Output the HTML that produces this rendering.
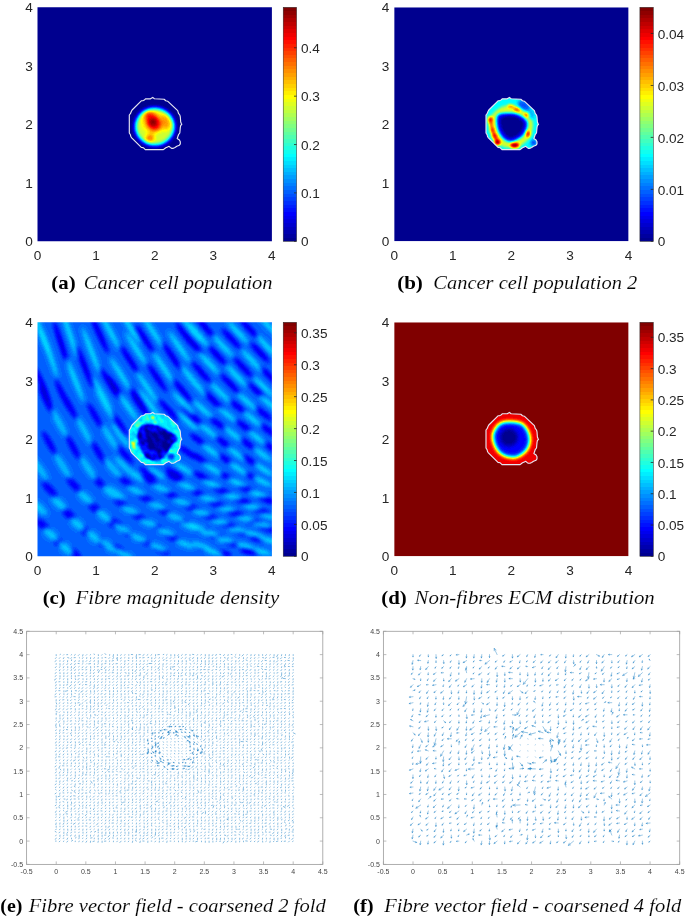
<!DOCTYPE html>
<html><head><meta charset="utf-8"><title>fig</title><style>
html,body{margin:0;padding:0;background:#fff;}
body{width:685px;height:917px;overflow:hidden;position:relative;}
svg{position:absolute;left:0;top:0;will-change:transform;}
</style></head><body>
<svg width="685" height="917" viewBox="0 0 685 917">
<defs><linearGradient id="cbg" x1="0" y1="0" x2="0" y2="1"><stop offset="0.00000" stop-color="#800000"/><stop offset="0.01562" stop-color="#800000"/><stop offset="0.01562" stop-color="#8f0000"/><stop offset="0.03125" stop-color="#8f0000"/><stop offset="0.03125" stop-color="#9f0000"/><stop offset="0.04688" stop-color="#9f0000"/><stop offset="0.04688" stop-color="#af0000"/><stop offset="0.06250" stop-color="#af0000"/><stop offset="0.06250" stop-color="#bf0000"/><stop offset="0.07812" stop-color="#bf0000"/><stop offset="0.07812" stop-color="#cf0000"/><stop offset="0.09375" stop-color="#cf0000"/><stop offset="0.09375" stop-color="#df0000"/><stop offset="0.10938" stop-color="#df0000"/><stop offset="0.10938" stop-color="#ef0000"/><stop offset="0.12500" stop-color="#ef0000"/><stop offset="0.12500" stop-color="#ff0000"/><stop offset="0.14062" stop-color="#ff0000"/><stop offset="0.14062" stop-color="#ff1000"/><stop offset="0.15625" stop-color="#ff1000"/><stop offset="0.15625" stop-color="#ff2000"/><stop offset="0.17188" stop-color="#ff2000"/><stop offset="0.17188" stop-color="#ff3000"/><stop offset="0.18750" stop-color="#ff3000"/><stop offset="0.18750" stop-color="#ff4000"/><stop offset="0.20312" stop-color="#ff4000"/><stop offset="0.20312" stop-color="#ff5000"/><stop offset="0.21875" stop-color="#ff5000"/><stop offset="0.21875" stop-color="#ff6000"/><stop offset="0.23438" stop-color="#ff6000"/><stop offset="0.23438" stop-color="#ff7000"/><stop offset="0.25000" stop-color="#ff7000"/><stop offset="0.25000" stop-color="#ff8000"/><stop offset="0.26562" stop-color="#ff8000"/><stop offset="0.26562" stop-color="#ff8f00"/><stop offset="0.28125" stop-color="#ff8f00"/><stop offset="0.28125" stop-color="#ff9f00"/><stop offset="0.29688" stop-color="#ff9f00"/><stop offset="0.29688" stop-color="#ffaf00"/><stop offset="0.31250" stop-color="#ffaf00"/><stop offset="0.31250" stop-color="#ffbf00"/><stop offset="0.32812" stop-color="#ffbf00"/><stop offset="0.32812" stop-color="#ffcf00"/><stop offset="0.34375" stop-color="#ffcf00"/><stop offset="0.34375" stop-color="#ffdf00"/><stop offset="0.35938" stop-color="#ffdf00"/><stop offset="0.35938" stop-color="#ffef00"/><stop offset="0.37500" stop-color="#ffef00"/><stop offset="0.37500" stop-color="#ffff00"/><stop offset="0.39062" stop-color="#ffff00"/><stop offset="0.39062" stop-color="#efff10"/><stop offset="0.40625" stop-color="#efff10"/><stop offset="0.40625" stop-color="#dfff20"/><stop offset="0.42188" stop-color="#dfff20"/><stop offset="0.42188" stop-color="#cfff30"/><stop offset="0.43750" stop-color="#cfff30"/><stop offset="0.43750" stop-color="#bfff40"/><stop offset="0.45312" stop-color="#bfff40"/><stop offset="0.45312" stop-color="#afff50"/><stop offset="0.46875" stop-color="#afff50"/><stop offset="0.46875" stop-color="#9fff60"/><stop offset="0.48438" stop-color="#9fff60"/><stop offset="0.48438" stop-color="#8fff70"/><stop offset="0.50000" stop-color="#8fff70"/><stop offset="0.50000" stop-color="#80ff80"/><stop offset="0.51562" stop-color="#80ff80"/><stop offset="0.51562" stop-color="#70ff8f"/><stop offset="0.53125" stop-color="#70ff8f"/><stop offset="0.53125" stop-color="#60ff9f"/><stop offset="0.54688" stop-color="#60ff9f"/><stop offset="0.54688" stop-color="#50ffaf"/><stop offset="0.56250" stop-color="#50ffaf"/><stop offset="0.56250" stop-color="#40ffbf"/><stop offset="0.57812" stop-color="#40ffbf"/><stop offset="0.57812" stop-color="#30ffcf"/><stop offset="0.59375" stop-color="#30ffcf"/><stop offset="0.59375" stop-color="#20ffdf"/><stop offset="0.60938" stop-color="#20ffdf"/><stop offset="0.60938" stop-color="#10ffef"/><stop offset="0.62500" stop-color="#10ffef"/><stop offset="0.62500" stop-color="#00ffff"/><stop offset="0.64062" stop-color="#00ffff"/><stop offset="0.64062" stop-color="#00efff"/><stop offset="0.65625" stop-color="#00efff"/><stop offset="0.65625" stop-color="#00dfff"/><stop offset="0.67188" stop-color="#00dfff"/><stop offset="0.67188" stop-color="#00cfff"/><stop offset="0.68750" stop-color="#00cfff"/><stop offset="0.68750" stop-color="#00bfff"/><stop offset="0.70312" stop-color="#00bfff"/><stop offset="0.70312" stop-color="#00afff"/><stop offset="0.71875" stop-color="#00afff"/><stop offset="0.71875" stop-color="#009fff"/><stop offset="0.73438" stop-color="#009fff"/><stop offset="0.73438" stop-color="#008fff"/><stop offset="0.75000" stop-color="#008fff"/><stop offset="0.75000" stop-color="#0080ff"/><stop offset="0.76562" stop-color="#0080ff"/><stop offset="0.76562" stop-color="#0070ff"/><stop offset="0.78125" stop-color="#0070ff"/><stop offset="0.78125" stop-color="#0060ff"/><stop offset="0.79688" stop-color="#0060ff"/><stop offset="0.79688" stop-color="#0050ff"/><stop offset="0.81250" stop-color="#0050ff"/><stop offset="0.81250" stop-color="#0040ff"/><stop offset="0.82812" stop-color="#0040ff"/><stop offset="0.82812" stop-color="#0030ff"/><stop offset="0.84375" stop-color="#0030ff"/><stop offset="0.84375" stop-color="#0020ff"/><stop offset="0.85938" stop-color="#0020ff"/><stop offset="0.85938" stop-color="#0010ff"/><stop offset="0.87500" stop-color="#0010ff"/><stop offset="0.87500" stop-color="#0000ff"/><stop offset="0.89062" stop-color="#0000ff"/><stop offset="0.89062" stop-color="#0000ef"/><stop offset="0.90625" stop-color="#0000ef"/><stop offset="0.90625" stop-color="#0000df"/><stop offset="0.92188" stop-color="#0000df"/><stop offset="0.92188" stop-color="#0000cf"/><stop offset="0.93750" stop-color="#0000cf"/><stop offset="0.93750" stop-color="#0000bf"/><stop offset="0.95312" stop-color="#0000bf"/><stop offset="0.95312" stop-color="#0000af"/><stop offset="0.96875" stop-color="#0000af"/><stop offset="0.96875" stop-color="#00009f"/><stop offset="0.98438" stop-color="#00009f"/><stop offset="0.98438" stop-color="#00008f"/><stop offset="1.00000" stop-color="#00008f"/></linearGradient>
<clipPath id="pc_a"><rect x="37.50" y="7.30" width="234.40" height="234.00"/></clipPath>
<clipPath id="cc_a"><path transform="translate(154.70,124.30)" d="M-2.00,-26.90 -0.30,-25.50 9.40,-25.00 11.10,-23.50 12.90,-23.10 23.00,-13.70 23.80,-11.00 25.10,-9.30 25.60,-7.50 26.00,-2.30 26.50,-1.00 27.10,0.10 26.00,1.20 25.60,3.40 25.10,8.70 23.80,10.40 23.20,12.20 22.50,14.30 24.70,15.70 25.60,17.40 25.60,19.60 24.70,20.90 22.10,22.00 20.30,23.10 18.60,24.00 16.80,24.00 15.50,23.10 14.40,22.00 12.90,22.70 11.10,23.50 9.80,24.40 8.70,25.30 -9.40,25.30 -11.20,23.50 -13.40,23.10 -23.00,13.50 -23.90,12.20 -24.30,10.40 -25.40,8.70 -25.40,-9.30 -24.30,-10.60 -23.40,-12.80 -22.60,-14.30 -13.40,-23.50 -11.60,-23.70 -10.30,-24.40 -9.00,-25.50 -4.20,-25.50Z"/></clipPath>
<clipPath id="pc_b"><rect x="394.20" y="7.30" width="234.40" height="234.00"/></clipPath>
<clipPath id="cc_b"><path transform="translate(511.40,124.30)" d="M-2.00,-26.90 -0.30,-25.50 9.40,-25.00 11.10,-23.50 12.90,-23.10 23.00,-13.70 23.80,-11.00 25.10,-9.30 25.60,-7.50 26.00,-2.30 26.50,-1.00 27.10,0.10 26.00,1.20 25.60,3.40 25.10,8.70 23.80,10.40 23.20,12.20 22.50,14.30 24.70,15.70 25.60,17.40 25.60,19.60 24.70,20.90 22.10,22.00 20.30,23.10 18.60,24.00 16.80,24.00 15.50,23.10 14.40,22.00 12.90,22.70 11.10,23.50 9.80,24.40 8.70,25.30 -9.40,25.30 -11.20,23.50 -13.40,23.10 -23.00,13.50 -23.90,12.20 -24.30,10.40 -25.40,8.70 -25.40,-9.30 -24.30,-10.60 -23.40,-12.80 -22.60,-14.30 -13.40,-23.50 -11.60,-23.70 -10.30,-24.40 -9.00,-25.50 -4.20,-25.50Z"/></clipPath>
<clipPath id="pc_c"><rect x="37.50" y="322.30" width="234.40" height="234.00"/></clipPath>
<clipPath id="cc_c"><path transform="translate(154.70,439.30)" d="M-2.00,-26.90 -0.30,-25.50 9.40,-25.00 11.10,-23.50 12.90,-23.10 23.00,-13.70 23.80,-11.00 25.10,-9.30 25.60,-7.50 26.00,-2.30 26.50,-1.00 27.10,0.10 26.00,1.20 25.60,3.40 25.10,8.70 23.80,10.40 23.20,12.20 22.50,14.30 24.70,15.70 25.60,17.40 25.60,19.60 24.70,20.90 22.10,22.00 20.30,23.10 18.60,24.00 16.80,24.00 15.50,23.10 14.40,22.00 12.90,22.70 11.10,23.50 9.80,24.40 8.70,25.30 -9.40,25.30 -11.20,23.50 -13.40,23.10 -23.00,13.50 -23.90,12.20 -24.30,10.40 -25.40,8.70 -25.40,-9.30 -24.30,-10.60 -23.40,-12.80 -22.60,-14.30 -13.40,-23.50 -11.60,-23.70 -10.30,-24.40 -9.00,-25.50 -4.20,-25.50Z"/></clipPath>
<clipPath id="pc_d"><rect x="394.20" y="322.30" width="234.40" height="234.00"/></clipPath>
<clipPath id="cc_d"><path transform="translate(511.40,439.30)" d="M-2.00,-26.90 -0.30,-25.50 9.40,-25.00 11.10,-23.50 12.90,-23.10 23.00,-13.70 23.80,-11.00 25.10,-9.30 25.60,-7.50 26.00,-2.30 26.50,-1.00 27.10,0.10 26.00,1.20 25.60,3.40 25.10,8.70 23.80,10.40 23.20,12.20 22.50,14.30 24.70,15.70 25.60,17.40 25.60,19.60 24.70,20.90 22.10,22.00 20.30,23.10 18.60,24.00 16.80,24.00 15.50,23.10 14.40,22.00 12.90,22.70 11.10,23.50 9.80,24.40 8.70,25.30 -9.40,25.30 -11.20,23.50 -13.40,23.10 -23.00,13.50 -23.90,12.20 -24.30,10.40 -25.40,8.70 -25.40,-9.30 -24.30,-10.60 -23.40,-12.80 -22.60,-14.30 -13.40,-23.50 -11.60,-23.70 -10.30,-24.40 -9.00,-25.50 -4.20,-25.50Z"/></clipPath>
<filter id="jfa" color-interpolation-filters="sRGB" x="0" y="0" width="1" height="1"><feGaussianBlur stdDeviation="2.30"/><feComponentTransfer><feFuncR type="discrete" tableValues="0.0000 0.0000 0.0000 0.0000 0.0000 0.0000 0.0000 0.0000 0.0000 0.0000 0.0000 0.0000 0.0000 0.0000 0.0000 0.0000 0.0000 0.0000 0.0000 0.0000 0.0000 0.0000 0.0000 0.0000 0.0625 0.1250 0.1875 0.2500 0.3125 0.3750 0.4375 0.5000 0.5625 0.6250 0.6875 0.7500 0.8125 0.8750 0.9375 1.0000 1.0000 1.0000 1.0000 1.0000 1.0000 1.0000 1.0000 1.0000 1.0000 1.0000 1.0000 1.0000 1.0000 1.0000 1.0000 1.0000 0.9375 0.8750 0.8125 0.7500 0.6875 0.6250 0.5625 0.5000"/><feFuncG type="discrete" tableValues="0.0000 0.0000 0.0000 0.0000 0.0000 0.0000 0.0000 0.0000 0.0625 0.1250 0.1875 0.2500 0.3125 0.3750 0.4375 0.5000 0.5625 0.6250 0.6875 0.7500 0.8125 0.8750 0.9375 1.0000 1.0000 1.0000 1.0000 1.0000 1.0000 1.0000 1.0000 1.0000 1.0000 1.0000 1.0000 1.0000 1.0000 1.0000 1.0000 1.0000 0.9375 0.8750 0.8125 0.7500 0.6875 0.6250 0.5625 0.5000 0.4375 0.3750 0.3125 0.2500 0.1875 0.1250 0.0625 0.0000 0.0000 0.0000 0.0000 0.0000 0.0000 0.0000 0.0000 0.0000"/><feFuncB type="discrete" tableValues="0.5625 0.6250 0.6875 0.7500 0.8125 0.8750 0.9375 1.0000 1.0000 1.0000 1.0000 1.0000 1.0000 1.0000 1.0000 1.0000 1.0000 1.0000 1.0000 1.0000 1.0000 1.0000 1.0000 1.0000 0.9375 0.8750 0.8125 0.7500 0.6875 0.6250 0.5625 0.5000 0.4375 0.3750 0.3125 0.2500 0.1875 0.1250 0.0625 0.0000 0.0000 0.0000 0.0000 0.0000 0.0000 0.0000 0.0000 0.0000 0.0000 0.0000 0.0000 0.0000 0.0000 0.0000 0.0000 0.0000 0.0000 0.0000 0.0000 0.0000 0.0000 0.0000 0.0000 0.0000"/></feComponentTransfer></filter>
<filter id="jfb" color-interpolation-filters="sRGB" x="0" y="0" width="1" height="1"><feGaussianBlur stdDeviation="1.80"/><feComponentTransfer><feFuncR type="discrete" tableValues="0.0000 0.0000 0.0000 0.0000 0.0000 0.0000 0.0000 0.0000 0.0000 0.0000 0.0000 0.0000 0.0000 0.0000 0.0000 0.0000 0.0000 0.0000 0.0000 0.0000 0.0000 0.0000 0.0000 0.0000 0.0625 0.1250 0.1875 0.2500 0.3125 0.3750 0.4375 0.5000 0.5625 0.6250 0.6875 0.7500 0.8125 0.8750 0.9375 1.0000 1.0000 1.0000 1.0000 1.0000 1.0000 1.0000 1.0000 1.0000 1.0000 1.0000 1.0000 1.0000 1.0000 1.0000 1.0000 1.0000 0.9375 0.8750 0.8125 0.7500 0.6875 0.6250 0.5625 0.5000"/><feFuncG type="discrete" tableValues="0.0000 0.0000 0.0000 0.0000 0.0000 0.0000 0.0000 0.0000 0.0625 0.1250 0.1875 0.2500 0.3125 0.3750 0.4375 0.5000 0.5625 0.6250 0.6875 0.7500 0.8125 0.8750 0.9375 1.0000 1.0000 1.0000 1.0000 1.0000 1.0000 1.0000 1.0000 1.0000 1.0000 1.0000 1.0000 1.0000 1.0000 1.0000 1.0000 1.0000 0.9375 0.8750 0.8125 0.7500 0.6875 0.6250 0.5625 0.5000 0.4375 0.3750 0.3125 0.2500 0.1875 0.1250 0.0625 0.0000 0.0000 0.0000 0.0000 0.0000 0.0000 0.0000 0.0000 0.0000"/><feFuncB type="discrete" tableValues="0.5625 0.6250 0.6875 0.7500 0.8125 0.8750 0.9375 1.0000 1.0000 1.0000 1.0000 1.0000 1.0000 1.0000 1.0000 1.0000 1.0000 1.0000 1.0000 1.0000 1.0000 1.0000 1.0000 1.0000 0.9375 0.8750 0.8125 0.7500 0.6875 0.6250 0.5625 0.5000 0.4375 0.3750 0.3125 0.2500 0.1875 0.1250 0.0625 0.0000 0.0000 0.0000 0.0000 0.0000 0.0000 0.0000 0.0000 0.0000 0.0000 0.0000 0.0000 0.0000 0.0000 0.0000 0.0000 0.0000 0.0000 0.0000 0.0000 0.0000 0.0000 0.0000 0.0000 0.0000"/></feComponentTransfer></filter>
<filter id="jfc" color-interpolation-filters="sRGB" x="0" y="0" width="1" height="1"><feGaussianBlur stdDeviation="2.30"/><feComponentTransfer><feFuncR type="discrete" tableValues="0.0000 0.0000 0.0000 0.0000 0.0000 0.0000 0.0000 0.0000 0.0000 0.0000 0.0000 0.0000 0.0000 0.0000 0.0000 0.0000 0.0000 0.0000 0.0000 0.0000 0.0000 0.0000 0.0000 0.0000 0.0625 0.1250 0.1875 0.2500 0.3125 0.3750 0.4375 0.5000 0.5625 0.6250 0.6875 0.7500 0.8125 0.8750 0.9375 1.0000 1.0000 1.0000 1.0000 1.0000 1.0000 1.0000 1.0000 1.0000 1.0000 1.0000 1.0000 1.0000 1.0000 1.0000 1.0000 1.0000 0.9375 0.8750 0.8125 0.7500 0.6875 0.6250 0.5625 0.5000"/><feFuncG type="discrete" tableValues="0.0000 0.0000 0.0000 0.0000 0.0000 0.0000 0.0000 0.0000 0.0625 0.1250 0.1875 0.2500 0.3125 0.3750 0.4375 0.5000 0.5625 0.6250 0.6875 0.7500 0.8125 0.8750 0.9375 1.0000 1.0000 1.0000 1.0000 1.0000 1.0000 1.0000 1.0000 1.0000 1.0000 1.0000 1.0000 1.0000 1.0000 1.0000 1.0000 1.0000 0.9375 0.8750 0.8125 0.7500 0.6875 0.6250 0.5625 0.5000 0.4375 0.3750 0.3125 0.2500 0.1875 0.1250 0.0625 0.0000 0.0000 0.0000 0.0000 0.0000 0.0000 0.0000 0.0000 0.0000"/><feFuncB type="discrete" tableValues="0.5625 0.6250 0.6875 0.7500 0.8125 0.8750 0.9375 1.0000 1.0000 1.0000 1.0000 1.0000 1.0000 1.0000 1.0000 1.0000 1.0000 1.0000 1.0000 1.0000 1.0000 1.0000 1.0000 1.0000 0.9375 0.8750 0.8125 0.7500 0.6875 0.6250 0.5625 0.5000 0.4375 0.3750 0.3125 0.2500 0.1875 0.1250 0.0625 0.0000 0.0000 0.0000 0.0000 0.0000 0.0000 0.0000 0.0000 0.0000 0.0000 0.0000 0.0000 0.0000 0.0000 0.0000 0.0000 0.0000 0.0000 0.0000 0.0000 0.0000 0.0000 0.0000 0.0000 0.0000"/></feComponentTransfer></filter>
<filter id="jfc2" color-interpolation-filters="sRGB" x="0" y="0" width="1" height="1"><feGaussianBlur stdDeviation="1.00"/><feComponentTransfer><feFuncR type="discrete" tableValues="0.0000 0.0000 0.0000 0.0000 0.0000 0.0000 0.0000 0.0000 0.0000 0.0000 0.0000 0.0000 0.0000 0.0000 0.0000 0.0000 0.0000 0.0000 0.0000 0.0000 0.0000 0.0000 0.0000 0.0000 0.0625 0.1250 0.1875 0.2500 0.3125 0.3750 0.4375 0.5000 0.5625 0.6250 0.6875 0.7500 0.8125 0.8750 0.9375 1.0000 1.0000 1.0000 1.0000 1.0000 1.0000 1.0000 1.0000 1.0000 1.0000 1.0000 1.0000 1.0000 1.0000 1.0000 1.0000 1.0000 0.9375 0.8750 0.8125 0.7500 0.6875 0.6250 0.5625 0.5000"/><feFuncG type="discrete" tableValues="0.0000 0.0000 0.0000 0.0000 0.0000 0.0000 0.0000 0.0000 0.0625 0.1250 0.1875 0.2500 0.3125 0.3750 0.4375 0.5000 0.5625 0.6250 0.6875 0.7500 0.8125 0.8750 0.9375 1.0000 1.0000 1.0000 1.0000 1.0000 1.0000 1.0000 1.0000 1.0000 1.0000 1.0000 1.0000 1.0000 1.0000 1.0000 1.0000 1.0000 0.9375 0.8750 0.8125 0.7500 0.6875 0.6250 0.5625 0.5000 0.4375 0.3750 0.3125 0.2500 0.1875 0.1250 0.0625 0.0000 0.0000 0.0000 0.0000 0.0000 0.0000 0.0000 0.0000 0.0000"/><feFuncB type="discrete" tableValues="0.5625 0.6250 0.6875 0.7500 0.8125 0.8750 0.9375 1.0000 1.0000 1.0000 1.0000 1.0000 1.0000 1.0000 1.0000 1.0000 1.0000 1.0000 1.0000 1.0000 1.0000 1.0000 1.0000 1.0000 0.9375 0.8750 0.8125 0.7500 0.6875 0.6250 0.5625 0.5000 0.4375 0.3750 0.3125 0.2500 0.1875 0.1250 0.0625 0.0000 0.0000 0.0000 0.0000 0.0000 0.0000 0.0000 0.0000 0.0000 0.0000 0.0000 0.0000 0.0000 0.0000 0.0000 0.0000 0.0000 0.0000 0.0000 0.0000 0.0000 0.0000 0.0000 0.0000 0.0000"/></feComponentTransfer></filter>
<filter id="jfd" color-interpolation-filters="sRGB" x="0" y="0" width="1" height="1"><feGaussianBlur stdDeviation="2.20"/><feComponentTransfer><feFuncR type="discrete" tableValues="0.0000 0.0000 0.0000 0.0000 0.0000 0.0000 0.0000 0.0000 0.0000 0.0000 0.0000 0.0000 0.0000 0.0000 0.0000 0.0000 0.0000 0.0000 0.0000 0.0000 0.0000 0.0000 0.0000 0.0000 0.0625 0.1250 0.1875 0.2500 0.3125 0.3750 0.4375 0.5000 0.5625 0.6250 0.6875 0.7500 0.8125 0.8750 0.9375 1.0000 1.0000 1.0000 1.0000 1.0000 1.0000 1.0000 1.0000 1.0000 1.0000 1.0000 1.0000 1.0000 1.0000 1.0000 1.0000 1.0000 0.9375 0.8750 0.8125 0.7500 0.6875 0.6250 0.5625 0.5000"/><feFuncG type="discrete" tableValues="0.0000 0.0000 0.0000 0.0000 0.0000 0.0000 0.0000 0.0000 0.0625 0.1250 0.1875 0.2500 0.3125 0.3750 0.4375 0.5000 0.5625 0.6250 0.6875 0.7500 0.8125 0.8750 0.9375 1.0000 1.0000 1.0000 1.0000 1.0000 1.0000 1.0000 1.0000 1.0000 1.0000 1.0000 1.0000 1.0000 1.0000 1.0000 1.0000 1.0000 0.9375 0.8750 0.8125 0.7500 0.6875 0.6250 0.5625 0.5000 0.4375 0.3750 0.3125 0.2500 0.1875 0.1250 0.0625 0.0000 0.0000 0.0000 0.0000 0.0000 0.0000 0.0000 0.0000 0.0000"/><feFuncB type="discrete" tableValues="0.5625 0.6250 0.6875 0.7500 0.8125 0.8750 0.9375 1.0000 1.0000 1.0000 1.0000 1.0000 1.0000 1.0000 1.0000 1.0000 1.0000 1.0000 1.0000 1.0000 1.0000 1.0000 1.0000 1.0000 0.9375 0.8750 0.8125 0.7500 0.6875 0.6250 0.5625 0.5000 0.4375 0.3750 0.3125 0.2500 0.1875 0.1250 0.0625 0.0000 0.0000 0.0000 0.0000 0.0000 0.0000 0.0000 0.0000 0.0000 0.0000 0.0000 0.0000 0.0000 0.0000 0.0000 0.0000 0.0000 0.0000 0.0000 0.0000 0.0000 0.0000 0.0000 0.0000 0.0000"/></feComponentTransfer></filter></defs>
<text x="32.70" y="246.17" font-size="13.60" text-anchor="end" fill="#262626" font-family="Liberation Sans" >0</text>
<text x="32.70" y="187.67" font-size="13.60" text-anchor="end" fill="#262626" font-family="Liberation Sans" >1</text>
<text x="32.70" y="129.17" font-size="13.60" text-anchor="end" fill="#262626" font-family="Liberation Sans" >2</text>
<text x="32.70" y="70.67" font-size="13.60" text-anchor="end" fill="#262626" font-family="Liberation Sans" >3</text>
<text x="32.70" y="12.17" font-size="13.60" text-anchor="end" fill="#262626" font-family="Liberation Sans" >4</text>
<text x="37.50" y="259.87" font-size="13.60" text-anchor="middle" fill="#262626" font-family="Liberation Sans" >0</text>
<text x="96.10" y="259.87" font-size="13.60" text-anchor="middle" fill="#262626" font-family="Liberation Sans" >1</text>
<text x="154.70" y="259.87" font-size="13.60" text-anchor="middle" fill="#262626" font-family="Liberation Sans" >2</text>
<text x="213.30" y="259.87" font-size="13.60" text-anchor="middle" fill="#262626" font-family="Liberation Sans" >3</text>
<text x="271.90" y="259.87" font-size="13.60" text-anchor="middle" fill="#262626" font-family="Liberation Sans" >4</text>
<rect x="283.20" y="7.30" width="13.40" height="234.00" fill="url(#cbg)" stroke="#262626" stroke-width="0.5"/>
<path d="M296.60 241.30h-2.6" stroke="#262626" stroke-width="0.8"/>
<text x="301.00" y="246.47" font-size="13.60" text-anchor="start" fill="#262626" font-family="Liberation Sans" >0</text>
<path d="M296.60 192.92h-2.6" stroke="#262626" stroke-width="0.8"/>
<text x="301.00" y="198.09" font-size="13.60" text-anchor="start" fill="#262626" font-family="Liberation Sans" >0.1</text>
<path d="M296.60 144.55h-2.6" stroke="#262626" stroke-width="0.8"/>
<text x="301.00" y="149.71" font-size="13.60" text-anchor="start" fill="#262626" font-family="Liberation Sans" >0.2</text>
<path d="M296.60 96.17h-2.6" stroke="#262626" stroke-width="0.8"/>
<text x="301.00" y="101.34" font-size="13.60" text-anchor="start" fill="#262626" font-family="Liberation Sans" >0.3</text>
<path d="M296.60 47.79h-2.6" stroke="#262626" stroke-width="0.8"/>
<text x="301.00" y="52.96" font-size="13.60" text-anchor="start" fill="#262626" font-family="Liberation Sans" >0.4</text>
<text x="389.40" y="246.17" font-size="13.60" text-anchor="end" fill="#262626" font-family="Liberation Sans" >0</text>
<text x="389.40" y="187.67" font-size="13.60" text-anchor="end" fill="#262626" font-family="Liberation Sans" >1</text>
<text x="389.40" y="129.17" font-size="13.60" text-anchor="end" fill="#262626" font-family="Liberation Sans" >2</text>
<text x="389.40" y="70.67" font-size="13.60" text-anchor="end" fill="#262626" font-family="Liberation Sans" >3</text>
<text x="389.40" y="12.17" font-size="13.60" text-anchor="end" fill="#262626" font-family="Liberation Sans" >4</text>
<text x="394.20" y="259.87" font-size="13.60" text-anchor="middle" fill="#262626" font-family="Liberation Sans" >0</text>
<text x="452.80" y="259.87" font-size="13.60" text-anchor="middle" fill="#262626" font-family="Liberation Sans" >1</text>
<text x="511.40" y="259.87" font-size="13.60" text-anchor="middle" fill="#262626" font-family="Liberation Sans" >2</text>
<text x="570.00" y="259.87" font-size="13.60" text-anchor="middle" fill="#262626" font-family="Liberation Sans" >3</text>
<text x="628.60" y="259.87" font-size="13.60" text-anchor="middle" fill="#262626" font-family="Liberation Sans" >4</text>
<rect x="639.90" y="7.30" width="13.40" height="234.00" fill="url(#cbg)" stroke="#262626" stroke-width="0.5"/>
<path d="M653.30 241.30h-2.6" stroke="#262626" stroke-width="0.8"/>
<text x="657.70" y="246.47" font-size="13.60" text-anchor="start" fill="#262626" font-family="Liberation Sans" >0</text>
<path d="M653.30 189.35h-2.6" stroke="#262626" stroke-width="0.8"/>
<text x="657.70" y="194.51" font-size="13.60" text-anchor="start" fill="#262626" font-family="Liberation Sans" >0.01</text>
<path d="M653.30 137.39h-2.6" stroke="#262626" stroke-width="0.8"/>
<text x="657.70" y="142.56" font-size="13.60" text-anchor="start" fill="#262626" font-family="Liberation Sans" >0.02</text>
<path d="M653.30 85.44h-2.6" stroke="#262626" stroke-width="0.8"/>
<text x="657.70" y="90.61" font-size="13.60" text-anchor="start" fill="#262626" font-family="Liberation Sans" >0.03</text>
<path d="M653.30 33.48h-2.6" stroke="#262626" stroke-width="0.8"/>
<text x="657.70" y="38.65" font-size="13.60" text-anchor="start" fill="#262626" font-family="Liberation Sans" >0.04</text>
<text x="32.70" y="561.17" font-size="13.60" text-anchor="end" fill="#262626" font-family="Liberation Sans" >0</text>
<text x="32.70" y="502.67" font-size="13.60" text-anchor="end" fill="#262626" font-family="Liberation Sans" >1</text>
<text x="32.70" y="444.17" font-size="13.60" text-anchor="end" fill="#262626" font-family="Liberation Sans" >2</text>
<text x="32.70" y="385.67" font-size="13.60" text-anchor="end" fill="#262626" font-family="Liberation Sans" >3</text>
<text x="32.70" y="327.17" font-size="13.60" text-anchor="end" fill="#262626" font-family="Liberation Sans" >4</text>
<text x="37.50" y="574.87" font-size="13.60" text-anchor="middle" fill="#262626" font-family="Liberation Sans" >0</text>
<text x="96.10" y="574.87" font-size="13.60" text-anchor="middle" fill="#262626" font-family="Liberation Sans" >1</text>
<text x="154.70" y="574.87" font-size="13.60" text-anchor="middle" fill="#262626" font-family="Liberation Sans" >2</text>
<text x="213.30" y="574.87" font-size="13.60" text-anchor="middle" fill="#262626" font-family="Liberation Sans" >3</text>
<text x="271.90" y="574.87" font-size="13.60" text-anchor="middle" fill="#262626" font-family="Liberation Sans" >4</text>
<rect x="283.20" y="322.30" width="13.40" height="234.00" fill="url(#cbg)" stroke="#262626" stroke-width="0.5"/>
<path d="M296.60 556.30h-2.6" stroke="#262626" stroke-width="0.8"/>
<text x="301.00" y="561.47" font-size="13.60" text-anchor="start" fill="#262626" font-family="Liberation Sans" >0</text>
<path d="M296.60 524.38h-2.6" stroke="#262626" stroke-width="0.8"/>
<text x="301.00" y="529.55" font-size="13.60" text-anchor="start" fill="#262626" font-family="Liberation Sans" >0.05</text>
<path d="M296.60 492.45h-2.6" stroke="#262626" stroke-width="0.8"/>
<text x="301.00" y="497.62" font-size="13.60" text-anchor="start" fill="#262626" font-family="Liberation Sans" >0.1</text>
<path d="M296.60 460.53h-2.6" stroke="#262626" stroke-width="0.8"/>
<text x="301.00" y="465.70" font-size="13.60" text-anchor="start" fill="#262626" font-family="Liberation Sans" >0.15</text>
<path d="M296.60 428.61h-2.6" stroke="#262626" stroke-width="0.8"/>
<text x="301.00" y="433.77" font-size="13.60" text-anchor="start" fill="#262626" font-family="Liberation Sans" >0.2</text>
<path d="M296.60 396.68h-2.6" stroke="#262626" stroke-width="0.8"/>
<text x="301.00" y="401.85" font-size="13.60" text-anchor="start" fill="#262626" font-family="Liberation Sans" >0.25</text>
<path d="M296.60 364.76h-2.6" stroke="#262626" stroke-width="0.8"/>
<text x="301.00" y="369.93" font-size="13.60" text-anchor="start" fill="#262626" font-family="Liberation Sans" >0.3</text>
<path d="M296.60 332.83h-2.6" stroke="#262626" stroke-width="0.8"/>
<text x="301.00" y="338.00" font-size="13.60" text-anchor="start" fill="#262626" font-family="Liberation Sans" >0.35</text>
<text x="389.40" y="561.17" font-size="13.60" text-anchor="end" fill="#262626" font-family="Liberation Sans" >0</text>
<text x="389.40" y="502.67" font-size="13.60" text-anchor="end" fill="#262626" font-family="Liberation Sans" >1</text>
<text x="389.40" y="444.17" font-size="13.60" text-anchor="end" fill="#262626" font-family="Liberation Sans" >2</text>
<text x="389.40" y="385.67" font-size="13.60" text-anchor="end" fill="#262626" font-family="Liberation Sans" >3</text>
<text x="389.40" y="327.17" font-size="13.60" text-anchor="end" fill="#262626" font-family="Liberation Sans" >4</text>
<text x="394.20" y="574.87" font-size="13.60" text-anchor="middle" fill="#262626" font-family="Liberation Sans" >0</text>
<text x="452.80" y="574.87" font-size="13.60" text-anchor="middle" fill="#262626" font-family="Liberation Sans" >1</text>
<text x="511.40" y="574.87" font-size="13.60" text-anchor="middle" fill="#262626" font-family="Liberation Sans" >2</text>
<text x="570.00" y="574.87" font-size="13.60" text-anchor="middle" fill="#262626" font-family="Liberation Sans" >3</text>
<text x="628.60" y="574.87" font-size="13.60" text-anchor="middle" fill="#262626" font-family="Liberation Sans" >4</text>
<rect x="639.90" y="322.30" width="13.40" height="234.00" fill="url(#cbg)" stroke="#262626" stroke-width="0.5"/>
<path d="M653.30 556.30h-2.6" stroke="#262626" stroke-width="0.8"/>
<text x="657.70" y="561.47" font-size="13.60" text-anchor="start" fill="#262626" font-family="Liberation Sans" >0</text>
<path d="M653.30 525.02h-2.6" stroke="#262626" stroke-width="0.8"/>
<text x="657.70" y="530.19" font-size="13.60" text-anchor="start" fill="#262626" font-family="Liberation Sans" >0.05</text>
<path d="M653.30 493.73h-2.6" stroke="#262626" stroke-width="0.8"/>
<text x="657.70" y="498.90" font-size="13.60" text-anchor="start" fill="#262626" font-family="Liberation Sans" >0.1</text>
<path d="M653.30 462.45h-2.6" stroke="#262626" stroke-width="0.8"/>
<text x="657.70" y="467.62" font-size="13.60" text-anchor="start" fill="#262626" font-family="Liberation Sans" >0.15</text>
<path d="M653.30 431.17h-2.6" stroke="#262626" stroke-width="0.8"/>
<text x="657.70" y="436.34" font-size="13.60" text-anchor="start" fill="#262626" font-family="Liberation Sans" >0.2</text>
<path d="M653.30 399.88h-2.6" stroke="#262626" stroke-width="0.8"/>
<text x="657.70" y="405.05" font-size="13.60" text-anchor="start" fill="#262626" font-family="Liberation Sans" >0.25</text>
<path d="M653.30 368.60h-2.6" stroke="#262626" stroke-width="0.8"/>
<text x="657.70" y="373.77" font-size="13.60" text-anchor="start" fill="#262626" font-family="Liberation Sans" >0.3</text>
<path d="M653.30 337.32h-2.6" stroke="#262626" stroke-width="0.8"/>
<text x="657.70" y="342.48" font-size="13.60" text-anchor="start" fill="#262626" font-family="Liberation Sans" >0.35</text>
<g clip-path="url(#pc_a)"><g filter="url(#jfa)"><rect x="17.50" y="-12.70" width="274.40" height="274.00" fill="#000000"/><g transform="translate(154.70,124.30)"><ellipse cx="0.10" cy="2.40" rx="19.60" ry="18.60" fill="#919191"/><path d="M-13.94,-9.16C-13.07,-12.08 -9.86,-12.96 -6.94,-13.54C-4.02,-14.13 0.36,-13.40 3.57,-12.67C6.79,-11.94 10.14,-10.77 12.33,-9.16C14.52,-7.56 16.13,-5.22 16.71,-3.03C17.30,-0.84 19.19,2.22 15.84,3.98C12.48,5.73 1.24,7.48 -3.43,7.48C-8.11,7.48 -10.44,6.75 -12.19,3.98C-13.94,1.20 -14.82,-6.24 -13.94,-9.16Z" fill="#a3a3a3"/><path d="M7.95,-9.16C8.68,-9.75 10.29,-8.72 11.46,-7.41C12.62,-6.10 14.67,-3.18 14.96,-1.28C15.25,0.62 13.94,2.81 13.21,3.98C12.48,5.14 11.31,6.17 10.58,5.73C9.85,5.29 9.41,2.95 8.83,1.35C8.25,-0.26 7.22,-2.15 7.08,-3.91C6.93,-5.66 7.22,-8.58 7.95,-9.16Z" fill="#bababa"/><path d="M-9.31,-11.13C-8.56,-12.24 -6.01,-12.75 -4.58,-12.65C-3.15,-12.54 -2.04,-11.42 -0.71,-10.49C0.62,-9.57 2.22,-8.36 3.38,-7.12C4.53,-5.88 5.70,-4.54 6.23,-3.05C6.75,-1.56 6.90,0.36 6.54,1.80C6.18,3.24 5.28,4.80 4.07,5.60C2.86,6.41 0.72,6.76 -0.73,6.63C-2.18,6.49 -3.48,5.92 -4.65,4.81C-5.82,3.70 -7.02,1.77 -7.76,-0.03C-8.50,-1.83 -8.82,-4.15 -9.08,-6.00C-9.34,-7.85 -10.06,-10.02 -9.31,-11.13Z" fill="#dbdbdb"/><ellipse cx="-1.86" cy="-1.98" rx="4.20" ry="4.00" fill="#ffffff"/><ellipse cx="-4.75" cy="14.05" rx="4.20" ry="3.00" fill="#cccccc"/><ellipse cx="-3.43" cy="9.23" rx="3.00" ry="3.00" fill="#adadad"/></g></g></g>
<path transform="translate(154.70,124.30)" d="M-2.00,-26.90 -0.30,-25.50 9.40,-25.00 11.10,-23.50 12.90,-23.10 23.00,-13.70 23.80,-11.00 25.10,-9.30 25.60,-7.50 26.00,-2.30 26.50,-1.00 27.10,0.10 26.00,1.20 25.60,3.40 25.10,8.70 23.80,10.40 23.20,12.20 22.50,14.30 24.70,15.70 25.60,17.40 25.60,19.60 24.70,20.90 22.10,22.00 20.30,23.10 18.60,24.00 16.80,24.00 15.50,23.10 14.40,22.00 12.90,22.70 11.10,23.50 9.80,24.40 8.70,25.30 -9.40,25.30 -11.20,23.50 -13.40,23.10 -23.00,13.50 -23.90,12.20 -24.30,10.40 -25.40,8.70 -25.40,-9.30 -24.30,-10.60 -23.40,-12.80 -22.60,-14.30 -13.40,-23.50 -11.60,-23.70 -10.30,-24.40 -9.00,-25.50 -4.20,-25.50Z" fill="none" stroke="#e6e6f2" stroke-width="1.15" stroke-linejoin="round"/>
<g clip-path="url(#pc_b)"><rect x="394.20" y="7.30" width="234.40" height="234.00" fill="#00008f"/>
<g clip-path="url(#cc_b)"><g filter="url(#jfb)"><rect x="374.20" y="-12.70" width="274.40" height="274.00" fill="#5c5c5c"/><g transform="translate(511.40,124.30)"><path d="M-18.89,-10.04C-17.36,-11.94 -14.51,-14.71 -11.89,-16.17C-9.26,-17.63 -6.34,-18.65 -3.13,-18.80C0.08,-18.94 4.17,-18.36 7.38,-17.05C10.60,-15.73 13.88,-13.25 16.14,-10.91C18.41,-8.58 20.16,-5.80 20.96,-3.03C21.76,-0.26 21.47,2.95 20.96,5.73C20.45,8.50 19.72,11.13 17.89,13.61C16.07,16.09 12.93,19.01 10.01,20.62C7.09,22.22 3.73,23.10 0.38,23.25C-2.98,23.39 -7.07,22.95 -10.13,21.49C-13.20,20.04 -16.12,17.41 -18.02,14.49C-19.92,11.57 -21.01,7.19 -21.52,3.98C-22.03,0.76 -21.52,-2.45 -21.08,-4.78C-20.65,-7.12 -20.43,-8.14 -18.89,-10.04Z" fill="#949494"/><ellipse cx="12.64" cy="-18.80" rx="6.50" ry="4.50" fill="#333333" transform="rotate(35.0 12.64 -18.80)"/><ellipse cx="19.65" cy="-10.04" rx="3.00" ry="5.00" fill="#4c4c4c"/><ellipse cx="-21.08" cy="-4.34" rx="2.30" ry="3.50" fill="#ebebeb"/><ellipse cx="-20.47" cy="0.04" rx="2.00" ry="3.00" fill="#cccccc"/><ellipse cx="-19.07" cy="5.73" rx="2.30" ry="3.50" fill="#dbdbdb" transform="rotate(-15.0 -19.07 5.73)"/><ellipse cx="-16.70" cy="11.86" rx="2.50" ry="3.50" fill="#e6e6e6" transform="rotate(-30.0 -16.70 11.86)"/><ellipse cx="-14.08" cy="17.99" rx="3.00" ry="3.00" fill="#ffffff"/><ellipse cx="3.44" cy="21.06" rx="4.50" ry="2.60" fill="#ffffff"/><ellipse cx="16.58" cy="9.67" rx="2.00" ry="3.40" fill="#e6e6e6"/><ellipse cx="-1.81" cy="-18.36" rx="1.60" ry="1.30" fill="#f2f2f2"/><ellipse cx="1.43" cy="-17.75" rx="1.50" ry="1.20" fill="#e6e6e6"/><ellipse cx="4.76" cy="-14.86" rx="2.00" ry="1.40" fill="#f2f2f2" transform="rotate(20.0 4.76 -14.86)"/><ellipse cx="7.82" cy="-13.98" rx="1.60" ry="1.20" fill="#d9d9d9"/><ellipse cx="15.27" cy="-9.34" rx="2.20" ry="1.50" fill="#f2f2f2" transform="rotate(30.0 15.27 -9.34)"/><ellipse cx="22.27" cy="18.43" rx="3.00" ry="3.00" fill="#2e2e2e"/><path d="M-14.95,-6.53C-14.59,-8.94 -13.56,-9.67 -11.89,-10.48C-10.21,-11.28 -7.51,-11.28 -4.88,-11.35C-2.25,-11.42 1.11,-11.57 3.88,-10.91C6.65,-10.26 9.72,-8.87 11.76,-7.41C13.81,-5.95 15.49,-4.05 16.14,-2.15C16.80,-0.26 16.29,1.93 15.71,3.98C15.12,6.02 14.03,8.36 12.64,10.11C11.25,11.86 9.43,13.25 7.38,14.49C5.34,15.73 2.57,17.26 0.38,17.55C-1.81,17.85 -3.86,17.33 -5.75,16.24C-7.65,15.14 -9.62,13.03 -11.01,10.98C-12.40,8.94 -13.42,6.90 -14.08,3.98C-14.73,1.06 -15.32,-4.13 -14.95,-6.53Z" fill="#1f1f1f"/><path d="M-10.57,-6.10C-9.40,-7.41 -6.41,-7.99 -4.00,-8.29C-1.59,-8.58 1.54,-8.43 3.88,-7.85C6.22,-7.26 8.55,-6.02 10.01,-4.78C11.47,-3.54 12.49,-2.15 12.64,-0.40C12.79,1.35 11.91,3.83 10.89,5.73C9.87,7.63 8.26,9.67 6.51,10.98C4.76,12.30 2.27,13.47 0.38,13.61C-1.52,13.76 -3.27,13.17 -4.88,11.86C-6.48,10.55 -8.24,7.77 -9.26,5.73C-10.28,3.68 -10.79,1.57 -11.01,-0.40C-11.23,-2.37 -11.74,-4.78 -10.57,-6.10Z" fill="#000000"/></g></g></g></g>
<path transform="translate(511.40,124.30)" d="M-2.00,-26.90 -0.30,-25.50 9.40,-25.00 11.10,-23.50 12.90,-23.10 23.00,-13.70 23.80,-11.00 25.10,-9.30 25.60,-7.50 26.00,-2.30 26.50,-1.00 27.10,0.10 26.00,1.20 25.60,3.40 25.10,8.70 23.80,10.40 23.20,12.20 22.50,14.30 24.70,15.70 25.60,17.40 25.60,19.60 24.70,20.90 22.10,22.00 20.30,23.10 18.60,24.00 16.80,24.00 15.50,23.10 14.40,22.00 12.90,22.70 11.10,23.50 9.80,24.40 8.70,25.30 -9.40,25.30 -11.20,23.50 -13.40,23.10 -23.00,13.50 -23.90,12.20 -24.30,10.40 -25.40,8.70 -25.40,-9.30 -24.30,-10.60 -23.40,-12.80 -22.60,-14.30 -13.40,-23.50 -11.60,-23.70 -10.30,-24.40 -9.00,-25.50 -4.20,-25.50Z" fill="none" stroke="#e6e6f2" stroke-width="1.15" stroke-linejoin="round"/>
<g clip-path="url(#pc_c)"><g filter="url(#jfc)"><rect x="17.50" y="302.30" width="274.40" height="274.00" fill="#373737"/><g transform="translate(154.70,439.30)"><ellipse cx="-93.80" cy="-96.20" rx="23.99" ry="2.03" fill="#090909" transform="rotate(72.0 -93.80 -96.20)"/><ellipse cx="-69.90" cy="-72.30" rx="22.65" ry="2.11" fill="#0b0b0b" transform="rotate(69.3 -69.90 -72.30)"/><ellipse cx="-111.40" cy="-52.40" rx="21.22" ry="2.26" fill="#0e0e0e" transform="rotate(67.8 -111.40 -52.40)"/><ellipse cx="-55.10" cy="-104.80" rx="21.29" ry="2.13" fill="#0b0b0b" transform="rotate(65.6 -55.10 -104.80)"/><ellipse cx="-44.80" cy="-55.80" rx="18.16" ry="2.32" fill="#0f0f0f" transform="rotate(59.7 -44.80 -55.80)"/><ellipse cx="-91.50" cy="-43.30" rx="18.55" ry="2.50" fill="#121212" transform="rotate(64.7 -91.50 -43.30)"/><ellipse cx="-24.90" cy="-79.20" rx="18.01" ry="2.17" fill="#0c0c0c" transform="rotate(57.1 -24.90 -79.20)"/><ellipse cx="-9.50" cy="-99.70" rx="17.98" ry="2.16" fill="#0c0c0c" transform="rotate(57.0 -9.50 -99.70)"/><ellipse cx="17.20" cy="-83.10" rx="17.77" ry="2.17" fill="#0c0c0c" transform="rotate(56.4 17.20 -83.10)"/><ellipse cx="2.40" cy="-61.50" rx="17.76" ry="2.18" fill="#0c0c0c" transform="rotate(56.4 2.40 -61.50)"/><ellipse cx="30.90" cy="-103.60" rx="16.71" ry="2.21" fill="#0d0d0d" transform="rotate(53.4 30.90 -103.60)"/><ellipse cx="27.50" cy="-49.00" rx="15.67" ry="2.28" fill="#0e0e0e" transform="rotate(50.6 27.50 -49.00)"/><ellipse cx="-37.40" cy="-49.00" rx="17.43" ry="2.36" fill="#101010" transform="rotate(58.0 -37.40 -49.00)"/><ellipse cx="-18.10" cy="-42.10" rx="16.90" ry="2.32" fill="#0f0f0f" transform="rotate(55.5 -18.10 -42.10)"/><ellipse cx="51.00" cy="-111.50" rx="15.05" ry="2.25" fill="#0e0e0e" transform="rotate(48.8 51.00 -111.50)"/><ellipse cx="76.40" cy="-100.60" rx="14.41" ry="2.25" fill="#0e0e0e" transform="rotate(47.0 76.40 -100.60)"/><ellipse cx="62.50" cy="-83.90" rx="14.43" ry="2.25" fill="#0e0e0e" transform="rotate(47.1 62.50 -83.90)"/><ellipse cx="40.60" cy="-93.10" rx="15.67" ry="2.24" fill="#0e0e0e" transform="rotate(50.5 40.60 -93.10)"/><ellipse cx="88.50" cy="-71.70" rx="14.38" ry="2.25" fill="#0e0e0e" transform="rotate(46.9 88.50 -71.70)"/><ellipse cx="105.20" cy="-86.70" rx="14.35" ry="2.26" fill="#0e0e0e" transform="rotate(46.8 105.20 -86.70)"/><ellipse cx="46.90" cy="-66.60" rx="14.86" ry="2.27" fill="#0e0e0e" transform="rotate(48.3 46.90 -66.60)"/><ellipse cx="75.20" cy="-55.60" rx="14.06" ry="2.28" fill="#0e0e0e" transform="rotate(46.0 75.20 -55.60)"/><ellipse cx="102.90" cy="-47.50" rx="13.22" ry="2.33" fill="#0f0f0f" transform="rotate(43.6 102.90 -47.50)"/><ellipse cx="115.00" cy="-63.10" rx="13.90" ry="2.29" fill="#0e0e0e" transform="rotate(45.5 115.00 -63.10)"/><ellipse cx="55.60" cy="-41.80" rx="13.22" ry="2.36" fill="#101010" transform="rotate(43.7 55.60 -41.80)"/><ellipse cx="94.80" cy="-110.40" rx="14.41" ry="2.26" fill="#0e0e0e" transform="rotate(47.0 94.80 -110.40)"/><ellipse cx="-105.20" cy="4.00" rx="14.37" ry="2.93" fill="#171717" transform="rotate(61.0 -105.20 4.00)"/><ellipse cx="-81.30" cy="8.50" rx="14.39" ry="2.93" fill="#171717" transform="rotate(61.9 -81.30 8.50)"/><ellipse cx="-56.20" cy="13.10" rx="14.11" ry="2.94" fill="#171717" transform="rotate(59.6 -56.20 13.10)"/><ellipse cx="-84.70" cy="-32.50" rx="15.76" ry="2.77" fill="#161616" transform="rotate(62.1 -84.70 -32.50)"/><ellipse cx="-59.60" cy="-23.40" rx="14.89" ry="2.84" fill="#161616" transform="rotate(60.7 -59.60 -23.40)"/><ellipse cx="-107.50" cy="-37.00" rx="17.63" ry="2.59" fill="#131313" transform="rotate(63.6 -107.50 -37.00)"/><ellipse cx="-35.10" cy="-15.40" rx="14.76" ry="2.74" fill="#151515" transform="rotate(56.3 -35.10 -15.40)"/><ellipse cx="-13.50" cy="-32.50" rx="16.09" ry="2.40" fill="#101010" transform="rotate(53.7 -13.50 -32.50)"/><ellipse cx="13.80" cy="-29.10" rx="14.84" ry="2.38" fill="#101010" transform="rotate(48.5 13.80 -29.10)"/><ellipse cx="36.60" cy="-24.50" rx="12.80" ry="2.41" fill="#111111" transform="rotate(42.4 36.60 -24.50)"/><ellipse cx="-29.50" cy="15.40" rx="12.87" ry="2.87" fill="#171717" transform="rotate(48.6 -29.50 15.40)"/><ellipse cx="-6.70" cy="33.60" rx="10.44" ry="2.75" fill="#151515" transform="rotate(31.8 -6.70 33.60)"/><ellipse cx="19.50" cy="33.60" rx="10.30" ry="2.60" fill="#131313" transform="rotate(29.4 19.50 33.60)"/><ellipse cx="33.20" cy="13.10" rx="11.19" ry="2.49" fill="#121212" transform="rotate(35.8 33.20 13.10)"/><ellipse cx="60.20" cy="-37.00" rx="12.58" ry="2.39" fill="#101010" transform="rotate(42.1 60.20 -37.00)"/><ellipse cx="83.30" cy="-32.40" rx="11.70" ry="2.42" fill="#111111" transform="rotate(39.9 83.30 -32.40)"/><ellipse cx="108.60" cy="-26.00" rx="11.53" ry="2.43" fill="#111111" transform="rotate(39.1 108.60 -26.00)"/><ellipse cx="40.60" cy="-20.30" rx="12.22" ry="2.43" fill="#111111" transform="rotate(40.8 40.60 -20.30)"/><ellipse cx="63.10" cy="-15.70" rx="11.03" ry="2.46" fill="#111111" transform="rotate(38.3 63.10 -15.70)"/><ellipse cx="89.60" cy="-12.80" rx="10.86" ry="2.47" fill="#111111" transform="rotate(38.0 89.60 -12.80)"/><ellipse cx="113.30" cy="-9.30" rx="11.08" ry="2.45" fill="#111111" transform="rotate(37.8 113.30 -9.30)"/><ellipse cx="44.10" cy="1.10" rx="11.20" ry="2.46" fill="#111111" transform="rotate(37.7 44.10 1.10)"/><ellipse cx="68.90" cy="3.40" rx="10.81" ry="2.47" fill="#111111" transform="rotate(38.0 68.90 3.40)"/><ellipse cx="93.70" cy="5.10" rx="10.81" ry="2.47" fill="#111111" transform="rotate(37.9 93.70 5.10)"/><ellipse cx="114.40" cy="6.80" rx="10.92" ry="2.44" fill="#111111" transform="rotate(36.8 114.40 6.80)"/><ellipse cx="46.40" cy="20.10" rx="10.84" ry="2.45" fill="#111111" transform="rotate(34.9 46.40 20.10)"/><ellipse cx="71.70" cy="20.70" rx="10.78" ry="2.46" fill="#111111" transform="rotate(37.0 71.70 20.70)"/><ellipse cx="96.00" cy="21.80" rx="10.76" ry="2.45" fill="#111111" transform="rotate(36.3 96.00 21.80)"/><ellipse cx="47.50" cy="37.40" rx="10.27" ry="2.41" fill="#101010" transform="rotate(28.5 47.50 37.40)"/><ellipse cx="72.90" cy="38.00" rx="10.23" ry="2.33" fill="#0f0f0f" transform="rotate(28.3 72.90 38.00)"/><ellipse cx="98.30" cy="38.00" rx="10.24" ry="2.31" fill="#0f0f0f" transform="rotate(28.1 98.30 38.00)"/><ellipse cx="-105.00" cy="50.20" rx="10.27" ry="3.65" fill="#1a1a1a" transform="rotate(45.3 -105.00 50.20)"/><ellipse cx="-80.80" cy="45.60" rx="10.51" ry="3.60" fill="#1a1a1a" transform="rotate(46.2 -80.80 45.60)"/><ellipse cx="-55.40" cy="43.30" rx="11.01" ry="3.36" fill="#1a1a1a" transform="rotate(45.5 -55.40 43.30)"/><ellipse cx="-85.40" cy="75.60" rx="8.41" ry="4.05" fill="#1a1a1a" transform="rotate(40.0 -85.40 75.60)"/><ellipse cx="-60.00" cy="68.70" rx="8.70" ry="3.92" fill="#1a1a1a" transform="rotate(39.8 -60.00 68.70)"/><ellipse cx="-111.90" cy="86.00" rx="8.82" ry="3.94" fill="#1a1a1a" transform="rotate(40.7 -111.90 86.00)"/><ellipse cx="-69.30" cy="91.80" rx="8.45" ry="4.03" fill="#1a1a1a" transform="rotate(39.9 -69.30 91.80)"/><ellipse cx="-41.60" cy="84.80" rx="9.05" ry="3.40" fill="#1a1a1a" transform="rotate(33.5 -41.60 84.80)"/><ellipse cx="-95.80" cy="103.30" rx="8.60" ry="3.98" fill="#1a1a1a" transform="rotate(40.0 -95.80 103.30)"/><ellipse cx="-53.10" cy="103.30" rx="8.82" ry="3.73" fill="#1a1a1a" transform="rotate(37.4 -53.10 103.30)"/><ellipse cx="-80.80" cy="113.70" rx="8.69" ry="3.92" fill="#1a1a1a" transform="rotate(39.6 -80.80 113.70)"/><ellipse cx="-29.30" cy="42.20" rx="10.53" ry="2.97" fill="#181818" transform="rotate(35.8 -29.30 42.20)"/><ellipse cx="-5.10" cy="41.00" rx="9.89" ry="2.74" fill="#151515" transform="rotate(28.3 -5.10 41.00)"/><ellipse cx="20.30" cy="38.70" rx="10.03" ry="2.61" fill="#131313" transform="rotate(27.8 20.30 38.70)"/><ellipse cx="-33.90" cy="64.10" rx="9.45" ry="3.07" fill="#191919" transform="rotate(30.6 -33.90 64.10)"/><ellipse cx="-8.60" cy="59.50" rx="9.16" ry="2.72" fill="#151515" transform="rotate(23.4 -8.60 59.50)"/><ellipse cx="16.80" cy="56.00" rx="9.29" ry="2.67" fill="#141414" transform="rotate(23.5 16.80 56.00)"/><ellipse cx="-15.50" cy="77.90" rx="9.04" ry="2.72" fill="#151515" transform="rotate(22.5 -15.50 77.90)"/><ellipse cx="11.00" cy="73.30" rx="9.02" ry="2.70" fill="#151515" transform="rotate(22.1 11.00 73.30)"/><ellipse cx="36.40" cy="68.70" rx="9.33" ry="2.48" fill="#121212" transform="rotate(21.2 36.40 68.70)"/><ellipse cx="-24.70" cy="95.20" rx="9.11" ry="2.83" fill="#161616" transform="rotate(24.9 -24.70 95.20)"/><ellipse cx="3.00" cy="88.30" rx="9.00" ry="2.70" fill="#151515" transform="rotate(22.0 3.00 88.30)"/><ellipse cx="28.30" cy="82.50" rx="9.15" ry="2.62" fill="#141414" transform="rotate(21.9 28.30 82.50)"/><ellipse cx="-38.50" cy="83.70" rx="9.11" ry="3.25" fill="#1a1a1a" transform="rotate(31.6 -38.50 83.70)"/><ellipse cx="-8.60" cy="103.30" rx="9.08" ry="2.73" fill="#151515" transform="rotate(22.9 -8.60 103.30)"/><ellipse cx="18.00" cy="98.70" rx="9.09" ry="2.68" fill="#141414" transform="rotate(22.3 18.00 98.70)"/><ellipse cx="-35.10" cy="110.20" rx="9.17" ry="3.15" fill="#191919" transform="rotate(30.2 -35.10 110.20)"/><ellipse cx="6.40" cy="111.40" rx="9.14" ry="2.71" fill="#151515" transform="rotate(23.0 6.40 111.40)"/><ellipse cx="42.90" cy="53.70" rx="9.65" ry="2.39" fill="#101010" transform="rotate(22.4 42.90 53.70)"/><ellipse cx="67.10" cy="51.40" rx="9.49" ry="2.17" fill="#0c0c0c" transform="rotate(18.4 67.10 51.40)"/><ellipse cx="92.50" cy="50.20" rx="9.52" ry="2.15" fill="#0c0c0c" transform="rotate(18.6 92.50 50.20)"/><ellipse cx="62.50" cy="65.20" rx="9.15" ry="2.09" fill="#0b0b0b" transform="rotate(14.1 62.50 65.20)"/><ellipse cx="87.90" cy="61.80" rx="9.11" ry="2.05" fill="#0a0a0a" transform="rotate(13.3 87.90 61.80)"/><ellipse cx="112.10" cy="60.60" rx="9.44" ry="2.13" fill="#0b0b0b" transform="rotate(17.2 112.10 60.60)"/><ellipse cx="38.30" cy="68.70" rx="9.34" ry="2.45" fill="#111111" transform="rotate(20.7 38.30 68.70)"/><ellipse cx="55.60" cy="77.90" rx="9.12" ry="2.11" fill="#0b0b0b" transform="rotate(14.1 55.60 77.90)"/><ellipse cx="81.00" cy="74.50" rx="9.00" ry="2.03" fill="#090909" transform="rotate(12.0 81.00 74.50)"/><ellipse cx="107.50" cy="72.10" rx="9.17" ry="2.07" fill="#0a0a0a" transform="rotate(14.0 107.50 72.10)"/><ellipse cx="46.40" cy="90.60" rx="9.20" ry="2.26" fill="#0e0e0e" transform="rotate(16.9 46.40 90.60)"/><ellipse cx="72.90" cy="86.00" rx="9.01" ry="2.03" fill="#090909" transform="rotate(12.1 72.90 86.00)"/><ellipse cx="99.40" cy="82.50" rx="9.05" ry="2.04" fill="#0a0a0a" transform="rotate(12.6 99.40 82.50)"/><ellipse cx="61.40" cy="97.50" rx="9.09" ry="2.09" fill="#0b0b0b" transform="rotate(13.5 61.40 97.50)"/><ellipse cx="89.00" cy="94.10" rx="9.02" ry="2.03" fill="#090909" transform="rotate(12.3 89.00 94.10)"/><ellipse cx="112.10" cy="89.40" rx="9.18" ry="2.07" fill="#0a0a0a" transform="rotate(14.0 112.10 89.40)"/><ellipse cx="49.80" cy="109.00" rx="9.24" ry="2.27" fill="#0e0e0e" transform="rotate(17.2 49.80 109.00)"/><ellipse cx="77.50" cy="104.40" rx="9.06" ry="2.06" fill="#0a0a0a" transform="rotate(12.9 77.50 104.40)"/><ellipse cx="102.90" cy="99.80" rx="9.12" ry="2.06" fill="#0a0a0a" transform="rotate(13.4 102.90 99.80)"/><ellipse cx="68.30" cy="113.70" rx="9.16" ry="2.12" fill="#0b0b0b" transform="rotate(14.6 68.30 113.70)"/><ellipse cx="93.70" cy="112.50" rx="9.15" ry="2.08" fill="#0a0a0a" transform="rotate(13.9 93.70 112.50)"/><ellipse cx="113.30" cy="-113.80" rx="15.55" ry="2.27" fill="#585858" transform="rotate(46.8 113.30 -113.80)"/><ellipse cx="-114.70" cy="-109.30" rx="25.60" ry="2.05" fill="#5c5c5c" transform="rotate(71.2 -114.70 -109.30)"/><ellipse cx="-24.70" cy="-112.30" rx="19.69" ry="2.18" fill="#5a5a5a" transform="rotate(57.6 -24.70 -112.30)"/><ellipse cx="-105.20" cy="-86.00" rx="25.96" ry="2.03" fill="#5c5c5c" transform="rotate(71.9 -105.20 -86.00)"/><ellipse cx="-85.20" cy="-105.90" rx="25.80" ry="2.04" fill="#5c5c5c" transform="rotate(71.6 -85.20 -105.90)"/><ellipse cx="-63.60" cy="-88.80" rx="24.53" ry="2.09" fill="#5b5b5b" transform="rotate(69.0 -63.60 -88.80)"/><ellipse cx="-79.60" cy="-59.20" rx="23.69" ry="2.19" fill="#5a5a5a" transform="rotate(68.5 -79.60 -59.20)"/><ellipse cx="-44.80" cy="-108.20" rx="21.32" ry="2.16" fill="#5a5a5a" transform="rotate(61.5 -44.80 -108.20)"/><ellipse cx="-52.80" cy="-45.60" rx="18.88" ry="2.49" fill="#555555" transform="rotate(60.6 -52.80 -45.60)"/><ellipse cx="-18.60" cy="-90.50" rx="19.50" ry="2.16" fill="#5a5a5a" transform="rotate(57.0 -18.60 -90.50)"/><ellipse cx="-2.10" cy="-108.20" rx="19.41" ry="2.17" fill="#5a5a5a" transform="rotate(56.8 -2.10 -108.20)"/><ellipse cx="24.60" cy="-92.20" rx="18.80" ry="2.19" fill="#5a5a5a" transform="rotate(55.2 24.60 -92.20)"/><ellipse cx="8.70" cy="-71.80" rx="19.37" ry="2.17" fill="#5a5a5a" transform="rotate(56.7 8.70 -71.80)"/><ellipse cx="-34.00" cy="-64.90" rx="19.58" ry="2.22" fill="#595959" transform="rotate(57.9 -34.00 -64.90)"/><ellipse cx="-7.80" cy="-52.40" rx="18.97" ry="2.22" fill="#595959" transform="rotate(56.0 -7.80 -52.40)"/><ellipse cx="36.00" cy="-61.50" rx="16.94" ry="2.26" fill="#595959" transform="rotate(50.5 36.00 -61.50)"/><ellipse cx="35.50" cy="-111.60" rx="17.58" ry="2.23" fill="#595959" transform="rotate(52.1 35.50 -111.60)"/><ellipse cx="43.50" cy="-104.60" rx="16.77" ry="2.24" fill="#595959" transform="rotate(50.0 43.50 -104.60)"/><ellipse cx="83.30" cy="-106.90" rx="15.62" ry="2.25" fill="#595959" transform="rotate(47.0 83.30 -106.90)"/><ellipse cx="68.30" cy="-93.10" rx="15.62" ry="2.25" fill="#595959" transform="rotate(47.0 68.30 -93.10)"/><ellipse cx="53.90" cy="-76.40" rx="15.80" ry="2.26" fill="#595959" transform="rotate(47.5 53.90 -76.40)"/><ellipse cx="97.10" cy="-78.70" rx="15.57" ry="2.25" fill="#595959" transform="rotate(46.9 97.10 -78.70)"/><ellipse cx="112.10" cy="-93.10" rx="15.52" ry="2.26" fill="#595959" transform="rotate(46.7 112.10 -93.10)"/><ellipse cx="81.50" cy="-63.70" rx="15.51" ry="2.26" fill="#595959" transform="rotate(46.8 81.50 -63.70)"/><ellipse cx="41.20" cy="-55.00" rx="16.13" ry="2.29" fill="#585858" transform="rotate(48.3 41.20 -55.00)"/><ellipse cx="66.00" cy="-46.40" rx="14.53" ry="2.33" fill="#585858" transform="rotate(44.3 66.00 -46.40)"/><ellipse cx="108.60" cy="-52.70" rx="14.66" ry="2.31" fill="#585858" transform="rotate(44.4 108.60 -52.70)"/><ellipse cx="-95.50" cy="-16.50" rx="15.83" ry="2.90" fill="#515151" transform="rotate(61.7 -95.50 -16.50)"/><ellipse cx="-70.40" cy="-8.60" rx="15.61" ry="2.92" fill="#515151" transform="rotate(61.9 -70.40 -8.60)"/><ellipse cx="-49.40" cy="-34.70" rx="17.41" ry="2.64" fill="#545454" transform="rotate(59.4 -49.40 -34.70)"/><ellipse cx="-44.80" cy="-1.70" rx="15.44" ry="2.88" fill="#515151" transform="rotate(58.3 -44.80 -1.70)"/><ellipse cx="-92.10" cy="26.70" rx="14.87" ry="3.03" fill="#505050" transform="rotate(58.6 -92.10 26.70)"/><ellipse cx="-66.50" cy="29.00" rx="14.49" ry="3.06" fill="#505050" transform="rotate(56.6 -66.50 29.00)"/><ellipse cx="-42.00" cy="29.00" rx="13.39" ry="3.03" fill="#505050" transform="rotate(48.6 -42.00 29.00)"/><ellipse cx="-115.40" cy="29.00" rx="14.17" ry="3.14" fill="#4f4f4f" transform="rotate(55.0 -115.40 29.00)"/><ellipse cx="-26.60" cy="-32.50" rx="17.44" ry="2.48" fill="#565656" transform="rotate(55.5 -26.60 -32.50)"/><ellipse cx="-5.50" cy="-35.90" rx="17.64" ry="2.34" fill="#575757" transform="rotate(53.4 -5.50 -35.90)"/><ellipse cx="28.60" cy="-35.90" rx="15.63" ry="2.35" fill="#575757" transform="rotate(47.1 28.60 -35.90)"/><ellipse cx="33.20" cy="-17.70" rx="13.57" ry="2.43" fill="#565656" transform="rotate(41.5 33.20 -17.70)"/><ellipse cx="-34.00" cy="-4.00" rx="15.34" ry="2.81" fill="#525252" transform="rotate(55.1 -34.00 -4.00)"/><ellipse cx="-30.60" cy="26.70" rx="12.98" ry="2.93" fill="#515151" transform="rotate(44.2 -30.60 26.70)"/><ellipse cx="1.30" cy="33.60" rx="11.18" ry="2.71" fill="#535353" transform="rotate(30.4 1.30 33.60)"/><ellipse cx="28.60" cy="29.00" rx="11.46" ry="2.53" fill="#555555" transform="rotate(31.1 28.60 29.00)"/><ellipse cx="-19.20" cy="35.90" rx="11.52" ry="2.85" fill="#525252" transform="rotate(34.5 -19.20 35.90)"/><ellipse cx="48.10" cy="-30.10" rx="13.54" ry="2.40" fill="#575757" transform="rotate(41.7 48.10 -30.10)"/><ellipse cx="72.30" cy="-24.90" rx="12.16" ry="2.45" fill="#565656" transform="rotate(38.8 72.30 -24.90)"/><ellipse cx="97.70" cy="-20.30" rx="12.02" ry="2.46" fill="#565656" transform="rotate(38.4 97.70 -20.30)"/><ellipse cx="53.30" cy="-8.70" rx="12.04" ry="2.46" fill="#565656" transform="rotate(38.2 53.30 -8.70)"/><ellipse cx="78.10" cy="-5.30" rx="11.70" ry="2.47" fill="#565656" transform="rotate(38.0 78.10 -5.30)"/><ellipse cx="102.30" cy="-1.80" rx="11.77" ry="2.47" fill="#565656" transform="rotate(37.8 102.30 -1.80)"/><ellipse cx="56.20" cy="11.40" rx="11.78" ry="2.46" fill="#565656" transform="rotate(37.2 56.20 11.40)"/><ellipse cx="81.50" cy="14.30" rx="11.70" ry="2.47" fill="#565656" transform="rotate(37.8 81.50 14.30)"/><ellipse cx="107.50" cy="14.90" rx="11.73" ry="2.44" fill="#565656" transform="rotate(36.5 107.50 14.90)"/><ellipse cx="57.30" cy="29.30" rx="11.48" ry="2.42" fill="#565656" transform="rotate(32.9 57.30 29.30)"/><ellipse cx="83.30" cy="29.30" rx="11.52" ry="2.42" fill="#565656" transform="rotate(34.4 83.30 29.30)"/><ellipse cx="108.60" cy="29.90" rx="11.45" ry="2.38" fill="#575757" transform="rotate(32.2 108.60 29.90)"/><ellipse cx="92.50" cy="-37.60" rx="13.27" ry="2.39" fill="#575757" transform="rotate(41.2 92.50 -37.60)"/><ellipse cx="114.40" cy="-35.80" rx="13.27" ry="2.39" fill="#575757" transform="rotate(40.8 114.40 -35.80)"/><ellipse cx="-95.80" cy="64.10" rx="9.47" ry="3.97" fill="#4f4f4f" transform="rotate(40.8 -95.80 64.10)"/><ellipse cx="-69.30" cy="58.30" rx="9.68" ry="3.90" fill="#4f4f4f" transform="rotate(40.9 -69.30 58.30)"/><ellipse cx="-43.90" cy="53.70" rx="10.79" ry="3.33" fill="#4f4f4f" transform="rotate(38.2 -43.90 53.70)"/><ellipse cx="-77.30" cy="84.80" rx="9.10" ry="4.05" fill="#4f4f4f" transform="rotate(40.0 -77.30 84.80)"/><ellipse cx="-50.80" cy="76.80" rx="9.58" ry="3.77" fill="#4f4f4f" transform="rotate(38.1 -50.80 76.80)"/><ellipse cx="-103.90" cy="95.20" rx="9.36" ry="3.98" fill="#4f4f4f" transform="rotate(40.2 -103.90 95.20)"/><ellipse cx="-61.20" cy="97.50" rx="9.31" ry="3.93" fill="#4f4f4f" transform="rotate(39.3 -61.20 97.50)"/><ellipse cx="-88.90" cy="109.00" rx="9.35" ry="3.96" fill="#4f4f4f" transform="rotate(39.9 -88.90 109.00)"/><ellipse cx="-46.20" cy="106.70" rx="9.75" ry="3.51" fill="#4f4f4f" transform="rotate(34.9 -46.20 106.70)"/><ellipse cx="-115.40" cy="68.70" rx="10.06" ry="3.84" fill="#4f4f4f" transform="rotate(42.0 -115.40 68.70)"/><ellipse cx="-18.90" cy="51.40" rx="10.40" ry="2.82" fill="#525252" transform="rotate(27.6 -18.90 51.40)"/><ellipse cx="6.40" cy="49.10" rx="10.21" ry="2.70" fill="#535353" transform="rotate(24.7 6.40 49.10)"/><ellipse cx="31.80" cy="46.80" rx="10.63" ry="2.53" fill="#555555" transform="rotate(25.4 31.80 46.80)"/><ellipse cx="-24.70" cy="71.00" rx="9.95" ry="2.82" fill="#525252" transform="rotate(25.0 -24.70 71.00)"/><ellipse cx="1.80" cy="66.40" rx="9.79" ry="2.70" fill="#535353" transform="rotate(22.3 1.80 66.40)"/><ellipse cx="27.20" cy="62.90" rx="10.07" ry="2.61" fill="#545454" transform="rotate(22.8 27.20 62.90)"/><ellipse cx="-6.30" cy="83.70" rx="9.75" ry="2.70" fill="#535353" transform="rotate(22.0 -6.30 83.70)"/><ellipse cx="20.30" cy="77.90" rx="9.82" ry="2.68" fill="#535353" transform="rotate(22.2 20.30 77.90)"/><ellipse cx="-32.80" cy="89.40" rx="9.90" ry="3.02" fill="#505050" transform="rotate(28.0 -32.80 89.40)"/><ellipse cx="11.00" cy="92.90" rx="9.78" ry="2.70" fill="#535353" transform="rotate(22.2 11.00 92.90)"/><ellipse cx="35.30" cy="87.10" rx="9.98" ry="2.51" fill="#555555" transform="rotate(20.6 35.30 87.10)"/><ellipse cx="-16.60" cy="98.70" rx="9.84" ry="2.75" fill="#535353" transform="rotate(23.4 -16.60 98.70)"/><ellipse cx="3.00" cy="107.90" rx="9.86" ry="2.71" fill="#535353" transform="rotate(22.8 3.00 107.90)"/><ellipse cx="29.50" cy="104.40" rx="9.98" ry="2.58" fill="#545454" transform="rotate(21.6 29.50 104.40)"/><ellipse cx="-30.50" cy="114.80" rx="9.98" ry="3.04" fill="#505050" transform="rotate(28.8 -30.50 114.80)"/><ellipse cx="-38.50" cy="53.70" rx="10.78" ry="3.18" fill="#4f4f4f" transform="rotate(35.7 -38.50 53.70)"/><ellipse cx="56.80" cy="44.50" rx="10.75" ry="2.30" fill="#585858" transform="rotate(24.2 56.80 44.50)"/><ellipse cx="82.10" cy="43.30" rx="10.71" ry="2.24" fill="#595959" transform="rotate(23.6 82.10 43.30)"/><ellipse cx="107.50" cy="42.20" rx="10.91" ry="2.27" fill="#585858" transform="rotate(25.4 107.50 42.20)"/><ellipse cx="53.30" cy="59.50" rx="10.18" ry="2.21" fill="#595959" transform="rotate(17.9 53.30 59.50)"/><ellipse cx="77.50" cy="57.20" rx="9.96" ry="2.08" fill="#5c5c5c" transform="rotate(14.5 77.50 57.20)"/><ellipse cx="102.90" cy="54.80" rx="10.24" ry="2.13" fill="#5b5b5b" transform="rotate(17.6 102.90 54.80)"/><ellipse cx="46.40" cy="73.30" rx="10.03" ry="2.26" fill="#595959" transform="rotate(17.5 46.40 73.30)"/><ellipse cx="71.70" cy="69.80" rx="9.78" ry="2.04" fill="#5c5c5c" transform="rotate(12.4 71.70 69.80)"/><ellipse cx="97.10" cy="67.50" rx="9.85" ry="2.05" fill="#5c5c5c" transform="rotate(13.2 97.10 67.50)"/><ellipse cx="114.40" cy="76.80" rx="10.01" ry="2.09" fill="#5b5b5b" transform="rotate(14.8 114.40 76.80)"/><ellipse cx="64.80" cy="82.50" rx="9.78" ry="2.04" fill="#5c5c5c" transform="rotate(12.5 64.80 82.50)"/><ellipse cx="90.20" cy="79.10" rx="9.76" ry="2.03" fill="#5c5c5c" transform="rotate(12.1 90.20 79.10)"/><ellipse cx="40.60" cy="87.10" rx="10.00" ry="2.39" fill="#575757" transform="rotate(19.0 40.60 87.10)"/><ellipse cx="82.10" cy="90.60" rx="9.76" ry="2.03" fill="#5c5c5c" transform="rotate(12.1 82.10 90.60)"/><ellipse cx="107.50" cy="86.00" rx="9.88" ry="2.06" fill="#5c5c5c" transform="rotate(13.4 107.50 86.00)"/><ellipse cx="54.40" cy="94.10" rx="9.89" ry="2.14" fill="#5b5b5b" transform="rotate(14.6 54.40 94.10)"/><ellipse cx="98.30" cy="95.20" rx="9.82" ry="2.05" fill="#5c5c5c" transform="rotate(12.8 98.30 95.20)"/><ellipse cx="70.60" cy="101.00" rx="9.81" ry="2.06" fill="#5c5c5c" transform="rotate(12.9 70.60 101.00)"/><ellipse cx="46.40" cy="106.70" rx="10.01" ry="2.31" fill="#585858" transform="rotate(17.9 46.40 106.70)"/><ellipse cx="90.20" cy="106.70" rx="9.85" ry="2.06" fill="#5c5c5c" transform="rotate(13.2 90.20 106.70)"/><ellipse cx="113.30" cy="101.00" rx="9.99" ry="2.09" fill="#5b5b5b" transform="rotate(14.6 113.30 101.00)"/><ellipse cx="59.10" cy="112.50" rx="9.97" ry="2.18" fill="#5a5a5a" transform="rotate(15.6 59.10 112.50)"/><ellipse cx="107.50" cy="112.50" rx="10.01" ry="2.10" fill="#5b5b5b" transform="rotate(14.8 107.50 112.50)"/></g></g>
<g clip-path="url(#cc_c)"><g filter="url(#jfc2)"><rect x="17.50" y="302.30" width="274.40" height="274.00" fill="#575757"/><g transform="translate(154.70,439.30)"><ellipse cx="-9.16" cy="-18.16" rx="1.29" ry="0.97" fill="#474747" transform="rotate(39.6 -9.16 -18.16)"/><ellipse cx="-22.98" cy="0.39" rx="1.30" ry="0.91" fill="#474747" transform="rotate(34.6 -22.98 0.39)"/><ellipse cx="2.65" cy="-22.93" rx="2.34" ry="1.02" fill="#4f4f4f" transform="rotate(48.3 2.65 -22.93)"/><ellipse cx="-22.78" cy="4.45" rx="2.37" ry="0.72" fill="#474747" transform="rotate(59.3 -22.78 4.45)"/><ellipse cx="-10.94" cy="-18.50" rx="1.89" ry="0.98" fill="#4f4f4f" transform="rotate(52.3 -10.94 -18.50)"/><ellipse cx="-20.64" cy="3.70" rx="1.65" ry="0.97" fill="#757575" transform="rotate(27.5 -20.64 3.70)"/><ellipse cx="15.31" cy="10.35" rx="1.30" ry="0.85" fill="#757575" transform="rotate(44.8 15.31 10.35)"/><ellipse cx="5.67" cy="-22.19" rx="1.70" ry="1.08" fill="#616161" transform="rotate(31.1 5.67 -22.19)"/><ellipse cx="-0.57" cy="-23.96" rx="2.12" ry="0.99" fill="#4f4f4f" transform="rotate(60.0 -0.57 -23.96)"/><ellipse cx="23.12" cy="-1.35" rx="1.27" ry="1.05" fill="#4f4f4f" transform="rotate(50.9 23.12 -1.35)"/><ellipse cx="8.77" cy="-24.83" rx="1.63" ry="1.01" fill="#4c4c4c" transform="rotate(44.7 8.77 -24.83)"/><ellipse cx="-17.35" cy="-5.11" rx="2.26" ry="1.11" fill="#808080" transform="rotate(59.6 -17.35 -5.11)"/><ellipse cx="-7.34" cy="19.98" rx="1.38" ry="0.79" fill="#757575" transform="rotate(34.3 -7.34 19.98)"/><ellipse cx="23.56" cy="9.91" rx="2.34" ry="1.03" fill="#616161" transform="rotate(54.6 23.56 9.91)"/><ellipse cx="23.50" cy="9.39" rx="1.67" ry="0.90" fill="#616161" transform="rotate(29.1 23.50 9.39)"/><ellipse cx="6.98" cy="-22.76" rx="2.38" ry="0.92" fill="#4f4f4f" transform="rotate(29.4 6.98 -22.76)"/><ellipse cx="5.24" cy="-20.68" rx="1.84" ry="1.17" fill="#6b6b6b" transform="rotate(49.5 5.24 -20.68)"/><ellipse cx="23.68" cy="5.32" rx="1.35" ry="1.12" fill="#4c4c4c" transform="rotate(64.7 23.68 5.32)"/><ellipse cx="17.10" cy="-17.61" rx="1.45" ry="1.18" fill="#474747" transform="rotate(39.5 17.10 -17.61)"/><ellipse cx="9.88" cy="21.54" rx="1.56" ry="1.02" fill="#616161" transform="rotate(28.6 9.88 21.54)"/><ellipse cx="21.23" cy="-7.50" rx="1.84" ry="1.09" fill="#757575" transform="rotate(38.2 21.23 -7.50)"/><ellipse cx="-14.40" cy="16.20" rx="2.17" ry="1.11" fill="#757575" transform="rotate(54.6 -14.40 16.20)"/><ellipse cx="-7.51" cy="-24.49" rx="2.15" ry="0.94" fill="#474747" transform="rotate(32.7 -7.51 -24.49)"/><ellipse cx="16.05" cy="11.60" rx="2.35" ry="0.88" fill="#8c8c8c" transform="rotate(33.8 16.05 11.60)"/><ellipse cx="-14.20" cy="-15.77" rx="1.78" ry="1.19" fill="#757575" transform="rotate(49.4 -14.20 -15.77)"/><ellipse cx="-15.64" cy="20.23" rx="2.15" ry="0.87" fill="#707070" transform="rotate(57.0 -15.64 20.23)"/><ellipse cx="24.53" cy="-5.42" rx="2.09" ry="0.74" fill="#707070" transform="rotate(31.4 24.53 -5.42)"/><ellipse cx="2.51" cy="-24.89" rx="1.83" ry="1.17" fill="#4f4f4f" transform="rotate(42.4 2.51 -24.89)"/><ellipse cx="19.33" cy="16.96" rx="1.23" ry="0.81" fill="#757575" transform="rotate(45.0 19.33 16.96)"/><ellipse cx="13.71" cy="-9.05" rx="1.70" ry="0.77" fill="#616161" transform="rotate(61.4 13.71 -9.05)"/><ellipse cx="4.33" cy="21.02" rx="2.19" ry="1.14" fill="#707070" transform="rotate(30.2 4.33 21.02)"/><ellipse cx="-18.10" cy="0.55" rx="2.13" ry="1.00" fill="#4c4c4c" transform="rotate(56.0 -18.10 0.55)"/><ellipse cx="-18.21" cy="-18.64" rx="1.87" ry="0.86" fill="#4f4f4f" transform="rotate(45.7 -18.21 -18.64)"/><ellipse cx="-20.48" cy="3.14" rx="1.43" ry="0.72" fill="#757575" transform="rotate(28.9 -20.48 3.14)"/><ellipse cx="-2.49" cy="-24.55" rx="1.73" ry="1.01" fill="#4f4f4f" transform="rotate(45.2 -2.49 -24.55)"/><ellipse cx="-1.14" cy="22.96" rx="2.25" ry="1.17" fill="#616161" transform="rotate(35.4 -1.14 22.96)"/><ellipse cx="3.09" cy="23.05" rx="1.36" ry="0.76" fill="#4c4c4c" transform="rotate(42.7 3.09 23.05)"/><ellipse cx="-22.23" cy="-13.49" rx="1.46" ry="0.85" fill="#4f4f4f" transform="rotate(29.9 -22.23 -13.49)"/><ellipse cx="-12.84" cy="-18.86" rx="1.46" ry="1.18" fill="#4c4c4c" transform="rotate(40.9 -12.84 -18.86)"/><ellipse cx="17.29" cy="-17.60" rx="2.39" ry="0.90" fill="#707070" transform="rotate(41.9 17.29 -17.60)"/><ellipse cx="-7.46" cy="-21.21" rx="1.22" ry="0.98" fill="#8c8c8c" transform="rotate(42.6 -7.46 -21.21)"/><ellipse cx="-25.06" cy="-8.76" rx="1.81" ry="0.73" fill="#808080" transform="rotate(64.4 -25.06 -8.76)"/><ellipse cx="-20.55" cy="-12.19" rx="2.29" ry="0.79" fill="#474747" transform="rotate(55.2 -20.55 -12.19)"/><ellipse cx="16.63" cy="18.18" rx="1.69" ry="0.97" fill="#808080" transform="rotate(45.6 16.63 18.18)"/><ellipse cx="-11.49" cy="15.58" rx="1.71" ry="0.74" fill="#6b6b6b" transform="rotate(62.5 -11.49 15.58)"/><ellipse cx="2.76" cy="22.19" rx="1.95" ry="0.72" fill="#808080" transform="rotate(53.4 2.76 22.19)"/><ellipse cx="-12.38" cy="-16.58" rx="1.95" ry="0.97" fill="#808080" transform="rotate(33.2 -12.38 -16.58)"/><ellipse cx="-11.93" cy="15.79" rx="1.24" ry="0.71" fill="#808080" transform="rotate(45.2 -11.93 15.79)"/><ellipse cx="24.86" cy="0.74" rx="2.32" ry="0.75" fill="#757575" transform="rotate(57.8 24.86 0.74)"/><ellipse cx="25.09" cy="-8.18" rx="1.69" ry="0.87" fill="#6b6b6b" transform="rotate(27.2 25.09 -8.18)"/><ellipse cx="12.53" cy="-12.71" rx="1.27" ry="1.03" fill="#6b6b6b" transform="rotate(40.2 12.53 -12.71)"/><ellipse cx="0.31" cy="24.49" rx="2.03" ry="0.72" fill="#757575" transform="rotate(32.4 0.31 24.49)"/><ellipse cx="-14.67" cy="-16.49" rx="1.66" ry="0.94" fill="#8c8c8c" transform="rotate(45.1 -14.67 -16.49)"/><ellipse cx="-21.33" cy="-5.23" rx="1.67" ry="0.85" fill="#474747" transform="rotate(50.2 -21.33 -5.23)"/><ellipse cx="18.37" cy="-17.93" rx="2.12" ry="1.06" fill="#707070" transform="rotate(44.8 18.37 -17.93)"/><ellipse cx="-18.47" cy="16.89" rx="1.95" ry="1.07" fill="#616161" transform="rotate(57.5 -18.47 16.89)"/><ellipse cx="-18.76" cy="1.24" rx="1.88" ry="1.11" fill="#616161" transform="rotate(25.6 -18.76 1.24)"/><ellipse cx="7.43" cy="-21.58" rx="1.36" ry="0.88" fill="#474747" transform="rotate(29.2 7.43 -21.58)"/><ellipse cx="-22.57" cy="12.31" rx="2.17" ry="1.12" fill="#808080" transform="rotate(34.4 -22.57 12.31)"/><ellipse cx="13.33" cy="-14.00" rx="1.79" ry="0.89" fill="#4c4c4c" transform="rotate(44.2 13.33 -14.00)"/><ellipse cx="-12.80" cy="12.65" rx="1.95" ry="0.77" fill="#808080" transform="rotate(44.3 -12.80 12.65)"/><ellipse cx="-0.74" cy="24.57" rx="2.03" ry="1.04" fill="#4f4f4f" transform="rotate(36.6 -0.74 24.57)"/><ellipse cx="-1.75" cy="-19.84" rx="1.44" ry="1.19" fill="#616161" transform="rotate(62.5 -1.75 -19.84)"/><ellipse cx="-25.09" cy="-2.13" rx="2.36" ry="0.92" fill="#616161" transform="rotate(35.7 -25.09 -2.13)"/><ellipse cx="-18.63" cy="1.25" rx="1.36" ry="1.11" fill="#8c8c8c" transform="rotate(45.3 -18.63 1.25)"/><ellipse cx="20.12" cy="10.57" rx="1.80" ry="1.14" fill="#757575" transform="rotate(40.8 20.12 10.57)"/><ellipse cx="-6.44" cy="-19.71" rx="1.20" ry="1.08" fill="#8c8c8c" transform="rotate(58.6 -6.44 -19.71)"/><ellipse cx="11.08" cy="20.88" rx="1.50" ry="0.73" fill="#808080" transform="rotate(40.6 11.08 20.88)"/><ellipse cx="22.12" cy="13.29" rx="1.54" ry="0.73" fill="#474747" transform="rotate(51.5 22.12 13.29)"/><ellipse cx="7.02" cy="-18.26" rx="1.72" ry="0.86" fill="#808080" transform="rotate(55.9 7.02 -18.26)"/><ellipse cx="2.82" cy="-15.42" rx="1.26" ry="1.07" fill="#4f4f4f" transform="rotate(43.0 2.82 -15.42)"/><ellipse cx="-11.12" cy="-23.45" rx="1.35" ry="0.94" fill="#616161" transform="rotate(38.7 -11.12 -23.45)"/><ellipse cx="-17.30" cy="-17.59" rx="1.80" ry="1.11" fill="#757575" transform="rotate(47.0 -17.30 -17.59)"/><ellipse cx="-16.92" cy="2.91" rx="1.49" ry="0.83" fill="#8c8c8c" transform="rotate(47.8 -16.92 2.91)"/><ellipse cx="20.14" cy="12.98" rx="1.66" ry="1.07" fill="#707070" transform="rotate(33.4 20.14 12.98)"/><ellipse cx="-11.95" cy="13.11" rx="1.53" ry="1.18" fill="#4c4c4c" transform="rotate(30.0 -11.95 13.11)"/><ellipse cx="18.87" cy="-14.77" rx="2.28" ry="0.89" fill="#808080" transform="rotate(50.8 18.87 -14.77)"/><ellipse cx="-19.38" cy="-3.89" rx="2.36" ry="0.94" fill="#4c4c4c" transform="rotate(27.9 -19.38 -3.89)"/><ellipse cx="-14.36" cy="-18.09" rx="2.33" ry="1.06" fill="#4f4f4f" transform="rotate(50.9 -14.36 -18.09)"/><ellipse cx="2.68" cy="-23.94" rx="1.48" ry="1.16" fill="#6b6b6b" transform="rotate(50.8 2.68 -23.94)"/><ellipse cx="-10.20" cy="-19.35" rx="1.83" ry="0.92" fill="#808080" transform="rotate(55.6 -10.20 -19.35)"/><ellipse cx="-20.83" cy="-10.38" rx="1.67" ry="0.81" fill="#757575" transform="rotate(49.0 -20.83 -10.38)"/><ellipse cx="-2.04" cy="23.86" rx="1.77" ry="0.82" fill="#757575" transform="rotate(34.9 -2.04 23.86)"/><ellipse cx="8.70" cy="22.11" rx="1.79" ry="1.05" fill="#757575" transform="rotate(53.7 8.70 22.11)"/><ellipse cx="-0.22" cy="-15.58" rx="1.48" ry="0.81" fill="#757575" transform="rotate(55.4 -0.22 -15.58)"/><ellipse cx="-10.66" cy="23.50" rx="1.93" ry="1.15" fill="#4c4c4c" transform="rotate(44.4 -10.66 23.50)"/><ellipse cx="4.93" cy="21.94" rx="1.46" ry="1.19" fill="#474747" transform="rotate(30.7 4.93 21.94)"/><ellipse cx="-5.55" cy="20.70" rx="2.08" ry="1.20" fill="#8c8c8c" transform="rotate(62.3 -5.55 20.70)"/><ellipse cx="-8.88" cy="-16.35" rx="2.10" ry="0.72" fill="#616161" transform="rotate(51.6 -8.88 -16.35)"/><ellipse cx="-8.75" cy="-17.20" rx="1.29" ry="0.74" fill="#474747" transform="rotate(41.8 -8.75 -17.20)"/><ellipse cx="20.03" cy="3.18" rx="1.66" ry="1.08" fill="#757575" transform="rotate(37.3 20.03 3.18)"/><ellipse cx="10.67" cy="-15.82" rx="2.30" ry="0.80" fill="#616161" transform="rotate(39.6 10.67 -15.82)"/><ellipse cx="21.84" cy="-12.64" rx="2.28" ry="0.87" fill="#4f4f4f" transform="rotate(35.9 21.84 -12.64)"/><ellipse cx="23.80" cy="6.08" rx="2.10" ry="1.04" fill="#808080" transform="rotate(62.0 23.80 6.08)"/><ellipse cx="14.37" cy="15.07" rx="2.18" ry="0.77" fill="#707070" transform="rotate(44.9 14.37 15.07)"/><ellipse cx="-18.13" cy="-13.72" rx="1.75" ry="1.09" fill="#8c8c8c" transform="rotate(48.8 -18.13 -13.72)"/><ellipse cx="-17.68" cy="-4.80" rx="1.78" ry="0.97" fill="#474747" transform="rotate(31.4 -17.68 -4.80)"/><ellipse cx="-3.82" cy="-20.53" rx="1.52" ry="0.74" fill="#4f4f4f" transform="rotate(28.9 -3.82 -20.53)"/><ellipse cx="18.04" cy="8.55" rx="2.14" ry="0.85" fill="#4f4f4f" transform="rotate(36.2 18.04 8.55)"/><ellipse cx="-16.34" cy="-13.75" rx="2.26" ry="0.99" fill="#808080" transform="rotate(38.1 -16.34 -13.75)"/><ellipse cx="16.04" cy="7.97" rx="1.32" ry="0.94" fill="#474747" transform="rotate(57.8 16.04 7.97)"/><ellipse cx="17.71" cy="21.55" rx="2.25" ry="0.82" fill="#474747" transform="rotate(27.0 17.71 21.55)"/><ellipse cx="0.66" cy="-16.76" rx="2.13" ry="1.03" fill="#808080" transform="rotate(25.3 0.66 -16.76)"/><ellipse cx="-7.82" cy="-24.05" rx="1.37" ry="0.80" fill="#8c8c8c" transform="rotate(35.2 -7.82 -24.05)"/><ellipse cx="-16.37" cy="-9.77" rx="1.24" ry="0.95" fill="#757575" transform="rotate(44.3 -16.37 -9.77)"/><ellipse cx="8.53" cy="-17.96" rx="1.31" ry="0.78" fill="#616161" transform="rotate(52.8 8.53 -17.96)"/><ellipse cx="-10.01" cy="23.57" rx="2.09" ry="1.14" fill="#808080" transform="rotate(41.6 -10.01 23.57)"/><ellipse cx="22.98" cy="-3.42" rx="1.71" ry="1.11" fill="#6b6b6b" transform="rotate(41.2 22.98 -3.42)"/><ellipse cx="0.23" cy="-18.41" rx="1.39" ry="0.79" fill="#808080" transform="rotate(27.7 0.23 -18.41)"/><ellipse cx="15.19" cy="15.84" rx="1.35" ry="1.17" fill="#808080" transform="rotate(64.0 15.19 15.84)"/><ellipse cx="16.45" cy="17.26" rx="3.50" ry="3.00" fill="#292929"/><ellipse cx="-1.95" cy="-21.74" rx="1.40" ry="1.10" fill="#ebebeb"/><ellipse cx="-21.57" cy="4.18" rx="2.40" ry="1.10" fill="#cccccc" transform="rotate(45.0 -21.57 4.18)"/><ellipse cx="-20.75" cy="7.86" rx="2.20" ry="1.10" fill="#b2b2b2" transform="rotate(45.0 -20.75 7.86)"/><path d="M-15.43,-10.95C-14.48,-12.79 -13.12,-13.13 -11.35,-13.81C-9.58,-14.49 -7.26,-15.10 -4.81,-15.03C-2.35,-14.97 0.64,-14.35 3.37,-13.40C6.09,-12.45 9.09,-10.67 11.54,-9.31C14.00,-7.95 16.31,-6.59 18.08,-5.22C19.85,-3.86 21.63,-2.36 22.17,-1.14C22.72,0.09 22.03,1.25 21.35,2.13C20.67,3.02 19.04,3.22 18.08,4.18C17.13,5.13 16.31,6.70 15.63,7.86C14.95,9.01 14.81,9.90 14.00,11.13C13.18,12.35 11.95,13.85 10.73,15.21C9.50,16.58 8.27,18.35 6.64,19.30C5.00,20.26 2.96,20.80 0.92,20.94C-1.13,21.07 -3.85,20.80 -5.62,20.12C-7.40,19.44 -8.49,18.35 -9.71,16.85C-10.94,15.35 -11.89,13.31 -12.98,11.13C-14.07,8.95 -15.57,6.09 -16.25,3.77C-16.93,1.45 -17.21,-0.32 -17.07,-2.77C-16.93,-5.22 -16.39,-9.11 -15.43,-10.95Z" fill="#000000"/><ellipse cx="20.75" cy="-2.48" rx="3.36" ry="1.11" fill="#262626" transform="rotate(59.7 20.75 -2.48)"/><ellipse cx="-10.23" cy="-1.82" rx="3.27" ry="1.21" fill="#262626" transform="rotate(40.5 -10.23 -1.82)"/><ellipse cx="-10.40" cy="-2.01" rx="2.78" ry="0.99" fill="#262626" transform="rotate(38.7 -10.40 -2.01)"/><ellipse cx="-9.13" cy="11.00" rx="3.35" ry="0.82" fill="#262626" transform="rotate(51.9 -9.13 11.00)"/><ellipse cx="6.38" cy="4.00" rx="2.94" ry="0.95" fill="#141414" transform="rotate(47.6 6.38 4.00)"/><ellipse cx="5.64" cy="-0.97" rx="2.99" ry="1.02" fill="#141414" transform="rotate(48.2 5.64 -0.97)"/><ellipse cx="1.54" cy="-8.59" rx="3.15" ry="1.19" fill="#262626" transform="rotate(48.7 1.54 -8.59)"/><ellipse cx="-12.10" cy="0.93" rx="2.16" ry="0.86" fill="#262626" transform="rotate(47.9 -12.10 0.93)"/><ellipse cx="-15.96" cy="-0.32" rx="2.77" ry="0.82" fill="#262626" transform="rotate(54.1 -15.96 -0.32)"/><ellipse cx="14.22" cy="2.46" rx="2.08" ry="1.05" fill="#262626" transform="rotate(46.3 14.22 2.46)"/><ellipse cx="1.64" cy="20.27" rx="3.37" ry="0.88" fill="#262626" transform="rotate(58.7 1.64 20.27)"/><ellipse cx="-4.56" cy="12.25" rx="2.24" ry="1.25" fill="#262626" transform="rotate(43.2 -4.56 12.25)"/><ellipse cx="2.10" cy="18.80" rx="2.31" ry="0.93" fill="#262626" transform="rotate(50.2 2.10 18.80)"/><ellipse cx="-11.99" cy="-11.55" rx="3.40" ry="1.14" fill="#262626" transform="rotate(61.9 -11.99 -11.55)"/><ellipse cx="-14.94" cy="3.23" rx="2.95" ry="0.98" fill="#262626" transform="rotate(61.2 -14.94 3.23)"/><ellipse cx="4.43" cy="5.20" rx="3.32" ry="0.85" fill="#141414" transform="rotate(64.8 4.43 5.20)"/><ellipse cx="7.71" cy="-2.23" rx="3.20" ry="0.93" fill="#141414" transform="rotate(64.7 7.71 -2.23)"/><ellipse cx="5.40" cy="-3.59" rx="3.15" ry="1.02" fill="#141414" transform="rotate(40.3 5.40 -3.59)"/><ellipse cx="5.78" cy="8.55" rx="2.47" ry="0.80" fill="#141414" transform="rotate(36.0 5.78 8.55)"/><ellipse cx="-13.43" cy="6.64" rx="2.65" ry="1.06" fill="#262626" transform="rotate(61.9 -13.43 6.64)"/><ellipse cx="-14.19" cy="-8.91" rx="2.98" ry="0.81" fill="#262626" transform="rotate(35.1 -14.19 -8.91)"/><ellipse cx="-4.38" cy="-13.75" rx="2.54" ry="0.91" fill="#262626" transform="rotate(52.5 -4.38 -13.75)"/><ellipse cx="5.92" cy="-9.83" rx="2.94" ry="1.04" fill="#262626" transform="rotate(39.0 5.92 -9.83)"/><ellipse cx="8.08" cy="16.85" rx="3.17" ry="1.00" fill="#262626" transform="rotate(42.9 8.08 16.85)"/><ellipse cx="4.74" cy="-3.99" rx="2.97" ry="1.02" fill="#141414" transform="rotate(63.1 4.74 -3.99)"/><ellipse cx="12.27" cy="-8.06" rx="3.36" ry="0.82" fill="#262626" transform="rotate(50.9 12.27 -8.06)"/><ellipse cx="-2.14" cy="-8.49" rx="2.09" ry="1.19" fill="#262626" transform="rotate(35.4 -2.14 -8.49)"/><ellipse cx="4.24" cy="19.64" rx="2.21" ry="0.90" fill="#262626" transform="rotate(53.2 4.24 19.64)"/><ellipse cx="2.31" cy="7.66" rx="3.22" ry="0.89" fill="#141414" transform="rotate(44.3 2.31 7.66)"/><ellipse cx="0.47" cy="11.67" rx="2.68" ry="0.91" fill="#141414" transform="rotate(38.2 0.47 11.67)"/><ellipse cx="-5.24" cy="11.99" rx="3.04" ry="1.22" fill="#262626" transform="rotate(56.4 -5.24 11.99)"/><ellipse cx="-8.30" cy="4.15" rx="2.65" ry="1.19" fill="#262626" transform="rotate(50.7 -8.30 4.15)"/><ellipse cx="-8.33" cy="7.68" rx="3.45" ry="0.91" fill="#262626" transform="rotate(61.4 -8.33 7.68)"/><ellipse cx="-9.61" cy="11.76" rx="3.42" ry="1.17" fill="#262626" transform="rotate(44.8 -9.61 11.76)"/><ellipse cx="7.75" cy="9.71" rx="3.00" ry="1.29" fill="#141414" transform="rotate(49.1 7.75 9.71)"/><ellipse cx="17.73" cy="-0.51" rx="3.09" ry="1.09" fill="#262626" transform="rotate(44.2 17.73 -0.51)"/><ellipse cx="-10.67" cy="6.90" rx="2.12" ry="1.26" fill="#262626" transform="rotate(39.3 -10.67 6.90)"/><ellipse cx="7.89" cy="9.88" rx="3.11" ry="0.83" fill="#141414" transform="rotate(52.7 7.89 9.88)"/><ellipse cx="-4.01" cy="14.70" rx="3.23" ry="1.25" fill="#262626" transform="rotate(37.0 -4.01 14.70)"/><ellipse cx="-10.95" cy="-13.52" rx="2.05" ry="1.22" fill="#262626" transform="rotate(59.4 -10.95 -13.52)"/><ellipse cx="7.90" cy="15.00" rx="2.95" ry="0.94" fill="#262626" transform="rotate(38.0 7.90 15.00)"/><ellipse cx="-10.98" cy="-5.23" rx="2.64" ry="0.81" fill="#262626" transform="rotate(42.7 -10.98 -5.23)"/><ellipse cx="-7.57" cy="10.63" rx="2.55" ry="0.96" fill="#262626" transform="rotate(63.9 -7.57 10.63)"/><ellipse cx="2.16" cy="16.06" rx="2.93" ry="0.82" fill="#262626" transform="rotate(47.4 2.16 16.06)"/><ellipse cx="-0.80" cy="12.92" rx="2.52" ry="1.15" fill="#262626" transform="rotate(51.1 -0.80 12.92)"/><ellipse cx="-11.11" cy="12.49" rx="3.47" ry="0.80" fill="#262626" transform="rotate(49.7 -11.11 12.49)"/><ellipse cx="1.63" cy="13.87" rx="2.28" ry="1.05" fill="#262626" transform="rotate(45.4 1.63 13.87)"/><ellipse cx="-10.55" cy="9.98" rx="2.75" ry="0.85" fill="#262626" transform="rotate(54.1 -10.55 9.98)"/><ellipse cx="10.67" cy="13.48" rx="2.94" ry="0.98" fill="#262626" transform="rotate(47.0 10.67 13.48)"/><ellipse cx="-2.64" cy="17.62" rx="2.13" ry="1.24" fill="#262626" transform="rotate(35.8 -2.64 17.62)"/><ellipse cx="-10.93" cy="-7.47" rx="3.35" ry="1.05" fill="#262626" transform="rotate(46.4 -10.93 -7.47)"/><ellipse cx="0.28" cy="3.26" rx="3.13" ry="1.18" fill="#141414" transform="rotate(54.4 0.28 3.26)"/><ellipse cx="-4.67" cy="-4.93" rx="2.23" ry="1.22" fill="#141414" transform="rotate(54.9 -4.67 -4.93)"/><ellipse cx="-0.69" cy="12.94" rx="2.87" ry="0.86" fill="#262626" transform="rotate(48.9 -0.69 12.94)"/><ellipse cx="-11.57" cy="-5.94" rx="3.05" ry="1.22" fill="#262626" transform="rotate(39.6 -11.57 -5.94)"/><ellipse cx="-13.14" cy="-8.10" rx="2.49" ry="1.06" fill="#262626" transform="rotate(39.8 -13.14 -8.10)"/><ellipse cx="-5.56" cy="-10.43" rx="3.46" ry="1.16" fill="#262626" transform="rotate(38.1 -5.56 -10.43)"/><ellipse cx="-0.86" cy="-10.15" rx="2.96" ry="0.85" fill="#262626" transform="rotate(41.2 -0.86 -10.15)"/><ellipse cx="-2.44" cy="13.64" rx="3.04" ry="1.05" fill="#262626" transform="rotate(54.0 -2.44 13.64)"/><ellipse cx="0.38" cy="-12.33" rx="2.91" ry="1.00" fill="#262626" transform="rotate(57.2 0.38 -12.33)"/><ellipse cx="19.95" cy="-0.80" rx="2.86" ry="1.17" fill="#262626" transform="rotate(47.6 19.95 -0.80)"/><ellipse cx="-9.94" cy="10.89" rx="3.32" ry="1.19" fill="#262626" transform="rotate(56.0 -9.94 10.89)"/><ellipse cx="8.23" cy="0.16" rx="2.47" ry="1.11" fill="#141414" transform="rotate(37.9 8.23 0.16)"/><ellipse cx="-1.54" cy="13.30" rx="3.07" ry="1.11" fill="#262626" transform="rotate(42.5 -1.54 13.30)"/><ellipse cx="-1.36" cy="0.21" rx="2.93" ry="1.00" fill="#141414" transform="rotate(55.3 -1.36 0.21)"/><ellipse cx="8.80" cy="13.13" rx="2.58" ry="1.04" fill="#262626" transform="rotate(64.2 8.80 13.13)"/><ellipse cx="-15.55" cy="4.98" rx="2.81" ry="1.16" fill="#262626" transform="rotate(50.4 -15.55 4.98)"/><ellipse cx="8.13" cy="15.16" rx="2.78" ry="1.01" fill="#262626" transform="rotate(63.4 8.13 15.16)"/><ellipse cx="-10.76" cy="9.37" rx="2.59" ry="1.18" fill="#262626" transform="rotate(38.7 -10.76 9.37)"/><ellipse cx="-1.58" cy="-1.18" rx="3.05" ry="0.98" fill="#141414" transform="rotate(43.0 -1.58 -1.18)"/></g></g></g></g>
<path transform="translate(154.70,439.30)" d="M-2.00,-26.90 -0.30,-25.50 9.40,-25.00 11.10,-23.50 12.90,-23.10 23.00,-13.70 23.80,-11.00 25.10,-9.30 25.60,-7.50 26.00,-2.30 26.50,-1.00 27.10,0.10 26.00,1.20 25.60,3.40 25.10,8.70 23.80,10.40 23.20,12.20 22.50,14.30 24.70,15.70 25.60,17.40 25.60,19.60 24.70,20.90 22.10,22.00 20.30,23.10 18.60,24.00 16.80,24.00 15.50,23.10 14.40,22.00 12.90,22.70 11.10,23.50 9.80,24.40 8.70,25.30 -9.40,25.30 -11.20,23.50 -13.40,23.10 -23.00,13.50 -23.90,12.20 -24.30,10.40 -25.40,8.70 -25.40,-9.30 -24.30,-10.60 -23.40,-12.80 -22.60,-14.30 -13.40,-23.50 -11.60,-23.70 -10.30,-24.40 -9.00,-25.50 -4.20,-25.50Z" fill="none" stroke="#e6e6f2" stroke-width="1.15" stroke-linejoin="round"/>
<g clip-path="url(#pc_d)"><rect x="394.20" y="322.30" width="234.40" height="234.00" fill="#800000"/>
<g clip-path="url(#cc_d)"><g filter="url(#jfd)"><rect x="374.20" y="302.30" width="274.40" height="274.00" fill="#e3e3e3"/><g transform="translate(511.40,439.30)"><path d="M-18.62,-2.44C-18.62,-7.12 -15.38,-12.60 -12.29,-15.11C-9.20,-17.61 -4.16,-17.60 -0.08,-17.45C3.99,-17.31 9.06,-16.89 12.16,-14.24C15.26,-11.59 18.05,-5.77 18.49,-1.54C18.94,2.69 17.57,7.81 14.85,11.13C12.13,14.44 6.70,18.04 2.18,18.34C-2.34,18.64 -8.83,16.40 -12.29,12.93C-15.76,9.47 -18.62,2.23 -18.62,-2.44Z" fill="#1f1f1f"/><ellipse cx="-2.50" cy="-2.00" rx="9.00" ry="9.00" fill="#000000"/></g></g></g></g>
<path transform="translate(511.40,439.30)" d="M-2.00,-26.90 -0.30,-25.50 9.40,-25.00 11.10,-23.50 12.90,-23.10 23.00,-13.70 23.80,-11.00 25.10,-9.30 25.60,-7.50 26.00,-2.30 26.50,-1.00 27.10,0.10 26.00,1.20 25.60,3.40 25.10,8.70 23.80,10.40 23.20,12.20 22.50,14.30 24.70,15.70 25.60,17.40 25.60,19.60 24.70,20.90 22.10,22.00 20.30,23.10 18.60,24.00 16.80,24.00 15.50,23.10 14.40,22.00 12.90,22.70 11.10,23.50 9.80,24.40 8.70,25.30 -9.40,25.30 -11.20,23.50 -13.40,23.10 -23.00,13.50 -23.90,12.20 -24.30,10.40 -25.40,8.70 -25.40,-9.30 -24.30,-10.60 -23.40,-12.80 -22.60,-14.30 -13.40,-23.50 -11.60,-23.70 -10.30,-24.40 -9.00,-25.50 -4.20,-25.50Z" fill="none" stroke="#e6e6f2" stroke-width="1.15" stroke-linejoin="round"/>
<rect x="26.60" y="631.30" width="296.20" height="233.10" fill="none" stroke="#a0a0a0" stroke-width="0.85"/>
<path d="M26.60 864.40v-3M26.60 631.30v3M26.60 864.40h3M322.80 864.40h-3" stroke="#a0a0a0" stroke-width="0.7"/>
<text x="26.60" y="874.31" font-size="7.00" text-anchor="middle" fill="#444" font-family="Liberation Sans" >-0.5</text>
<text x="23.10" y="866.91" font-size="7.00" text-anchor="end" fill="#444" font-family="Liberation Sans" >-0.5</text>
<path d="M56.22 864.40v-3M56.22 631.30v3M26.60 841.09h3M322.80 841.09h-3" stroke="#a0a0a0" stroke-width="0.7"/>
<text x="56.22" y="874.31" font-size="7.00" text-anchor="middle" fill="#444" font-family="Liberation Sans" >0</text>
<text x="23.10" y="843.60" font-size="7.00" text-anchor="end" fill="#444" font-family="Liberation Sans" >0</text>
<path d="M85.84 864.40v-3M85.84 631.30v3M26.60 817.78h3M322.80 817.78h-3" stroke="#a0a0a0" stroke-width="0.7"/>
<text x="85.84" y="874.31" font-size="7.00" text-anchor="middle" fill="#444" font-family="Liberation Sans" >0.5</text>
<text x="23.10" y="820.29" font-size="7.00" text-anchor="end" fill="#444" font-family="Liberation Sans" >0.5</text>
<path d="M115.46 864.40v-3M115.46 631.30v3M26.60 794.47h3M322.80 794.47h-3" stroke="#a0a0a0" stroke-width="0.7"/>
<text x="115.46" y="874.31" font-size="7.00" text-anchor="middle" fill="#444" font-family="Liberation Sans" >1</text>
<text x="23.10" y="796.98" font-size="7.00" text-anchor="end" fill="#444" font-family="Liberation Sans" >1</text>
<path d="M145.08 864.40v-3M145.08 631.30v3M26.60 771.16h3M322.80 771.16h-3" stroke="#a0a0a0" stroke-width="0.7"/>
<text x="145.08" y="874.31" font-size="7.00" text-anchor="middle" fill="#444" font-family="Liberation Sans" >1.5</text>
<text x="23.10" y="773.67" font-size="7.00" text-anchor="end" fill="#444" font-family="Liberation Sans" >1.5</text>
<path d="M174.70 864.40v-3M174.70 631.30v3M26.60 747.85h3M322.80 747.85h-3" stroke="#a0a0a0" stroke-width="0.7"/>
<text x="174.70" y="874.31" font-size="7.00" text-anchor="middle" fill="#444" font-family="Liberation Sans" >2</text>
<text x="23.10" y="750.36" font-size="7.00" text-anchor="end" fill="#444" font-family="Liberation Sans" >2</text>
<path d="M204.32 864.40v-3M204.32 631.30v3M26.60 724.54h3M322.80 724.54h-3" stroke="#a0a0a0" stroke-width="0.7"/>
<text x="204.32" y="874.31" font-size="7.00" text-anchor="middle" fill="#444" font-family="Liberation Sans" >2.5</text>
<text x="23.10" y="727.05" font-size="7.00" text-anchor="end" fill="#444" font-family="Liberation Sans" >2.5</text>
<path d="M233.94 864.40v-3M233.94 631.30v3M26.60 701.23h3M322.80 701.23h-3" stroke="#a0a0a0" stroke-width="0.7"/>
<text x="233.94" y="874.31" font-size="7.00" text-anchor="middle" fill="#444" font-family="Liberation Sans" >3</text>
<text x="23.10" y="703.74" font-size="7.00" text-anchor="end" fill="#444" font-family="Liberation Sans" >3</text>
<path d="M263.56 864.40v-3M263.56 631.30v3M26.60 677.92h3M322.80 677.92h-3" stroke="#a0a0a0" stroke-width="0.7"/>
<text x="263.56" y="874.31" font-size="7.00" text-anchor="middle" fill="#444" font-family="Liberation Sans" >3.5</text>
<text x="23.10" y="680.43" font-size="7.00" text-anchor="end" fill="#444" font-family="Liberation Sans" >3.5</text>
<path d="M293.18 864.40v-3M293.18 631.30v3M26.60 654.61h3M322.80 654.61h-3" stroke="#a0a0a0" stroke-width="0.7"/>
<text x="293.18" y="874.31" font-size="7.00" text-anchor="middle" fill="#444" font-family="Liberation Sans" >4</text>
<text x="23.10" y="657.12" font-size="7.00" text-anchor="end" fill="#444" font-family="Liberation Sans" >4</text>
<path d="M322.80 864.40v-3M322.80 631.30v3M26.60 631.30h3M322.80 631.30h-3" stroke="#a0a0a0" stroke-width="0.7"/>
<text x="322.80" y="874.31" font-size="7.00" text-anchor="middle" fill="#444" font-family="Liberation Sans" >4.5</text>
<text x="23.10" y="633.81" font-size="7.00" text-anchor="end" fill="#444" font-family="Liberation Sans" >4.5</text>
<rect x="383.40" y="631.30" width="296.30" height="233.10" fill="none" stroke="#a0a0a0" stroke-width="0.85"/>
<path d="M383.40 864.40v-3M383.40 631.30v3M383.40 864.40h3M679.70 864.40h-3" stroke="#a0a0a0" stroke-width="0.7"/>
<text x="383.40" y="874.31" font-size="7.00" text-anchor="middle" fill="#444" font-family="Liberation Sans" >-0.5</text>
<text x="379.90" y="866.91" font-size="7.00" text-anchor="end" fill="#444" font-family="Liberation Sans" >-0.5</text>
<path d="M413.03 864.40v-3M413.03 631.30v3M383.40 841.09h3M679.70 841.09h-3" stroke="#a0a0a0" stroke-width="0.7"/>
<text x="413.03" y="874.31" font-size="7.00" text-anchor="middle" fill="#444" font-family="Liberation Sans" >0</text>
<text x="379.90" y="843.60" font-size="7.00" text-anchor="end" fill="#444" font-family="Liberation Sans" >0</text>
<path d="M442.66 864.40v-3M442.66 631.30v3M383.40 817.78h3M679.70 817.78h-3" stroke="#a0a0a0" stroke-width="0.7"/>
<text x="442.66" y="874.31" font-size="7.00" text-anchor="middle" fill="#444" font-family="Liberation Sans" >0.5</text>
<text x="379.90" y="820.29" font-size="7.00" text-anchor="end" fill="#444" font-family="Liberation Sans" >0.5</text>
<path d="M472.29 864.40v-3M472.29 631.30v3M383.40 794.47h3M679.70 794.47h-3" stroke="#a0a0a0" stroke-width="0.7"/>
<text x="472.29" y="874.31" font-size="7.00" text-anchor="middle" fill="#444" font-family="Liberation Sans" >1</text>
<text x="379.90" y="796.98" font-size="7.00" text-anchor="end" fill="#444" font-family="Liberation Sans" >1</text>
<path d="M501.92 864.40v-3M501.92 631.30v3M383.40 771.16h3M679.70 771.16h-3" stroke="#a0a0a0" stroke-width="0.7"/>
<text x="501.92" y="874.31" font-size="7.00" text-anchor="middle" fill="#444" font-family="Liberation Sans" >1.5</text>
<text x="379.90" y="773.67" font-size="7.00" text-anchor="end" fill="#444" font-family="Liberation Sans" >1.5</text>
<path d="M531.55 864.40v-3M531.55 631.30v3M383.40 747.85h3M679.70 747.85h-3" stroke="#a0a0a0" stroke-width="0.7"/>
<text x="531.55" y="874.31" font-size="7.00" text-anchor="middle" fill="#444" font-family="Liberation Sans" >2</text>
<text x="379.90" y="750.36" font-size="7.00" text-anchor="end" fill="#444" font-family="Liberation Sans" >2</text>
<path d="M561.18 864.40v-3M561.18 631.30v3M383.40 724.54h3M679.70 724.54h-3" stroke="#a0a0a0" stroke-width="0.7"/>
<text x="561.18" y="874.31" font-size="7.00" text-anchor="middle" fill="#444" font-family="Liberation Sans" >2.5</text>
<text x="379.90" y="727.05" font-size="7.00" text-anchor="end" fill="#444" font-family="Liberation Sans" >2.5</text>
<path d="M590.81 864.40v-3M590.81 631.30v3M383.40 701.23h3M679.70 701.23h-3" stroke="#a0a0a0" stroke-width="0.7"/>
<text x="590.81" y="874.31" font-size="7.00" text-anchor="middle" fill="#444" font-family="Liberation Sans" >3</text>
<text x="379.90" y="703.74" font-size="7.00" text-anchor="end" fill="#444" font-family="Liberation Sans" >3</text>
<path d="M620.44 864.40v-3M620.44 631.30v3M383.40 677.92h3M679.70 677.92h-3" stroke="#a0a0a0" stroke-width="0.7"/>
<text x="620.44" y="874.31" font-size="7.00" text-anchor="middle" fill="#444" font-family="Liberation Sans" >3.5</text>
<text x="379.90" y="680.43" font-size="7.00" text-anchor="end" fill="#444" font-family="Liberation Sans" >3.5</text>
<path d="M650.07 864.40v-3M650.07 631.30v3M383.40 654.61h3M679.70 654.61h-3" stroke="#a0a0a0" stroke-width="0.7"/>
<text x="650.07" y="874.31" font-size="7.00" text-anchor="middle" fill="#444" font-family="Liberation Sans" >4</text>
<text x="379.90" y="657.12" font-size="7.00" text-anchor="end" fill="#444" font-family="Liberation Sans" >4</text>
<path d="M679.70 864.40v-3M679.70 631.30v3M383.40 631.30h3M679.70 631.30h-3" stroke="#a0a0a0" stroke-width="0.7"/>
<text x="679.70" y="874.31" font-size="7.00" text-anchor="middle" fill="#444" font-family="Liberation Sans" >4.5</text>
<text x="379.90" y="633.81" font-size="7.00" text-anchor="end" fill="#444" font-family="Liberation Sans" >4.5</text>
<g transform="scale(0.1)" fill="none" stroke="#0072bd" stroke-linecap="round" stroke-linejoin="round">
<path d="M562 8411l-7 0M600 8411l-8 7M639 8411l-6 4M677 8411l-8 10M715 8411l12-8M753 8411l-1 6M792 8411l-3 7M830 8411l-5 8M868 8411l-8 12M906 8411l-2 13M944 8411l-14 4M983 8411l-3 12M1021 8411l0 13M1059 8411l-14 1M1097 8411l-5 4M1135 8411l-1 7M1174 8411l-6 7M1212 8411l-13 14M1250 8411l-2 6M1288 8411l-6 7M1327 8411l-3 13M1365 8411l-9-5M1403 8411l-4 15M1441 8411l-13-1M1479 8411l-1 13M1518 8411l-6 0M1556 8411l-6 8M1594 8411l-1 11M1632 8411l-3 5M1671 8411l-3 13M1709 8411l-8 0M1747 8411l-5 4M1785 8411l0 7M1823 8411l0 7M1862 8411l-7 10M1900 8411l-4 5M1938 8411l-7 1M1976 8411l-19 7M2015 8411l0 7M2053 8411l0 12M2091 8411l0 13M2129 8411l0 10M2167 8411l-6 3M2206 8411l-9 2M2244 8411l-13 19M2282 8411l-11 8M2320 8411l-9 6M2359 8411l-1 12M2397 8411l-1 8M2435 8411l0 7M2473 8411l-16-2M2511 8411l-7 4M2550 8411l-7 6M2588 8411l-12 8M2626 8411l1 10M2664 8411l-6 4M2702 8411l-3 13M2741 8411l-7 5M2779 8411l-14 4M2817 8411l-3 6M2855 8411l-13 2M2894 8411l-9 9M2932 8411l-6 4M562 8381l-8 12M600 8381l-10 9M639 8381l-7 2M677 8381l-7 13M715 8381l0 8M753 8381l8-5M792 8381l-4 7M830 8381l-5 3M868 8381l-7 9M906 8381l14-3M944 8381l-2 8M983 8381l0 12M1021 8381l-4 8M1059 8381l-11 10M1097 8381l-8 12M1135 8381l-9-1M1174 8381l-1 9M1212 8381l-5 7M1250 8381l-5 10M1288 8381l-1 9M1327 8381l-1 7M1365 8381l-11 9M1403 8381l-6 12M1441 8381l-12 8M1479 8381l-8 11M1518 8381l7-11M1556 8381l-8 9M1594 8381l0 12M1632 8381l-15 1M1671 8381l-9 11M1709 8381l-6 6M1747 8381l-7 9M1785 8381l-6 4M1823 8381l0 17M1862 8381l-1 11M1900 8381l0 12M1938 8381l-7 8M1976 8381l-2 14M2015 8381l-4 5M2053 8381l-2 7M2091 8381l-12 2M2129 8381l-3 12M2167 8381l0 15M2206 8381l-3 14M2244 8381l0 12M2282 8381l1 7M2320 8381l0 13M2359 8381l-12 9M2397 8381l-1 12M2435 8381l-12 9M2473 8381l-4 7M2511 8381l-11 10M2550 8381l-4 6M2588 8381l-7 8M2626 8381l-2 11M2664 8381l0 9M2702 8381l-2 8M2741 8381l-1 15M2779 8381l-1 13M2817 8381l-7 2M2855 8381l1-11M2894 8381l-1 7M2932 8381l-13 14M562 8351l-6 8M600 8351l-1 13M639 8351l-4 9M677 8351l-11-1M715 8351l-12 9M753 8351l-4 12M792 8351l-1 21M830 8351l-6 7M868 8351l-3 11M906 8351l-1 10M944 8351l-9 8M983 8351l-3 14M1021 8351l0 13M1059 8351l-12 1M1097 8351l-16 18M1135 8351l-1 11M1174 8351l-8 9M1212 8351l-9 8M1250 8351l-7 4M1288 8351l-7 1M1327 8351l0 11M1365 8351l-12 3M1403 8351l0 8M1441 8351l-7 12M1479 8351l-12 4M1518 8351l-7 9M1556 8351l-10 9M1594 8351l-12 8M1632 8351l-8 8M1671 8351l0 7M1709 8351l-1 8M1747 8351l-5 5M1785 8351l-6 5M1823 8351l-6 5M1862 8351l0 15M1900 8351l0 7M1938 8351l-5 9M1976 8351l-10 9M2015 8351l-9 9M2053 8351l-12 9M2091 8351l-6 6M2129 8351l-10 0M2167 8351l-7 12M2206 8351l-3 6M2244 8351l13 3M2282 8351l-8 11M2320 8351l-5 5M2359 8351l-12 0M2397 8351l-7-9M2435 8351l-6-4M2473 8351l-1 11M2511 8351l-5 8M2550 8351l-2 10M2588 8351l0 12M2626 8351l4-6M2664 8351l-5 4M2702 8351l9 2M2741 8351l-6 8M2779 8351l-10 10M2817 8351l-6 12M2855 8351l-6 11M2894 8351l-13 3M2932 8351l0 8M562 8321l-11-7M600 8321l-10 6M639 8321l-1 13M677 8321l-7 12M715 8321l-6 9M753 8321l-6 0M792 8321l-5 7M830 8321l0 11M868 8321l-4 8M906 8321l9-5M944 8321l12-6M983 8321l-1 7M1021 8321l-2 13M1059 8321l-1 14M1097 8321l0 15M1135 8321l-3 12M1174 8321l1 10M1212 8321l-5 10M1250 8321l1 12M1288 8321l0 14M1327 8321l-5 4M1365 8321l-9 0M1403 8321l-11 9M1441 8321l-2 14M1479 8321l-8 13M1518 8321l-1 13M1556 8321l-3 25M1594 8321l-7 12M1632 8321l-6 11M1671 8321l-3 14M1709 8321l-1 11M1747 8321l-11 7M1785 8321l-6 6M1823 8321l6 9M1862 8321l-2 15M1900 8321l8-6M1938 8321l8-12M1976 8321l0 10M2015 8321l-7 8M2053 8321l-4 8M2091 8321l-8 0M2129 8321l-10 11M2167 8321l-10 7M2206 8321l-11 6M2244 8321l-6 4M2282 8321l-4 5M2320 8321l-2 9M2359 8321l-11-4M2397 8321l9-2M2435 8321l-8 7M2473 8321l-6 6M2511 8321l-2 14M2550 8321l0 10M2588 8321l-12 8M2626 8321l3 9M2664 8321l-10-2M2702 8321l-10 1M2741 8321l-15 17M2779 8321l-3 14M2817 8321l-1 8M2855 8321l-8 11M2894 8321l-5 8M2932 8321l-11-2M562 8291l-4 6M600 8291l-5 7M639 8291l0 9M677 8291l1 12M715 8291l-2 12M753 8291l-5 7M792 8291l-3 6M830 8291l-2 12M868 8291l-2 8M906 8291l-4 5M944 8291l-5 4M983 8291l-2 16M1021 8291l-5 7M1059 8291l-6 11M1097 8291l-7 10M1135 8291l-4 5M1174 8291l-9 8M1212 8291l-9 6M1250 8291l-3 13M1288 8291l-10 9M1327 8291l-1 11M1365 8291l-3 25M1403 8291l-6 9M1441 8291l-6 9M1479 8291l-5 9M1518 8291l-1 12M1556 8291l1 12M1594 8291l-10 7M1632 8291l-11 8M1671 8291l-9 2M1709 8291l-5 8M1747 8291l-2 8M1785 8291l5-3M1823 8291l-2 9M1862 8291l-1 13M1900 8291l1 10M1938 8291l1 11M1976 8291l-5 5M2015 8291l7-5M2053 8291l-13 3M2091 8291l0 8M2129 8291l-5 12M2167 8291l-2 9M2206 8291l-4 5M2244 8291l-10 9M2282 8291l-8 7M2320 8291l-1 8M2359 8291l12 2M2397 8291l-9 2M2435 8291l-6 4M2473 8291l-9 10M2511 8291l0 13M2550 8291l-3 11M2588 8291l-6 12M2626 8291l-5 4M2664 8291l-7 11M2702 8291l13 2M2741 8291l-3 11M2779 8291l-8 6M2817 8291l0 14M2855 8291l13-3M2894 8291l-1 11M2932 8291l-2 14M562 8261l0 12M600 8261l0 7M639 8261l-10 6M677 8261l-2 6M715 8261l-2 9M753 8261l-1 9M792 8261l-6 8M830 8261l-8 1M868 8261l-11-1M906 8261l-6 11M944 8261l-6 7M983 8261l-4 6M1021 8261l-7 8M1059 8261l-1 11M1097 8261l-17 13M1135 8261l-10 8M1174 8261l0 7M1212 8261l-7 6M1250 8261l-9 2M1288 8261l1 9M1327 8261l-5 6M1365 8261l-2 11M1403 8261l-6 1M1441 8261l1 15M1479 8261l-6 10M1518 8261l-2-7M1556 8261l6 7M1594 8261l-4 7M1632 8261l-9 10M1671 8261l-1 8M1709 8261l-10-2M1747 8261l-5 9M1785 8261l-1 13M1823 8261l-8 1M1862 8261l-19 17M1900 8261l-8 5M1938 8261l-1 8M1976 8261l-9-2M2015 8261l-6 2M2053 8261l-6 4M2091 8261l-2 6M2129 8261l3-9M2167 8261l-10 6M2206 8261l-3 14M2244 8261l0 10M2282 8261l-11 2M2320 8261l-1 13M2359 8261l1 13M2397 8261l-3 5M2435 8261l-1 11M2473 8261l-12 1M2511 8261l-7 11M2550 8261l-8 2M2588 8261l-2 9M2626 8261l1 14M2664 8261l-11 2M2702 8261l-1 11M2741 8261l-1 7M2779 8261l0 9M2817 8261l-7 5M2855 8261l6-12M2894 8261l6-7M2932 8261l-14 11M562 8230l-4 16M600 8230l-2 11M639 8230l-7 13M677 8230l-6 9M715 8230l-3 6M753 8230l-19 12M792 8230l-8 12M830 8230l0 6M868 8230l0 6M906 8230l-7 8M944 8230l-6 5M983 8230l-17 19M1021 8230l-5 4M1059 8230l-11 9M1097 8230l-5 4M1135 8230l-15 1M1174 8230l-8 7M1212 8230l-9 10M1250 8230l-1 12M1288 8230l-7 9M1327 8230l-5 4M1365 8230l-2 10M1403 8230l-8 9M1441 8230l1 9M1479 8230l-5 11M1518 8230l-2 11M1556 8230l-6 3M1594 8230l-2 7M1632 8230l-2-8M1671 8230l-1 13M1709 8230l-6 6M1747 8230l-7 12M1785 8230l-2 11M1823 8230l-5 8M1862 8230l-12 4M1900 8230l-12 10M1938 8230l-2 9M1976 8230l-1 9M2015 8230l-5 10M2053 8230l-5 5M2091 8230l-3 12M2129 8230l-4 8M2167 8230l-9 6M2206 8230l-3 6M2244 8230l-6 12M2282 8230l-4 8M2320 8230l-5 6M2359 8230l-7 5M2397 8230l-7 9M2435 8230l-5 4M2473 8230l-7 4M2511 8230l-13 4M2550 8230l-4 6M2588 8230l-9 7M2626 8230l-6 4M2664 8230l-14 3M2702 8230l-8 12M2741 8230l-5 7M2779 8230l-2 14M2817 8230l-5 8M2855 8230l-11-9M2894 8230l-1 6M2932 8230l0-14M562 8200l-6 8M600 8200l-3 5M639 8200l0 14M677 8200l-5 10M715 8200l0 8M753 8200l-6 6M792 8200l-14 0M830 8200l-2 7M868 8200l-7 4M906 8200l-14-1M944 8200l-6 10M983 8200l-5 4M1021 8200l-6 5M1059 8200l-4 9M1097 8200l-6 11M1135 8200l-9 3M1174 8200l-2 9M1212 8200l-1 14M1250 8200l-8 8M1288 8200l-5 8M1327 8200l-4 6M1365 8200l-5 4M1403 8200l-10 9M1441 8200l-2 9M1479 8200l-9 12M1518 8200l-4 5M1556 8200l-4 6M1594 8200l-9-7M1632 8200l-7 9M1671 8200l-2 12M1709 8200l-4 6M1747 8200l-6 6M1785 8200l1 9M1823 8200l-9 11M1862 8200l-1 11M1900 8200l-6 7M1938 8200l-11 2M1976 8200l1 13M2015 8200l1 8M2053 8200l-3 11M2091 8200l-5 10M2129 8200l0 11M2167 8200l-1 6M2206 8200l0 12M2244 8200l-7 11M2282 8200l-12-6M2320 8200l-3 7M2359 8200l-10 9M2397 8200l11 10M2435 8200l-8 13M2473 8200l-8 8M2511 8200l0 10M2550 8200l-3 14M2588 8200l-6 4M2626 8200l-2 9M2664 8200l-10 1M2702 8200l0 6M2741 8200l-7 8M2779 8200l-5 3M2817 8200l2-9M2855 8200l-9 7M2894 8200l-11 7M2932 8200l-11 8M562 8170l-5 3M600 8170l-7 8M639 8170l-1 14M677 8170l-6-5M715 8170l-9 10M753 8170l-3 6M792 8170l-10 14M830 8170l-8 7M868 8170l-9 7M906 8170l-7 8M944 8170l-9 6M983 8170l-2 11M1021 8170l-8 8M1059 8170l-6 9M1097 8170l-9 7M1135 8170l-11 7M1174 8170l-1 9M1212 8170l-13 3M1250 8170l-1 9M1288 8170l9-2M1327 8170l-13 3M1365 8170l-9 7M1403 8170l-9 3M1441 8170l-1 7M1479 8170l-8 10M1518 8170l-3 11M1556 8170l-7 4M1594 8170l-10 10M1632 8170l-6 4M1671 8170l-5 7M1709 8170l-5 6M1747 8170l-1 7M1785 8170l-8 5M1823 8170l-5 5M1862 8170l-19 12M1900 8170l-10 7M1938 8170l-13-1M1976 8170l-7 6M2015 8170l-2 11M2053 8170l-7 6M2091 8170l0 9M2129 8170l-6 5M2167 8170l1 12M2206 8170l-9 10M2244 8170l-10 0M2282 8170l-3 25M2320 8170l-1 10M2359 8170l-9 2M2397 8170l-4 9M2435 8170l-4 8M2473 8170l-12 6M2511 8170l-8 8M2550 8170l-1 14M2588 8170l-1 14M2626 8170l-7 7M2664 8170l-4 8M2702 8170l0 7M2741 8170l-8 12M2779 8170l-1 20M2817 8170l-8 8M2855 8170l-4 8M2894 8170l0 10M2932 8170l-9 9M562 8140l-2 10M600 8140l-1 10M639 8140l-5 10M677 8140l-15-1M715 8140l-1 13M753 8140l7 0M792 8140l-2 10M830 8140l-7-2M868 8140l-14 16M906 8140l-3-8M944 8140l-1 7M983 8140l-12 4M1021 8140l-2 11M1059 8140l-3 6M1097 8140l0 9M1135 8140l-8 11M1174 8140l-5 10M1212 8140l-8 2M1250 8140l0 6M1288 8140l-10 2M1327 8140l-1 6M1365 8140l-8 11M1403 8140l0 15M1441 8140l-9 2M1479 8140l-2 8M1518 8140l-2 7M1556 8140l-5 4M1594 8140l-15-1M1632 8140l-7 6M1671 8140l-11 8M1709 8140l-1 14M1747 8140l-5 5M1785 8140l-1 9M1823 8140l-1 10M1862 8140l7 9M1900 8140l-1 9M1938 8140l0 8M1976 8140l0 7M2015 8140l19-14M2053 8140l2-12M2091 8140l-10 8M2129 8140l-10 10M2167 8140l-13 1M2206 8140l-6 5M2244 8140l-2 7M2282 8140l-5 10M2320 8140l-4 5M2359 8140l-12-1M2397 8140l-11 3M2435 8140l-2 15M2473 8140l-15 3M2511 8140l-5 3M2550 8140l-4 6M2588 8140l-5 6M2626 8140l0 14M2664 8140l-4 7M2702 8140l-7 10M2741 8140l-1 11M2779 8140l-5 5M2817 8140l-9 6M2855 8140l-6 9M2894 8140l-1 11M2932 8140l-4 8M562 8110l-7 13M600 8110l-7 5M639 8110l-6-5M677 8110l-19 11M715 8110l-7 5M753 8110l-3 5M792 8110l-10 10M830 8110l-3 5M868 8110l-1 14M906 8110l-5 6M944 8110l-4 7M983 8110l-7 4M1021 8110l-11-1M1059 8110l-8 9M1097 8110l-4 7M1135 8110l14 2M1174 8110l-1 8M1212 8110l-3 6M1250 8110l-11 8M1288 8110l0 6M1327 8110l-3 13M1365 8110l-3 14M1403 8110l-6 7M1441 8110l-3 13M1479 8110l-13 7M1518 8110l0 9M1556 8110l-11 3M1594 8110l-9 7M1632 8110l-3 11M1671 8110l-11 0M1709 8110l-2 11M1747 8110l-1 7M1785 8110l-9 5M1823 8110l-4 8M1862 8110l-9 8M1900 8110l-2 9M1938 8110l-10 9M1976 8110l-5 19M2015 8110l-4 5M2053 8110l1 12M2091 8110l-5 7M2129 8110l-8 9M2167 8110l-9 12M2206 8110l-1 6M2244 8110l-11 7M2282 8110l-12 9M2320 8110l-8 9M2359 8110l8 4M2397 8110l-8 10M2435 8110l-1 11M2473 8110l0 15M2511 8110l-12 1M2550 8110l-2 9M2588 8110l-6 5M2626 8110l-12 7M2664 8110l-7 5M2702 8110l-4 6M2741 8110l-4 19M2779 8110l-5 4M2817 8110l-9 6M2855 8110l-7 13M2894 8110l-6 8M2932 8110l-7 10M562 8080l6-1M600 8080l-10-5M639 8080l-1 7M677 8080l1 8M715 8080l-3 14M753 8080l-9 11M792 8080l-6 11M830 8080l-7 3M868 8080l-10-1M906 8080l-1 7M944 8080l-10 17M983 8080l-5 4M1021 8080l-9 6M1059 8080l-4 7M1097 8080l0 8M1135 8080l-1 6M1174 8080l-13-2M1212 8080l-2 10M1250 8080l-2 14M1288 8080l-6 1M1327 8080l-9 8M1365 8080l-13 8M1403 8080l0 11M1441 8080l2-6M1479 8080l-11 3M1518 8080l-3 12M1556 8080l-1 12M1594 8080l-5 8M1632 8080l12-9M1671 8080l-1 10M1709 8080l-7 6M1747 8080l-9 9M1785 8080l-4 8M1823 8080l1 12M1862 8080l1 10M1900 8080l-6 12M1938 8080l-5 4M1976 8080l13-2M2015 8080l-9 9M2053 8080l-11 8M2091 8080l-2 10M2129 8080l9-23M2167 8080l0 6M2206 8080l-8 11M2244 8080l3-14M2282 8080l1 7M2320 8080l-3 13M2359 8080l1 9M2397 8080l-7 9M2435 8080l5 6M2473 8080l-9 7M2511 8080l0 7M2550 8080l-4 6M2588 8080l-6 5M2626 8080l-9-2M2664 8080l0 7M2702 8080l-5 7M2741 8080l-12 0M2779 8080l-6 4M2817 8080l0 13M2855 8080l-21-15M2894 8080l2-6M2932 8080l7 4M562 8050l-10 7M600 8050l-8 12M639 8050l-9 9M677 8050l0 15M715 8050l-7-1M753 8050l-11 15M792 8050l5 10M830 8050l-3 13M868 8050l-6 10M906 8050l-11 7M944 8050l-2 9M983 8050l-7 10M1021 8050l-5 4M1059 8050l-6 10M1097 8050l-5 7M1135 8050l-6 9M1174 8050l-7 11M1212 8050l6-10M1250 8050l-7 2M1288 8050l-10 11M1327 8050l-7 7M1365 8050l-4 6M1403 8050l-2 18M1441 8050l-3 5M1479 8050l-13 0M1518 8050l-12 20M1556 8050l-4-9M1594 8050l-8 5M1632 8050l-1 9M1671 8050l-8 6M1709 8050l0 12M1747 8050l-7 13M1785 8050l-10 7M1823 8050l-6 6M1862 8050l-13 18M1900 8050l-7 12M1938 8050l-12 13M1976 8050l-5 8M2015 8050l-1 7M2053 8050l0 11M2091 8050l-4 5M2129 8050l-14 5M2167 8050l-5 8M2206 8050l-2 10M2244 8050l-2 8M2282 8050l-7 4M2320 8050l-9 7M2359 8050l-14 1M2397 8050l-5 6M2435 8050l-1 12M2473 8050l-9 7M2511 8050l-4 12M2550 8050l-10 0M2588 8050l-8 1M2626 8050l-5 10M2664 8050l-19 13M2702 8050l-7 6M2741 8050l-13-2M2779 8050l-1 9M2817 8050l-8 6M2855 8050l-3 12M2894 8050l-18 13M2932 8050l-6 10M562 8020l0 9M600 8020l-2 9M639 8020l-9-4M677 8020l-2 10M715 8020l1 15M753 8020l-8 11M792 8020l-1 7M830 8020l-7 11M868 8020l-7 9M906 8020l-5 6M944 8020l-6 10M983 8020l-4 14M1021 8020l-1 13M1059 8020l-8 8M1097 8020l-1 11M1135 8020l-9 6M1174 8020l-7 7M1212 8020l11 4M1250 8020l-15 2M1288 8020l-5 9M1327 8020l-5 9M1365 8020l-8 3M1403 8020l-8 6M1441 8020l-5 4M1479 8020l-4 8M1518 8020l-4 8M1556 8020l21-9M1594 8020l-7 7M1632 8020l-1 14M1671 8020l-8 7M1709 8020l-17 12M1747 8020l-11 8M1785 8020l-5 5M1823 8020l-9 6M1862 8020l-6 7M1900 8020l-8 12M1938 8020l-2 9M1976 8020l-3 13M2015 8020l-7 12M2053 8020l-2 15M2091 8020l-7 8M2129 8020l-1 7M2167 8020l7-3M2206 8020l-9 12M2244 8020l-3 6M2282 8020l-9 0M2320 8020l0 13M2359 8020l2 12M2397 8020l15 5M2435 8020l-12 7M2473 8020l-3 13M2511 8020l-19 12M2550 8020l-8 12M2588 8020l-6 9M2626 8020l-1 8M2664 8020l-5 4M2702 8020l-12 8M2741 8020l9-1M2779 8020l-11 3M2817 8020l-2 7M2855 8020l-7-1M2894 8020l-6 9M2932 8020l-7 2M562 7990l0 12M600 7990l-6 7M639 7990l10 1M677 7990l-11 8M715 7990l-12 9M753 7990l-12 0M792 7990l-8 0M830 7990l-7 4M868 7990l-7 5M906 7990l-1 8M944 7990l-8 10M983 7990l-6 4M1021 7990l-4 14M1059 7990l0 7M1097 7990l-6 7M1135 7990l-7 1M1174 7990l-5 7M1212 7990l-1 9M1250 7990l0 12M1288 7990l0 7M1327 7990l-2 14M1365 7990l-4 7M1403 7990l-3 14M1441 7990l-10 6M1479 7990l-8 6M1518 7990l-8 7M1556 7990l-6 7M1594 7990l-6 9M1632 7990l-6-9M1671 7990l-5 5M1709 7990l0 9M1747 7990l1 10M1785 7990l-9 8M1823 7990l6-7M1862 7990l-5 8M1900 7990l-1 12M1938 7990l-10 6M1976 7990l-9 12M2015 7990l-2 10M2053 7990l-4 9M2091 7990l0 12M2129 7990l-9-11M2167 7990l-10 0M2206 7990l-8 12M2244 7990l-7 13M2282 7990l-9 8M2320 7990l5-9M2359 7990l-8 10M2397 7990l0 7M2435 7990l-2 8M2473 7990l-7 12M2511 7990l-1 10M2550 7990l-8 5M2588 7990l-10-1M2626 7990l-10 7M2664 7990l-11 10M2702 7990l-11-1M2741 7990l-7 12M2779 7990l-6 12M2817 7990l-4 7M2855 7990l0 9M2894 7990l-4 7M2932 7990l-1 8M562 7960l1 12M600 7960l-18 6M639 7960l-10 6M677 7960l-7 7M715 7960l-12 8M753 7960l-16-2M792 7960l-9 12M830 7960l-12 7M868 7960l-1 12M906 7960l-10 9M944 7960l-12 12M983 7960l-5 8M1021 7960l-9 10M1059 7960l-3 5M1097 7960l-5 5M1135 7960l-6 2M1174 7960l-13-2M1212 7960l0 9M1250 7960l-8 11M1288 7960l-7 6M1327 7960l-8 8M1365 7960l-8 6M1403 7960l-8 7M1441 7960l-4 4M1479 7960l-8 11M1518 7960l-7 0M1556 7960l-1 11M1594 7960l-7 10M1632 7960l-10 6M1671 7960l-7 11M1709 7960l0 12M1747 7960l-1 7M1785 7960l-8 6M1823 7960l-10 7M1862 7960l-9 20M1900 7960l-5 4M1938 7960l-6 3M1976 7960l-10 7M2015 7960l-6 7M2053 7960l-5 10M2091 7960l-1 7M2129 7960l0 7M2167 7960l-9 6M2206 7960l-2 21M2244 7960l-10-9M2282 7960l-4 6M2320 7960l-1 14M2359 7960l-7 0M2397 7960l-9 9M2435 7960l2 7M2473 7960l-6 10M2511 7960l-9 1M2550 7960l-7-1M2588 7960l-7 5M2626 7960l-10 6M2664 7960l-8 12M2702 7960l-8 5M2741 7960l-3 14M2779 7960l-1 7M2817 7960l-8 6M2855 7960l-4 5M2894 7960l-10-1M2932 7960l0 12M562 7930l-11 8M600 7930l-3 12M639 7930l-9-1M677 7930l2-7M715 7930l-9 0M753 7930l-6-13M792 7930l-9 7M830 7930l-12 7M868 7930l-13 1M906 7930l-11-8M944 7930l-4 7M983 7930l10 6M1021 7930l-11-1M1059 7930l0 12M1097 7930l-11 8M1135 7930l-12 8M1174 7930l-7 5M1212 7930l-10-1M1250 7930l-6 9M1288 7930l-4 5M1327 7930l-7 10M1365 7930l-16 12M1403 7930l-6 7M1441 7930l-12 8M1479 7930l-5 4M1518 7930l-1 10M1556 7930l-3 6M1594 7930l-10 11M1632 7930l-10 8M1671 7930l-10 11M1709 7930l-9 6M1747 7930l-8 10M1785 7930l-7 13M1823 7930l-11-9M1862 7930l-2 9M1900 7930l-6 11M1938 7930l-2 13M1976 7930l-6 7M2015 7930l-9 0M2053 7930l-5 5M2091 7930l-1 10M2129 7930l-7 12M2167 7930l-10 7M2206 7930l-1 8M2244 7930l-10 12M2282 7930l-2 8M2320 7930l-5 4M2359 7930l-4 5M2397 7930l-4 7M2435 7930l-6 6M2473 7930l-10 11M2511 7930l0 7M2550 7930l-9 17M2588 7930l-6 9M2626 7930l-10-1M2664 7930l-8 10M2702 7930l0 8M2741 7930l-7 4M2779 7930l-8 12M2817 7930l-4 5M2855 7930l-6-1M2894 7930l-5 5M2932 7930l-7 5M562 7900l-6-5M600 7900l-8 9M639 7900l-7 10M677 7900l-5 4M715 7900l8 4M753 7900l-9 10M792 7900l-2 11M830 7900l-11-1M868 7900l-5 5M906 7900l-6 11M944 7900l9 7M983 7900l-1 7M1021 7900l-8 6M1059 7900l-1 10M1097 7900l-1 12M1135 7900l-10 9M1174 7900l-12 9M1212 7900l-13 17M1250 7900l1 10M1288 7900l-17 2M1327 7900l-8 1M1365 7900l-4 8M1403 7900l-4 6M1441 7900l-6 13M1479 7900l2-10M1518 7900l-6 8M1556 7900l-9 0M1594 7900l-12 4M1632 7900l-3 13M1671 7900l-1 7M1709 7900l-9-1M1747 7900l11 7M1785 7900l-7 7M1823 7900l-4 8M1862 7900l-4 8M1900 7900l-4 6M1938 7900l-9 9M1976 7900l10 23M2015 7900l-3 12M2053 7900l-9 10M2091 7900l-6 4M2129 7900l-3 13M2167 7900l-11 7M2206 7900l-9 11M2244 7900l-6 0M2282 7900l10-5M2320 7900l-4 8M2359 7900l1 8M2397 7900l-12 2M2435 7900l-7 13M2473 7900l-3 7M2511 7900l-6 8M2550 7900l-3 12M2588 7900l0 14M2626 7900l-2 10M2664 7900l-11 10M2702 7900l-4 5M2741 7900l-4 8M2779 7900l-10 8M2817 7900l0 10M2855 7900l0 13M2894 7900l-7 7M2932 7900l-4 7M562 7870l-8 5M600 7870l-7 5M639 7870l-7 11M677 7870l-5 9M715 7870l-4 6M753 7870l-10-5M792 7870l-7 6M830 7870l-6 10M868 7870l-6 4M906 7870l-9 7M944 7870l-6 4M983 7870l-7 6M1021 7870l-2 10M1059 7870l-4 7M1097 7870l-4 8M1135 7870l-8 6M1174 7870l-6 7M1212 7870l-2 10M1250 7870l-3 14M1288 7870l0 10M1327 7870l-1 14M1365 7870l-12 7M1403 7870l-5 8M1441 7870l-6 11M1479 7870l-12 8M1518 7870l-2 11M1556 7870l-3 12M1594 7870l-1 10M1632 7870l-8 13M1671 7870l9 0M1709 7870l-5 9M1747 7870l-10 8M1785 7870l1 9M1823 7870l-9 5M1862 7870l-8 7M1900 7870l0 10M1938 7870l-1 14M1976 7870l-5 6M2015 7870l-9 6M2053 7870l-7 11M2091 7870l-7 9M2129 7870l0 6M2167 7870l-12-2M2206 7870l-5 9M2244 7870l3 12M2282 7870l-8 11M2320 7870l-12 2M2359 7870l7-13M2397 7870l-8 9M2435 7870l-3 27M2473 7870l-9 3M2511 7870l-7 7M2550 7870l-5 4M2588 7870l-1 9M2626 7870l-14 1M2664 7870l-10 6M2702 7870l-6 5M2741 7870l-1 7M2779 7870l-7 9M2817 7870l-13 7M2855 7870l-1 8M2894 7870l-11 8M2932 7870l8 4M562 7839l-11 8M600 7839l-9 7M639 7839l-7 7M677 7839l-8 7M715 7839l-5 6M753 7839l-3 15M792 7839l14-1M830 7839l-4 6M868 7839l-7 6M906 7839l-5 4M944 7839l-1 14M983 7839l-1 7M1021 7839l-9 1M1059 7839l-1 6M1097 7839l-4 5M1135 7839l-2 8M1174 7839l-1 14M1212 7839l-8-1M1250 7839l-4 5M1288 7839l0 14M1327 7839l-15 0M1365 7839l-12 7M1403 7839l-7 6M1441 7839l-7 4M1479 7839l-8 0M1518 7839l0 14M1556 7839l-1 9M1594 7839l-1 8M1632 7839l0 8M1671 7839l-13-1M1709 7839l-4 5M1747 7839l-1 8M1785 7839l-2 13M1823 7839l-1 7M1862 7839l-11 8M1900 7839l0 10M1938 7839l-10 9M1976 7839l-5 9M2015 7839l-5 8M2053 7839l-5 6M2091 7839l-2 14M2129 7839l-8 7M2167 7839l-6 7M2206 7839l-1 6M2244 7839l-7 9M2282 7839l-7 8M2320 7839l-10 2M2359 7839l-6 7M2397 7839l9 8M2435 7839l-7 6M2473 7839l-12-1M2511 7839l-5 9M2550 7839l13-5M2588 7839l-10 7M2626 7839l-4 5M2664 7839l-1 10M2702 7839l-4 6M2741 7839l-4 6M2779 7839l-5 7M2817 7839l-3 13M2855 7839l-4 7M2894 7839l-10 13M2932 7839l-5 8M562 7809l-1 8M600 7809l-3 14M639 7809l-9 7M677 7809l-8-2M715 7809l9-2M753 7809l-7 8M792 7809l-9 6M830 7809l0 13M868 7809l-4 8M906 7809l15 22M944 7809l-10 0M983 7809l-5 3M1021 7809l-7 8M1059 7809l-4 6M1097 7809l-2 10M1135 7809l-10 9M1174 7809l-6 6M1212 7809l-4 5M1250 7809l-6 12M1288 7809l-4 6M1327 7809l-1 12M1365 7809l-13 4M1403 7809l-5 6M1441 7809l-9 6M1479 7809l12 0M1518 7809l-3 18M1556 7809l-9 9M1594 7809l0 6M1632 7809l-3 14M1671 7809l-10 13M1709 7809l-8 5M1747 7809l0-8M1785 7809l-7 5M1823 7809l-3 14M1862 7809l-3 12M1900 7809l0 11M1938 7809l0 8M1976 7809l-8-9M2015 7809l-2 11M2053 7809l1 14M2091 7809l5 12M2129 7809l-3 5M2167 7809l-6 4M2206 7809l1 14M2244 7809l-10 6M2282 7809l0 10M2320 7809l-7 5M2359 7809l-9 10M2397 7809l-6 11M2435 7809l-2 9M2473 7809l-7 6M2511 7809l-6 10M2550 7809l-4 7M2588 7809l-8 13M2626 7809l-7 7M2664 7809l-3 20M2702 7809l-1 7M2741 7809l-1 14M2779 7809l-2 14M2817 7809l-8 8M2855 7809l-6 9M2894 7809l-4 7M2932 7809l-13 0M562 7779l-1 8M600 7779l-12 7M639 7779l-5 5M677 7779l-2 13M715 7779l-10 10M753 7779l-11 8M792 7779l-8 7M830 7779l-6 10M868 7779l-10 8M906 7779l-4 4M944 7779l-6 0M983 7779l-5 18M1021 7779l-4 8M1059 7779l0 11M1097 7779l-9 12M1135 7779l-7 12M1174 7779l-9 6M1212 7779l-6-6M1250 7779l-1 11M1288 7779l-10 8M1327 7779l-6 9M1365 7779l13 3M1403 7779l-11 7M1441 7779l-2 12M1479 7779l-6 9M1518 7779l0 7M1556 7779l-11 7M1594 7779l-3 6M1632 7779l-2 7M1671 7779l-2 9M1709 7779l-10 7M1747 7779l0 6M1785 7779l-9 2M1823 7779l-2-12M1862 7779l-5 6M1900 7779l-6 11M1938 7779l1 13M1976 7779l0 11M2015 7779l0 10M2053 7779l0 9M2091 7779l-3 6M2129 7779l-10 11M2167 7779l-1 6M2206 7779l-1 10M2244 7779l-2 8M2282 7779l-4 5M2320 7779l-8 2M2359 7779l-2 9M2397 7779l-1 12M2435 7779l-5 11M2473 7779l-7 8M2511 7779l12-4M2550 7779l-4 9M2588 7779l-8 10M2626 7779l-5 6M2664 7779l-14-4M2702 7779l-2 7M2741 7779l-8 8M2779 7779l-1-10M2817 7779l-10 8M2855 7779l-1 13M2894 7779l-8 11M2932 7779l-14 4M562 7749l-2 9M600 7749l0 9M639 7749l-10 5M677 7749l-12 8M715 7749l-9 7M753 7749l0 14M792 7749l-1 7M830 7749l-11 9M868 7749l-14 0M906 7749l-7 1M944 7749l-9 7M983 7749l-8 11M1021 7749l-5 10M1059 7749l0 15M1097 7749l-1 13M1135 7749l-7 6M1174 7749l-13-1M1212 7749l-5 6M1250 7749l0 9M1288 7749l1 12M1327 7749l-1 14M1365 7749l-3 5M1403 7749l0 9M1441 7749l0 11M1479 7749l-2 7M1518 7749l4 6M1556 7749l-15-2M1594 7749l-16 13M1632 7749l-7 12M1671 7749l-5 5M1709 7749l0 13M1747 7749l-8 9M1785 7749l-7 12M1823 7749l-4 6M1862 7749l-1 9M1900 7749l-4 5M1938 7749l0 24M1976 7749l-1 7M2015 7749l-8 7M2053 7749l0 13M2091 7749l-8 8M2129 7749l-1 10M2167 7749l1 13M2206 7749l-5 6M2244 7749l-10 10M2282 7749l0 10M2320 7749l-1 12M2359 7749l-6 0M2397 7749l0 13M2435 7749l-1 13M2473 7749l-4 9M2511 7749l-15 17M2550 7749l-9 12M2588 7749l-1-9M2626 7749l-10 7M2664 7749l-12 2M2702 7749l-8 9M2741 7749l-6 6M2779 7749l-6 8M2817 7749l-10 8M2855 7749l-10 10M2894 7749l0 13M2932 7749l-6 10M562 7719l-8 10M600 7719l-7 13M639 7719l-7 10M677 7719l-1 11M715 7719l-9 8M753 7719l0 12M792 7719l6-5M830 7719l-2 20M868 7719l-3 11M906 7719l-6 9M944 7719l0 14M983 7719l-6 7M1021 7719l5-6M1059 7719l-8 10M1097 7719l-12-1M1135 7719l-12 1M1174 7719l-7-8M1212 7719l-12 0M1250 7719l-2 6M1288 7719l-17 15M1327 7719l-9 12M1365 7719l-4 6M1403 7719l-9 8M1441 7719l-12 0M1479 7719l0 12M1518 7719l-5 7M1556 7719l-1 14M1594 7719l-9 11M1632 7719l-6 11M1671 7719l1 9M1709 7719l-8 0M1747 7719l-6 6M1785 7719l-4 18M1823 7719l0 6M1862 7719l-10-1M1900 7719l-6 12M1938 7719l0 9M1976 7719l-2 15M2015 7719l-6 6M2053 7719l-7-3M2091 7719l-1 12M2129 7719l-9 11M2167 7719l-8 7M2206 7719l0 13M2244 7719l-12 2M2282 7719l-3 6M2320 7719l-9 3M2359 7719l-4 5M2397 7719l-7 7M2435 7719l10 6M2473 7719l-6 8M2511 7719l-1 7M2550 7719l-2 13M2588 7719l-7 11M2626 7719l-8 11M2664 7719l-7 7M2702 7719l-7 12M2741 7719l0 11M2779 7719l-4 7M2817 7719l-2 7M2855 7719l2-13M2894 7719l1 8M2932 7719l-9 20M562 7689l-2 12M600 7689l8 10M639 7689l-1 14M677 7689l0 15M715 7689l-6 6M753 7689l-3 6M792 7689l1 8M830 7689l-7 6M868 7689l1 10M906 7689l-10 1M944 7689l1 10M983 7689l-12 12M1021 7689l-4 6M1059 7689l-15-1M1097 7689l-21 12M1135 7689l-7 10M1174 7689l-10 8M1212 7689l10 0M1250 7689l-10 9M1288 7689l0 8M1327 7689l9-12M1365 7689l-7 9M1403 7689l-1 7M1441 7689l-11-2M1479 7689l-6 11M1518 7689l-7 9M1556 7689l-4 6M1594 7689l-7 4M1632 7689l-10 10M1862 7689l-1 8M1900 7689l-20 7M1938 7689l-9 6M1976 7689l1 10M2015 7689l5 8M2053 7689l-2 12M2091 7689l-1 26M2129 7689l-5 5M2167 7689l1 12M2206 7689l-9-7M2244 7689l-1 8M2282 7689l0 11M2320 7689l-6 12M2359 7689l-5 11M2397 7689l-10 9M2435 7689l0 6M2473 7689l-6 6M2511 7689l-9 7M2550 7689l-3 14M2588 7689l-4 6M2626 7689l-3 16M2664 7689l-2 14M2702 7689l-1 6M2741 7689l-6-6M2779 7689l-10-5M2817 7689l-1 14M2855 7689l-6 8M2894 7689l-7-1M2932 7689l-3 22M562 7659l-12 8M600 7659l-11 21M639 7659l-13-1M677 7659l-8 0M715 7659l-7 1M753 7659l-10 8M792 7659l-11 9M830 7659l0 14M868 7659l-3 20M906 7659l-7 2M944 7659l-7 5M983 7659l-10 15M1021 7659l-10 1M1059 7659l-6 5M1097 7659l-1 14M1135 7659l-7 9M1174 7659l-9 12M1212 7659l-10 9M1250 7659l-1 7M1288 7659l-5 6M1327 7659l-6 11M1365 7659l-14 2M1403 7659l-4 8M1441 7659l-9 6M1479 7659l-1 11M1518 7659l-8 8M1556 7659l-7 5M1938 7659l-20 16M1976 7659l-17 15M2015 7659l-8 9M2053 7659l-1 14M2091 7659l14 4M2129 7659l-9 8M2167 7659l-6 5M2206 7659l-6 8M2244 7659l-1 9M2282 7659l-10 3M2320 7659l-11 7M2359 7659l0 8M2397 7659l1 7M2435 7659l-1 8M2473 7659l-8 5M2511 7659l-10-1M2550 7659l-16 19M2588 7659l-2 11M2626 7659l-5 3M2664 7659l-7 7M2702 7659l-1 8M2741 7659l-11-2M2779 7659l-7 10M2817 7659l-6 5M2855 7659l-3 7M2894 7659l-11 9M2932 7659l-4 7M562 7629l-6 6M600 7629l0 7M639 7629l-1 11M677 7629l-9 7M715 7629l-2 10M753 7629l0 8M792 7629l-1 9M830 7629l-6 4M868 7629l-1 15M906 7629l8-9M944 7629l-1 15M983 7629l-9 11M1021 7629l-6 5M1059 7629l-3 12M1097 7629l-6 4M1135 7629l-10 8M1174 7629l0 10M1212 7629l-4 6M1250 7629l-6 2M1288 7629l-9 8M1327 7629l-11 7M1365 7629l-12 8M1403 7629l-1 7M1441 7629l-6 10M1479 7629l-8 11M1518 7629l-9-7M1976 7629l0 8M2015 7629l-1 8M2053 7629l-10 10M2091 7629l1 14M2129 7629l-5 3M2167 7629l-3-9M2206 7629l-3 15M2244 7629l-12 24M2282 7629l-8 7M2320 7629l-9 10M2359 7629l-9 9M2397 7629l-6 4M2435 7629l-9 18M2473 7629l-7-8M2511 7629l2 9M2550 7629l-2 18M2588 7629l-7 0M2626 7629l-14 2M2664 7629l0 10M2702 7629l-6 6M2741 7629l0-14M2779 7629l-9 6M2817 7629l-8 2M2855 7629l-5 4M2894 7629l-8 3M2932 7629l0 8M562 7599l-1 9M600 7599l-8 7M639 7599l-5 9M677 7599l-6 10M715 7599l-8 6M753 7599l-18 10M792 7599l-10 7M830 7599l1 10M868 7599l-10 11M906 7599l-1 9M944 7599l-9 7M983 7599l2 7M1021 7599l-1 9M1059 7599l-1 11M1097 7599l0 6M1135 7599l-7 1M1174 7599l0 8M1212 7599l-6 9M1250 7599l-1 6M1288 7599l-11 0M1327 7599l-1 12M1365 7599l-7 8M1403 7599l-6 5M1441 7599l-8 10M1479 7599l-3 13M2015 7599l-7 6M2053 7599l2 7M2091 7599l-7 9M2129 7599l-7 6M2167 7599l-10 8M2206 7599l-9 10M2244 7599l-6 1M2282 7599l-2 15M2320 7599l-8 8M2359 7599l4 10M2397 7599l-1 9M2435 7599l-5 7M2473 7599l-1 8M2511 7599l-5 8M2550 7599l12-3M2588 7599l-13 2M2626 7599l-2 12M2664 7599l-8 9M2702 7599l7 12M2741 7599l-5 6M2779 7599l1 8M2817 7599l-9 9M2855 7599l-10 10M2894 7599l-4 5M2932 7599l-5 6M562 7569l-6 11M600 7569l-14-1M639 7569l-7 6M677 7569l-4 5M715 7569l-3 5M753 7569l-1 9M792 7569l-13 1M830 7569l9 12M868 7569l-2 13M906 7569l-4 6M944 7569l-8 8M983 7569l1-13M1021 7569l-1 7M1059 7569l13-2M1097 7569l-10 0M1135 7569l-5 5M1174 7569l-15 16M1212 7569l1-13M1250 7569l-5 6M1288 7569l-9 9M1327 7569l-6 8M1365 7569l-5 6M1403 7569l-7 5M1441 7569l-9 9M1479 7569l-14 12M1671 7569l-3-3M1709 7569l3 2M1747 7569l1 2M1785 7569l2-1M1823 7569l-2 0M2015 7569l7-5M2053 7569l-3 11M2091 7569l12 16M2129 7569l-10 11M2167 7569l-5 6M2206 7569l-14 3M2244 7569l-6 10M2282 7569l-7 10M2320 7569l-4 6M2359 7569l-7 7M2397 7569l-7 6M2435 7569l0 10M2473 7569l0 8M2511 7569l-1 15M2550 7569l-4 8M2588 7569l-8 8M2626 7569l-10 10M2664 7569l-11 8M2702 7569l-6 5M2741 7569l0 12M2779 7569l-1 14M2817 7569l-5 9M2855 7569l-10 7M2894 7569l1 13M2932 7569l-18 13M562 7539l-2 13M600 7539l-5 9M639 7539l-8 11M677 7539l0 7M715 7539l0 11M753 7539l8-7M792 7539l-3 10M830 7539l-5 7M868 7539l-7-2M906 7539l-6 5M944 7539l1 13M983 7539l-5 3M1021 7539l0 7M1059 7539l-9 10M1097 7539l-8-1M1135 7539l0 10M1174 7539l-11-1M1212 7539l-1 11M1250 7539l-6 4M1288 7539l-5 10M1327 7539l-3 11M1365 7539l-11 7M1403 7539l-2 8M1441 7539l-22 6M1632 7539l1 3M1671 7539l1 4M1709 7539l-2 1M1747 7539l-2-5M1785 7539l3-5M1823 7539l-3-4M1862 7539l2-5M2053 7539l-13 0M2091 7539l1 14M2129 7539l-2 12M2167 7539l-6 7M2206 7539l-6-1M2244 7539l-10 0M2282 7539l-5 4M2320 7539l-3 14M2359 7539l-6 11M2397 7539l-8 11M2435 7539l-10 12M2473 7539l-7 0M2511 7539l0 14M2550 7539l-11 10M2588 7539l-3 7M2626 7539l12 8M2664 7539l0 10M2702 7539l-10 2M2741 7539l0 7M2779 7539l-5-8M2817 7539l-6 5M2855 7539l0 12M2894 7539l-12 7M2932 7539l-10 3M562 7509l-10 7M600 7509l-11 8M639 7509l-5 8M677 7509l-6 5M715 7509l-6 5M753 7509l-8 8M792 7509l-7 11M830 7509l-12 7M868 7509l-2 10M906 7509l-7 13M944 7509l-9 12M983 7509l4-10M1021 7509l-2 10M1059 7509l-4 5M1097 7509l-9 11M1135 7509l-1 6M1174 7509l-1 10M1212 7509l-12 8M1250 7509l-8 6M1288 7509l-6 7M1327 7509l-11 3M1365 7509l-11 6M1403 7509l-9 11M1441 7509l-5 4M1632 7509l-2-1M1671 7509l-1-4M1709 7509l5 0M1747 7509l5 1M1785 7509l5 1M1823 7509l-4 4M1862 7509l-2 1M2053 7509l-10 15M2091 7509l-5 6M2129 7509l-3 18M2167 7509l-9 4M2206 7509l-5 6M2244 7509l-12 1M2282 7509l-5 4M2320 7509l0 6M2359 7509l1 7M2397 7509l-4 6M2435 7509l-9 7M2473 7509l0 7M2511 7509l-10 10M2550 7509l0 8M2588 7509l14 6M2626 7509l-8-1M2664 7509l0 9M2702 7509l0 9M2741 7509l1 7M2779 7509l1 8M2817 7509l-3 6M2855 7509l-1 9M2894 7509l-8 7M2932 7509l-9 0M562 7478l-1 7M600 7478l-2 8M639 7478l-12 9M677 7478l-14 4M715 7478l-6-2M753 7478l-10 6M792 7478l-3 5M830 7478l-5 5M868 7478l0 16M906 7478l-4 7M944 7478l-4 4M983 7478l-7 1M1021 7478l-2 12M1059 7478l-10-1M1097 7478l-4 8M1135 7478l-3 6M1174 7478l-11 9M1212 7478l-11 6M1250 7478l0 6M1288 7478l0 12M1327 7478l0 8M1365 7478l-8 11M1403 7478l-8 8M1441 7478l10-2M1632 7478l2 4M1671 7478l-4-4M1709 7478l-4-3M1747 7478l3 1M1785 7478l2 4M1823 7478l-2 3M1862 7478l-2 5M2053 7478l-9 1M2091 7478l-7 8M2129 7478l-7 9M2167 7478l-8 9M2206 7478l1 7M2244 7478l-11-2M2282 7478l-9 9M2320 7478l0 13M2359 7478l0 8M2397 7478l-7 6M2435 7478l-8-1M2473 7478l-4 9M2511 7478l-4 6M2550 7478l-7 12M2588 7478l-5 7M2626 7478l-15 22M2664 7478l-7 6M2702 7478l-8-3M2741 7478l-5 5M2779 7478l0 8M2817 7478l0 13M2855 7478l-13 3M2894 7478l-1 8M2932 7478l-9 7M562 7448l-2 9M600 7448l-9 11M639 7448l-10 10M677 7448l-7 10M715 7448l-4 8M753 7448l-1 14M792 7448l11-10M830 7448l0 8M868 7448l-5 3M906 7448l-13-1M944 7448l-9 7M983 7448l-8 9M1021 7448l0 7M1059 7448l-15 2M1097 7448l-5 10M1135 7448l-6 5M1174 7448l-5 10M1212 7448l-7 6M1250 7448l-1 7M1288 7448l-7 13M1327 7448l-7 7M1365 7448l-12 7M1403 7448l-8 1M1441 7448l0 7M1632 7448l1-2M1671 7448l3 4M1709 7448l1 2M1747 7448l-4 2M1785 7448l2-1M1823 7448l-6 0M1862 7448l1 2M2053 7448l0 14M2091 7448l-1 9M2129 7448l-11 10M2167 7448l1 7M2206 7448l-4 7M2244 7448l-4 7M2282 7448l-8 5M2320 7448l-2 8M2359 7448l-6 6M2397 7448l-1 7M2435 7448l-2 11M2473 7448l0 7M2511 7448l-6 2M2550 7448l-12-2M2588 7448l-2 6M2626 7448l-8 6M2664 7448l-6 4M2702 7448l-6 4M2741 7448l-12 0M2779 7448l-5 5M2817 7448l-6 10M2855 7448l-5 3M2894 7448l-7 5M2932 7448l-2 13M562 7418l-6 12M600 7418l-10 8M639 7418l-4 6M677 7418l0 8M715 7418l-12 8M753 7418l1 12M792 7418l-2 9M830 7418l-5 8M868 7418l-11 7M906 7418l-7 6M944 7418l-6 10M983 7418l-6 6M1021 7418l-2 12M1059 7418l-10 13M1097 7418l-1 6M1135 7418l12-1M1174 7418l10 6M1212 7418l-4 6M1250 7418l-9 11M1288 7418l-9 6M1327 7418l-3 14M1365 7418l-9 9M1403 7418l-9 3M1441 7418l-1 7M1632 7418l3 5M1671 7418l0 3M1709 7418l-1 2M1747 7418l6 1M1785 7418l-3-5M1823 7418l-3-3M1862 7418l-1 3M2053 7418l-2 7M2091 7418l-6 8M2129 7418l-1 18M2167 7418l8-8M2206 7418l-4 5M2244 7418l-8 9M2282 7418l-5 9M2320 7418l-4 8M2359 7418l-1 7M2397 7418l-2 13M2435 7418l-24-3M2473 7418l-12-5M2511 7418l-4 6M2550 7418l-6 4M2588 7418l2 7M2626 7418l0 26M2664 7418l-10 12M2702 7418l-6 8M2741 7418l-11 7M2779 7418l-8 11M2817 7418l-7 10M2855 7418l-7 7M2894 7418l-7 6M2932 7418l-16 4M562 7388l-4 7M600 7388l-6 10M639 7388l-1 9M677 7388l-9 11M715 7388l-8 10M753 7388l-7 9M792 7388l-4 7M830 7388l-2 12M868 7388l-14 3M906 7388l-1 8M944 7388l-6-1M983 7388l-7 5M1021 7388l-2 14M1059 7388l0-10M1097 7388l-2 7M1135 7388l-3 12M1174 7388l-12 14M1212 7388l-8 13M1250 7388l-9 10M1288 7388l-2 12M1327 7388l0 11M1365 7388l-4 8M1403 7388l0 11M1441 7388l-1 14M1479 7388l-2 11M1671 7388l-3 2M1709 7388l6 2M1747 7388l1-2M1785 7388l3-4M1823 7388l-4-3M2015 7388l-8 8M2053 7388l-17 20M2091 7388l0 13M2129 7388l-8 11M2167 7388l-3-12M2206 7388l-10 3M2244 7388l-6 13M2282 7388l-5 4M2320 7388l-9 6M2359 7388l-11 2M2397 7388l0 14M2435 7388l-2 11M2473 7388l-1 10M2511 7388l-9 6M2550 7388l-8 11M2588 7388l-4 6M2626 7388l-9 0M2664 7388l-7 7M2702 7388l-15 10M2741 7388l-11 8M2779 7388l-1 8M2817 7388l-11 8M2855 7388l-6 8M2894 7388l0 9M2932 7388l-7 5M562 7358l-7 5M600 7358l-2 13M639 7358l2 8M677 7358l-4 8M715 7358l-2-9M753 7358l-4 5M792 7358l-12 9M830 7358l-3 6M868 7358l-5 4M906 7358l-1 12M944 7358l-3 11M983 7358l-7 1M1021 7358l-6 4M1059 7358l-1 11M1097 7358l-11 7M1135 7358l0 12M1174 7358l-1 9M1212 7358l1 15M1250 7358l-2 10M1288 7358l-6 6M1327 7358l-10 3M1365 7358l-10 7M1403 7358l-2 12M1441 7358l-11 7M1479 7358l-7 7M2015 7358l-1 14M2053 7358l0 8M2091 7358l-12 3M2129 7358l-7 12M2167 7358l-2 10M2206 7358l-3 5M2244 7358l-6 7M2282 7358l6-2M2320 7358l-4 5M2359 7358l-6 5M2397 7358l-10 1M2435 7358l-8 11M2473 7358l-6 9M2511 7358l-5 5M2550 7358l-7 9M2588 7358l0 8M2626 7358l-4 18M2664 7358l-6 10M2702 7358l-8 7M2741 7358l-1 9M2779 7358l-10 10M2817 7358l3-12M2855 7358l-3 13M2894 7358l1 15M2932 7358l-6 6M562 7328l-1 9M600 7328l-6 9M639 7328l-9 2M677 7328l-7 7M715 7328l-11 7M753 7328l0 6M792 7328l-10 7M830 7328l-8 8M868 7328l-7 11M906 7328l-4 6M944 7328l-9 11M983 7328l-6 8M1021 7328l0 10M1059 7328l-12 8M1097 7328l-1 13M1135 7328l-10 8M1174 7328l-3 5M1212 7328l-7 11M1250 7328l-7 9M1288 7328l-11 6M1327 7328l-8 12M1365 7328l-10 5M1403 7328l-13 3M1441 7328l0 14M1479 7328l-1-8M1518 7328l-4 6M1976 7328l-6 5M2015 7328l1 9M2053 7328l-7 9M2091 7328l-6 1M2129 7328l-5 10M2167 7328l-13 1M2206 7328l-5 6M2244 7328l-1 13M2282 7328l-8 11M2320 7328l-6 4M2359 7328l-9 7M2397 7328l-5 5M2435 7328l-7 12M2473 7328l-5 5M2511 7328l0 13M2550 7328l-1 25M2588 7328l-10 8M2626 7328l-4 9M2664 7328l-7 13M2702 7328l-10 1M2741 7328l-2 9M2779 7328l0 9M2817 7328l-5 5M2855 7328l2-6M2894 7328l-1 12M2932 7328l20 10M562 7298l-6 9M600 7298l-3 14M639 7298l-7 10M677 7298l-13-2M715 7298l1 9M753 7298l-2 10M792 7298l-4 7M830 7298l-6 6M868 7298l-10 9M906 7298l-5 5M944 7298l-8 10M983 7298l-8 7M1021 7298l-8 11M1059 7298l0 8M1097 7298l-10 7M1135 7298l-5 5M1174 7298l-10 9M1212 7298l-1 7M1250 7298l-9 10M1288 7298l-7 13M1327 7298l-6-10M1365 7298l-10 10M1403 7298l-13 4M1441 7298l-1 9M1479 7298l-2 10M1518 7298l-2 10M1556 7298l-8 10M1938 7298l-8 7M1976 7298l-14 4M2015 7298l-1 11M2053 7298l-5 6M2091 7298l-14 20M2129 7298l-7 0M2167 7298l-10 9M2206 7298l-5 8M2244 7298l-12 2M2282 7298l-11 3M2320 7298l-11 10M2359 7298l-8 1M2397 7298l-1 10M2435 7298l-8 0M2473 7298l-11 10M2511 7298l-5 7M2550 7298l-8 6M2588 7298l-10 2M2626 7298l-5 5M2664 7298l-7 7M2702 7298l-4 5M2741 7298l-10 10M2779 7298l-1 15M2817 7298l-3 6M2855 7298l-12 8M2894 7298l-1 6M2932 7298l-13 8M562 7268l0 9M600 7268l-3-15M639 7268l-3 11M677 7268l-2 8M715 7268l-3 5M753 7268l1 14M792 7268l1 13M830 7268l-5 3M868 7268l12 3M906 7268l-8 7M944 7268l-7 8M983 7268l-22 16M1021 7268l-5 10M1059 7268l-7-1M1097 7268l-6 5M1135 7268l-11-2M1174 7268l0 10M1212 7268l0 12M1250 7268l-5 6M1288 7268l0 8M1327 7268l-4 26M1365 7268l-1 10M1403 7268l-2 16M1441 7268l1 14M1479 7268l1 12M1518 7268l0 10M1556 7268l-1 6M1594 7268l-3 6M1632 7268l-10 10M1862 7268l-9 10M1900 7268l-1 13M1938 7268l-4 7M1976 7268l-7 5M2015 7268l-1-8M2053 7268l-2 9M2091 7268l-4 8M2129 7268l-6 11M2167 7268l-10 10M2206 7268l2-14M2244 7268l-5 6M2282 7268l0 8M2320 7268l-8 7M2359 7268l-1 9M2397 7268l-7 7M2435 7268l-13 9M2473 7268l-4 6M2511 7268l-2 8M2550 7268l-11-2M2588 7268l7-4M2626 7268l1 14M2664 7268l-7 5M2702 7268l1 13M2741 7268l-14 4M2779 7268l-3 6M2817 7268l-10 6M2855 7268l-8 10M2894 7268l-6 8M2932 7268l0 6M562 7238l-5 21M600 7238l-6 5M639 7238l-6 4M677 7238l-8 9M715 7238l-7 9M753 7238l-7 2M792 7238l-8 5M830 7238l-3 13M868 7238l-8 9M906 7238l-9 5M944 7238l0 14M983 7238l-3-7M1021 7238l-1 14M1059 7238l-15 0M1097 7238l-2 12M1135 7238l-8 7M1174 7238l-5 4M1212 7238l0 9M1250 7238l-6 7M1288 7238l-3 14M1327 7238l0-15M1365 7238l-7 7M1403 7238l1 13M1441 7238l1 8M1479 7238l-14 10M1518 7238l-15-2M1556 7238l-7 11M1594 7238l-1 8M1632 7238l-6 9M1671 7238l-5 5M1709 7238l-6 12M1747 7238l-12 8M1785 7238l-5 8M1823 7238l-2 9M1862 7238l-8 4M1900 7238l-9 8M1938 7238l-2 8M1976 7238l-7 7M2015 7238l-2 13M2053 7238l-9-12M2091 7238l1 20M2129 7238l0 7M2167 7238l-3 6M2206 7238l-9 5M2244 7238l0 7M2282 7238l-5 3M2320 7238l-13 3M2359 7238l1 7M2397 7238l-5 8M2435 7238l-3 6M2473 7238l-10 6M2511 7238l1 23M2550 7238l-3 5M2588 7238l-4 7M2626 7238l0 7M2664 7238l-20 6M2702 7238l-3 6M2741 7238l-7 7M2779 7238l-1 8M2817 7238l-2 10M2855 7238l-8 6M2894 7238l-2 13M2932 7238l-10 16M562 7208l-4 4M600 7208l-16 13M639 7208l0 13M677 7208l-4 6M715 7208l-12 3M753 7208l6 4M792 7208l-8 6M830 7208l-11 0M868 7208l0 11M906 7208l-6 6M944 7208l0 14M983 7208l-2 11M1021 7208l-10 6M1059 7208l-4 5M1097 7208l-7 7M1135 7208l-5 6M1174 7208l-9 7M1212 7208l-4 5M1250 7208l-1 11M1288 7208l-7 13M1327 7208l-12-1M1365 7208l-4 7M1403 7208l-8 9M1441 7208l-5 5M1479 7208l-6 6M1518 7208l-16 12M1556 7208l0 14M1594 7208l0 9M1632 7208l-2 8M1671 7208l-12 7M1709 7208l-4 5M1747 7208l-11 3M1785 7208l-1 6M1823 7208l6 1M1862 7208l-1 6M1900 7208l-5 11M1938 7208l-1 6M1976 7208l-5 6M2015 7208l-9 11M2053 7208l-1 15M2091 7208l-6 10M2129 7208l-8 5M2167 7208l-9-1M2206 7208l0 14M2244 7208l-13-1M2282 7208l5-5M2320 7208l-6 10M2359 7208l-8-1M2397 7208l-6 2M2435 7208l-15 0M2473 7208l-11 2M2511 7208l-1 13M2550 7208l0-15M2588 7208l-7 13M2626 7208l8-2M2664 7208l-1 11M2702 7208l0 11M2741 7208l-7 9M2779 7208l-12 1M2817 7208l-6 13M2855 7208l-10 9M2894 7208l-4 7M2932 7208l0 6M562 7178l-1 12M600 7178l0 11M639 7178l-13 12M677 7178l0 11M715 7178l-5 5M753 7178l1 6M792 7178l1 12M830 7178l-11 9M868 7178l9 4M906 7178l-10 9M944 7178l-7-1M983 7178l-5 6M1021 7178l-1 12M1059 7178l1 13M1097 7178l-5 7M1135 7178l0 8M1174 7178l-6 4M1212 7178l-7 11M1250 7178l-2 9M1288 7178l-5 8M1327 7178l-7 12M1365 7178l-5 5M1403 7178l-9 7M1441 7178l-11 0M1479 7178l-8 6M1518 7178l-9 11M1556 7178l-6 7M1594 7178l-7 8M1632 7178l-8 6M1671 7178l0 9M1709 7178l-9 3M1747 7178l-8 10M1785 7178l-8 7M1823 7178l-10 7M1862 7178l-1 6M1900 7178l-7 7M1938 7178l-5 20M1976 7178l-2 12M2015 7178l-4 7M2053 7178l-10 6M2091 7178l-6 7M2129 7178l-11 9M2167 7178l-3 11M2206 7178l-11 8M2244 7178l-13 4M2282 7178l-7 11M2320 7178l-13 1M2359 7178l-11 8M2397 7178l-11 10M2435 7178l-8 12M2473 7178l3-8M2511 7178l-10 6M2550 7178l-7 0M2588 7178l-11 7M2626 7178l8 6M2664 7178l-1 12M2702 7178l-7 6M2741 7178l0 8M2779 7178l0 11M2817 7178l-5 4M2855 7178l-11 7M2894 7178l-6 7M2932 7178l1-10M562 7148l0-14M600 7148l-1 14M639 7148l-12 8M677 7148l-3 7M715 7148l-10 7M753 7148l-6 6M792 7148l-9 6M830 7148l-8 6M868 7148l-6 5M906 7148l1 15M944 7148l14 3M983 7148l-8 8M1021 7148l-7 0M1059 7148l-8 12M1097 7148l-7 9M1135 7148l-7 8M1174 7148l0 7M1212 7148l-10 10M1250 7148l0 13M1288 7148l-11 15M1327 7148l-1 10M1365 7148l2 6M1403 7148l0 10M1441 7148l0 15M1479 7148l-14 2M1518 7148l-2 13M1556 7148l-6 6M1594 7148l-6 7M1632 7148l-8 0M1671 7148l9-4M1709 7148l-11-2M1747 7148l-11 10M1785 7148l-10 11M1823 7148l-5 4M1862 7148l0 13M1900 7148l-2 14M1938 7148l-7 7M1976 7148l-1 14M2015 7148l-9 10M2053 7148l-2 13M2091 7148l-9 6M2129 7148l-6 7M2167 7148l-3 5M2206 7148l-6 4M2244 7148l-3 15M2282 7148l-13 1M2320 7148l-6 4M2359 7148l-4 6M2397 7148l0 14M2435 7148l-5 4M2473 7148l1 10M2511 7148l-11 9M2550 7148l-14 16M2588 7148l-12 7M2626 7148l-12 9M2664 7148l-3 7M2702 7148l1 14M2741 7148l-3 14M2779 7148l-5 3M2817 7148l-4 6M2855 7148l-10 7M2894 7148l3-13M2932 7148l-5 7M562 7118l8 0M600 7118l-6 6M639 7118l1 8M677 7118l-1 11M715 7118l-8 7M753 7118l-5 6M792 7118l-2 11M830 7118l-6 6M868 7118l-7 11M906 7118l-8 5M944 7118l-12 4M983 7118l7-4M1021 7118l0 8M1059 7118l-9 11M1097 7118l-7 7M1135 7118l-8 7M1174 7118l-8 12M1212 7118l0 7M1250 7118l0 8M1288 7118l-4 8M1327 7118l-3 7M1365 7118l10 3M1403 7118l-7 5M1441 7118l-6 7M1479 7118l-6 9M1518 7118l-11 6M1556 7118l-6 4M1594 7118l-9 1M1632 7118l-12 0M1671 7118l1 11M1709 7118l-5 10M1747 7118l7-9M1785 7118l0 9M1823 7118l-3 12M1862 7118l1 9M1900 7118l1 23M1938 7118l0 13M1976 7118l-14 4M2015 7118l-1 13M2053 7118l-4 6M2091 7118l-2 11M2129 7118l0 8M2167 7118l-8 10M2206 7118l-9 6M2244 7118l-3 14M2282 7118l-9 6M2320 7118l-3 12M2359 7118l-13 3M2397 7118l13-8M2435 7118l-11 9M2473 7118l-14-2M2511 7118l-9 8M2550 7118l-6 10M2588 7118l-11 4M2626 7118l-1 10M2664 7118l0 10M2702 7118l-8 7M2741 7118l-11 10M2779 7118l8 10M2817 7118l-6 10M2855 7118l-11 7M2894 7118l-3 6M2932 7118l0 9M562 7087l-7 12M600 7087l-12 7M639 7087l-10 8M677 7087l-10 11M715 7087l-10 2M753 7087l0 13M792 7087l-1 7M830 7087l-8 1M868 7087l-7 9M906 7087l-3 13M944 7087l-5 7M983 7087l-12 8M1021 7087l-5 8M1059 7087l8-7M1097 7087l-9-1M1135 7087l-10 6M1174 7087l-8 8M1212 7087l0 11M1250 7087l-8 5M1288 7087l1 15M1327 7087l-3 6M1365 7087l-2 12M1403 7087l-10 7M1441 7087l0 10M1479 7087l-2 15M1518 7087l-5 6M1556 7087l-6 3M1594 7087l-9 1M1632 7087l-13 8M1671 7087l-6 4M1709 7087l-5 9M1747 7087l4-11M1785 7087l1 15M1823 7087l1 13M1862 7087l-7 7M1900 7087l-6 6M1938 7087l0 11M1976 7087l-9 19M2015 7087l-6 4M2053 7087l-7 2M2091 7087l-7 6M2129 7087l-8 5M2167 7087l0 7M2206 7087l-3 13M2244 7087l-7 8M2282 7087l-2 9M2320 7087l-9 8M2359 7087l-10 6M2397 7087l-10 7M2435 7087l-3 14M2473 7087l-15 1M2511 7087l-2 14M2550 7087l-7 11M2588 7087l-4 6M2626 7087l-5 5M2664 7087l-11 8M2702 7087l-1 7M2741 7087l-6 6M2779 7087l-2 11M2817 7087l-10 0M2855 7087l-12-2M2894 7087l0 7M2932 7087l-10 9M562 7057l0 11M600 7057l-6 5M639 7057l-5 7M677 7057l-4 6M715 7057l-7 7M753 7057l-8 8M792 7057l9-16M830 7057l-8 6M868 7057l-1 13M906 7057l1 15M944 7057l-9 11M983 7057l0 9M1021 7057l-6 10M1059 7057l9-9M1097 7057l-5 7M1135 7057l-5 9M1174 7057l-4 9M1212 7057l-7 7M1250 7057l-3 6M1288 7057l-11 8M1327 7057l-1 8M1365 7057l-8 1M1403 7057l-11 7M1441 7057l-15 16M1479 7057l-7 6M1518 7057l-2-7M1556 7057l-9 6M1594 7057l-1 13M1632 7057l-4 7M1671 7057l-4 5M1709 7057l-2 8M1747 7057l0 15M1785 7057l-2 7M1823 7057l-6 5M1862 7057l-6 11M1900 7057l-8 7M1938 7057l1 11M1976 7057l0 8M2015 7057l-6 1M2053 7057l-9 7M2091 7057l4-10M2129 7057l-1 8M2167 7057l-4 4M2206 7057l-5 8M2244 7057l-1 7M2282 7057l-7 7M2320 7057l-6 9M2359 7057l-9 9M2397 7057l-2 8M2435 7057l7 1M2473 7057l-2 13M2511 7057l2-9M2550 7057l1 11M2588 7057l-9 8M2626 7057l1-8M2664 7057l11-3M2702 7057l-6 12M2741 7057l-1 12M2779 7057l-6 7M2817 7057l-4 5M2855 7057l-8 6M2894 7057l-5 8M2932 7057l-11 9M562 7027l5 13M600 7027l-9 7M639 7027l-7 9M677 7027l1 7M715 7027l-7 9M753 7027l1 11M792 7027l-13 2M830 7027l-11 9M868 7027l0 7M906 7027l-1 7M944 7027l-1 10M983 7027l-4 14M1021 7027l-11 7M1059 7027l-12 9M1097 7027l-6 9M1135 7027l-10 7M1174 7027l0 7M1212 7027l-2 7M1250 7027l-1 7M1288 7027l-12-1M1327 7027l-10 8M1365 7027l-4 8M1403 7027l0 6M1441 7027l-5 5M1479 7027l-3 10M1518 7027l-9 6M1556 7027l-2 8M1594 7027l-7 5M1632 7027l-2 10M1671 7027l-2 10M1709 7027l1 14M1747 7027l-6 8M1785 7027l-4 7M1823 7027l-2 9M1862 7027l-10-1M1900 7027l-16 20M1938 7027l-6 10M1976 7027l-10 7M2015 7027l1 13M2053 7027l-6 11M2091 7027l-8-11M2129 7027l-7 7M2167 7027l-2 15M2206 7027l-6 7M2244 7027l-16 11M2282 7027l-3-12M2320 7027l-2 12M2359 7027l0 10M2397 7027l0 11M2435 7027l-9 0M2473 7027l-1 6M2511 7027l-1 8M2550 7027l-7 9M2588 7027l-9 6M2626 7027l7 2M2664 7027l0 7M2702 7027l-1 13M2741 7027l-7 8M2779 7027l-8 9M2817 7027l-8 9M2855 7027l-9 3M2894 7027l0 9M2932 7027l-11 1M562 6997l-1 13M600 6997l-6 9M639 6997l-12 2M677 6997l0 9M715 6997l-10 10M753 6997l-6-1M792 6997l-7 8M830 6997l-5 5M868 6997l-15 15M906 6997l-5 25M944 6997l1 11M983 6997l-6 5M1021 6997l-6 10M1059 6997l-8 6M1097 6997l-3 5M1135 6997l1 12M1174 6997l-8 5M1212 6997l4-6M1250 6997l-11 8M1288 6997l6 7M1327 6997l-6 11M1365 6997l-8 5M1403 6997l-21-2M1441 6997l-5 6M1479 6997l-12 1M1518 6997l-11 8M1556 6997l-1 11M1594 6997l-2 7M1632 6997l0 12M1671 6997l-14 2M1709 6997l-1 14M1747 6997l-13 21M1785 6997l-4 6M1823 6997l-2 15M1862 6997l-11 17M1900 6997l-6 9M1938 6997l-7 10M1976 6997l-7 4M2015 6997l-1 8M2053 6997l0 15M2091 6997l12-6M2129 6997l0 8M2167 6997l-2 7M2206 6997l-6 3M2244 6997l2 9M2282 6997l-8 8M2320 6997l-2 10M2359 6997l0 8M2397 6997l-6 11M2435 6997l0 6M2473 6997l0 13M2511 6997l-9 11M2550 6997l-6 7M2588 6997l-1 12M2626 6997l-9 10M2664 6997l-1 12M2702 6997l0 6M2741 6997l-15 0M2779 6997l-4 5M2817 6997l0 7M2855 6997l-12-2M2894 6997l-4 6M2932 6997l-10 11M562 6967l-12 2M600 6967l-4 5M639 6967l-9 6M677 6967l-10 9M715 6967l-7 8M753 6967l-14-1M792 6967l-3 13M830 6967l-7 4M868 6967l-6-4M906 6967l-6 10M944 6967l-1 9M983 6967l-8 11M1021 6967l0 8M1059 6967l-8 3M1097 6967l-2 9M1135 6967l-7 4M1174 6967l-6 8M1212 6967l-3 5M1250 6967l-1 12M1288 6967l0 8M1327 6967l-7 9M1365 6967l-2 14M1403 6967l-9-7M1441 6967l-12 8M1479 6967l-4 6M1518 6967l-8 6M1556 6967l-10 8M1594 6967l-7 5M1632 6967l-5 9M1671 6967l-11 7M1709 6967l-2 6M1747 6967l0 13M1785 6967l-2 7M1823 6967l-6 4M1862 6967l-9 0M1900 6967l-12 1M1938 6967l-9 2M1976 6967l-8 5M2015 6967l0 8M2053 6967l-1 8M2091 6967l-7 8M2129 6967l-2 9M2167 6967l-15 14M2206 6967l-5 4M2244 6967l-10 1M2282 6967l-2 13M2320 6967l-10 9M2359 6967l-5 8M2397 6967l-18 13M2435 6967l-1 6M2473 6967l0 11M2511 6967l-8 8M2550 6967l-3 12M2588 6967l-4 5M2626 6967l-11 8M2664 6967l-10 10M2702 6967l-5 9M2741 6967l-10 18M2779 6967l-6 13M2817 6967l-2 11M2855 6967l-5 5M2894 6967l-7 10M2932 6967l-2 12M562 6937l-12 9M600 6937l-5 8M639 6937l0 8M677 6937l-5 9M715 6937l1 13M753 6937l-4-5M792 6937l-2 13M830 6937l-4 8M868 6937l-8 8M906 6937l-4 5M944 6937l-5 6M983 6937l-3 6M1021 6937l-11 4M1059 6937l-12 7M1097 6937l0 9M1135 6937l-3 12M1174 6937l-5 6M1212 6937l0 13M1250 6937l-1 8M1288 6937l-7 6M1327 6937l-3-13M1365 6937l-12-1M1403 6937l0 6M1441 6937l-16 12M1479 6937l-1 13M1518 6937l-11 7M1556 6937l-4 5M1594 6937l0 8M1632 6937l-3 13M1671 6937l-4 6M1709 6937l-5 4M1747 6937l-5 7M1785 6937l-8 9M1823 6937l-9 0M1862 6937l-6 9M1900 6937l-6 1M1938 6937l-6 7M1976 6937l-6 11M2015 6937l-5 6M2053 6937l-3 13M2091 6937l-14-2M2129 6937l-5 5M2167 6937l-1 13M2206 6937l-9 7M2244 6937l-4 5M2282 6937l-4 5M2320 6937l-1 13M2359 6937l0 7M2397 6937l-1 8M2435 6937l-10 7M2473 6937l-1 15M2511 6937l0 13M2550 6937l-4 5M2588 6937l9-3M2626 6937l-6 11M2664 6937l-7 12M2702 6937l7 3M2741 6937l0 12M2779 6937l0 9M2817 6937l0 11M2855 6937l-8 3M2894 6937l-14 2M2932 6937l-1 8M562 6907l-8 6M600 6907l-12 0M639 6907l0 12M677 6907l-22 5M715 6907l0 11M753 6907l12 1M792 6907l-4 6M830 6907l-21 14M868 6907l-9 11M906 6907l1 15M944 6907l-1 14M983 6907l-7 5M1021 6907l-4 7M1059 6907l-7-1M1097 6907l-1 12M1135 6907l-1 10M1174 6907l0 10M1212 6907l-5 8M1250 6907l-6 10M1288 6907l-7 12M1327 6907l-11 7M1365 6907l-5 3M1403 6907l-5 6M1441 6907l-2 13M1479 6907l0 10M1518 6907l1-13M1556 6907l-10 8M1594 6907l-5 7M1632 6907l1 12M1671 6907l-1 13M1709 6907l-7 9M1747 6907l0 7M1785 6907l-9 8M1823 6907l-8 7M1862 6907l0 13M1900 6907l-4 6M1938 6907l-5 6M1976 6907l-9 1M2015 6907l-1 13M2053 6907l-14 3M2091 6907l8 6M2129 6907l-4 7M2167 6907l-5 4M2206 6907l-4 14M2244 6907l-5 5M2282 6907l-4 18M2320 6907l-6 7M2359 6907l-20 17M2397 6907l-7 10M2435 6907l-6 1M2473 6907l1 13M2511 6907l-10 1M2550 6907l-9-1M2588 6907l-10 1M2626 6907l4 18M2664 6907l-11 9M2702 6907l-1 7M2741 6907l9 0M2779 6907l-9 3M2817 6907l9 5M2855 6907l-5 3M2894 6907l-11 1M2932 6907l-2 14M562 6877l-5 10M600 6877l-6 9M639 6877l-7 1M677 6877l0 6M715 6877l-8 9M753 6877l-9 7M792 6877l-4 9M830 6877l-11 7M868 6877l-7 7M906 6877l-6 8M944 6877l-9 11M983 6877l-12 7M1021 6877l-4 5M1059 6877l-11 8M1097 6877l-10 9M1135 6877l0 9M1174 6877l-6 8M1212 6877l-2 11M1250 6877l0 7M1288 6877l-11 1M1327 6877l-11 7M1365 6877l-7 6M1403 6877l0 6M1441 6877l0 7M1479 6877l-6 6M1518 6877l-7 6M1556 6877l-2 11M1594 6877l-6 9M1632 6877l-1 8M1671 6877l-5 5M1709 6877l-8 10M1747 6877l-6 5M1785 6877l-4 7M1823 6877l-9 9M1862 6877l-1 10M1900 6877l-8 7M1938 6877l-6 11M1976 6877l0 12M2015 6877l-7 7M2053 6877l-7 13M2091 6877l-8 6M2129 6877l-1 6M2167 6877l-1 11M2206 6877l0 10M2244 6877l-2 12M2282 6877l-11 7M2320 6877l-5 4M2359 6877l-5 4M2397 6877l-6 6M2435 6877l-6 4M2473 6877l-8 15M2511 6877l-1 15M2550 6877l0 9M2588 6877l5-7M2626 6877l0 11M2664 6877l-7 12M2702 6877l-6 5M2741 6877l-6 9M2779 6877l-1 8M2817 6877l0 7M2855 6877l-5-6M2894 6877l-5 10M2932 6877l1 11M562 6847l-6 12M600 6847l0 8M639 6847l-2 9M677 6847l-11 3M715 6847l-19 17M753 6847l-6 12M792 6847l9-5M830 6847l-4 6M868 6847l-14-1M906 6847l-8 12M944 6847l-3 22M983 6847l-7 10M1021 6847l-1 6M1059 6847l-6 13M1097 6847l-9 10M1135 6847l-6 7M1174 6847l-11 8M1212 6847l-1 14M1250 6847l-7 11M1288 6847l-10 10M1327 6847l-7-1M1365 6847l-8 12M1403 6847l-8 10M1441 6847l1 11M1479 6847l-3 6M1518 6847l0 10M1556 6847l0 11M1594 6847l-7 6M1632 6847l-9 0M1671 6847l-13 2M1709 6847l-3 5M1747 6847l-6 12M1785 6847l-9 10M1823 6847l-3 16M1862 6847l-7 1M1900 6847l-12 3M1938 6847l-5 3M1976 6847l-1 11M2015 6847l-7 11M2053 6847l-11 1M2091 6847l-1 6M2129 6847l-3 6M2167 6847l-1 10M2206 6847l-10 3M2244 6847l-5 5M2282 6847l-14 1M2320 6847l-5 3M2359 6847l1 9M2397 6847l0 11M2435 6847l-4 5M2473 6847l-5 9M2511 6847l-7 4M2550 6847l-1 15M2588 6847l1 9M2626 6847l0 6M2664 6847l-6 6M2702 6847l-7 12M2741 6847l1 15M2779 6847l-9 12M2817 6847l-5 7M2855 6847l-4 6M2894 6847l-11 8M2932 6847l-12 3M562 6817l-6 12M600 6817l-11 1M639 6817l-1 8M677 6817l0 12M715 6817l-3 10M753 6817l-10 8M792 6817l-12 8M830 6817l-8 6M868 6817l-12 2M906 6817l-3 13M944 6817l-6 7M983 6817l-9 6M1021 6817l-5 10M1059 6817l-7 6M1097 6817l0 7M1135 6817l-7 7M1174 6817l-8 7M1212 6817l-2 11M1250 6817l-6 12M1288 6817l1 9M1327 6817l-6 6M1365 6817l11 8M1403 6817l-1 13M1441 6817l-2 9M1479 6817l-1 6M1518 6817l-13 0M1556 6817l-4 5M1594 6817l-8 11M1632 6817l-6 9M1671 6817l-15 13M1709 6817l-10 10M1747 6817l-11 10M1785 6817l-13 4M1823 6817l-8 9M1862 6817l-2 14M1900 6817l-7 7M1938 6817l0 8M1976 6817l-7 10M2015 6817l-9 10M2053 6817l-1 14M2091 6817l-4-6M2129 6817l-1 25M2167 6817l-5 10M2206 6817l-2 16M2244 6817l-5 6M2282 6817l-6 8M2320 6817l-1 9M2359 6817l-9 10M2397 6817l-7 6M2435 6817l-12 2M2473 6817l-4 9M2511 6817l5-5M2550 6817l-6 7M2588 6817l-7 5M2626 6817l-8 10M2664 6817l0 6M2702 6817l0 11M2741 6817l-8 9M2779 6817l-2 13M2817 6817l-13 3M2855 6817l-1 6M2894 6817l-11 7M2932 6817l-4 8M562 6787l-18 13M600 6787l-6 2M639 6787l-4 7M677 6787l0 13M715 6787l-1-7M753 6787l3 9M792 6787l-12 7M830 6787l0 8M868 6787l-1 9M906 6787l-5 5M944 6787l-1 10M983 6787l-9 8M1021 6787l-2 10M1059 6787l-2 11M1097 6787l-9-1M1135 6787l-6 9M1174 6787l-4 7M1212 6787l-2 12M1250 6787l-1 9M1288 6787l-5 9M1327 6787l-8 7M1365 6787l-12 8M1403 6787l-6 9M1441 6787l-11 11M1479 6787l-6 1M1518 6787l-7 10M1556 6787l-7 12M1594 6787l0 7M1632 6787l-7-12M1671 6787l-1 11M1709 6787l-7 5M1747 6787l-6 5M1785 6787l-11 5M1823 6787l-2 10M1862 6787l-1 10M1900 6787l-2 9M1938 6787l-6 9M1976 6787l-9 9M2015 6787l-12 7M2053 6787l-7 8M2091 6787l-11 8M2129 6787l-3 13M2167 6787l-8 8M2206 6787l-8 4M2244 6787l-4 5M2282 6787l-5 7M2320 6787l-5 5M2359 6787l-7 12M2397 6787l-8 7M2435 6787l0 7M2473 6787l-6 4M2511 6787l1 7M2550 6787l-6 4M2588 6787l7 11M2626 6787l-7 6M2664 6787l-11 2M2702 6787l-13 2M2741 6787l-5 5M2779 6787l-7 5M2817 6787l6-13M2855 6787l-22-3M2894 6787l-9 9M2932 6787l-2 12M562 6757l-11 7M600 6757l0 13M639 6757l-1 9M677 6757l-5 8M715 6757l-1 7M753 6757l0 11M792 6757l-12 1M830 6757l-13-2M868 6757l-6 8M906 6757l-5 10M944 6757l-12 8M983 6757l-6 9M1021 6757l-4 4M1059 6757l-2 9M1097 6757l-10 10M1135 6757l-8 8M1174 6757l-7 12M1212 6757l-11 8M1250 6757l-1 8M1288 6757l-13 2M1327 6757l-2 11M1365 6757l-6 11M1403 6757l-12 0M1441 6757l-4 21M1479 6757l-6 4M1518 6757l-4 7M1556 6757l-4 6M1594 6757l-1 15M1632 6757l-2 10M1671 6757l-7 7M1709 6757l-6 10M1747 6757l-11-1M1785 6757l0 11M1823 6757l-14 2M1862 6757l-7-11M1900 6757l-7 8M1938 6757l-14 1M1976 6757l-2 25M2015 6757l8 0M2053 6757l-8 12M2091 6757l-10 7M2129 6757l-2 12M2167 6757l-7 8M2206 6757l-9 6M2244 6757l-23 12M2282 6757l-3 5M2320 6757l-3 13M2359 6757l-7 7M2397 6757l-1 11M2435 6757l-8 7M2473 6757l-11 0M2511 6757l-8 8M2550 6757l-11 8M2588 6757l-9 5M2626 6757l-3 11M2664 6757l0 12M2702 6757l-11 7M2741 6757l-10 10M2779 6757l-6 7M2817 6757l-10 7M2855 6757l-10 8M2894 6757l-13 4M2932 6757l-7 8M562 6727l-11 7M600 6727l0 9M639 6727l-1 12M677 6727l-6 9M715 6727l-3 11M753 6727l-8 9M792 6727l-1 8M830 6727l-5 7M868 6727l-11 9M906 6727l-4 9M944 6727l-11 8M983 6727l10-21M1021 6727l-4 6M1059 6727l-9 1M1097 6727l-6 7M1135 6727l-13 1M1174 6727l-2 11M1212 6727l-8 7M1250 6727l12 4M1288 6727l1 12M1327 6727l-1 9M1365 6727l-8 7M1403 6727l-1 17M1441 6727l5-6M1479 6727l-19 17M1518 6727l0 10M1556 6727l3-6M1594 6727l-2 7M1632 6727l-7-6M1671 6727l-3 7M1709 6727l0 12M1747 6727l-6 11M1785 6727l1 9M1823 6727l-11 8M1862 6727l-5 9M1900 6727l1 15M1938 6727l-2 14M1976 6727l-14 16M2015 6727l-12 2M2053 6727l-7 5M2091 6727l-9-7M2129 6727l-5 4M2167 6727l-8 8M2206 6727l0 8M2244 6727l-11 9M2282 6727l1 11M2320 6727l-16 15M2359 6727l0 8M2397 6727l-1 12M2435 6727l-1 7M2473 6727l-6 8M2511 6727l-5 6M2550 6727l0 8M2588 6727l-8 2M2626 6727l3-9M2664 6727l-2 15M2702 6727l-6 5M2741 6727l0 7M2779 6727l-10 3M2817 6727l-1 23M2855 6727l-6 11M2894 6727l0 15M2932 6727l-6 4M562 6696l-5 5M600 6696l-6 12M639 6696l-5 7M677 6696l-4 6M715 6696l-5 10M753 6696l-5 10M792 6696l-8 5M830 6696l-9 1M868 6696l-10 3M906 6696l-2 14M944 6696l-8 9M983 6696l-10 7M1021 6696l-10-1M1059 6696l-2 13M1097 6696l-10 8M1135 6696l-6 13M1174 6696l-1 6M1212 6696l-2 10M1250 6696l-4 6M1288 6696l-2 8M1327 6696l-2 11M1365 6696l-14 20M1403 6696l-5 11M1441 6696l-9 3M1479 6696l-4 8M1518 6696l-5 3M1556 6696l-6 5M1594 6696l-5 9M1632 6696l-9-7M1671 6696l-3 5M1709 6696l-4-14M1747 6696l-10 3M1785 6696l-11 10M1823 6696l0 11M1862 6696l-3 7M1900 6696l-2 11M1938 6696l-8 0M1976 6696l-7 8M2015 6696l-12 4M2053 6696l-15 0M2091 6696l-12 2M2129 6696l-9 11M2167 6696l-9 0M2206 6696l-9 6M2244 6696l-6 4M2282 6696l8 0M2320 6696l-3 12M2359 6696l-11 7M2397 6696l-1 11M2435 6696l-11 0M2473 6696l-16 12M2511 6696l-11 6M2550 6696l0 13M2588 6696l-4 7M2626 6696l-9-11M2664 6696l-15-1M2702 6696l-10 7M2741 6696l-8 6M2779 6696l-9 6M2817 6696l-8 11M2855 6696l-7 2M2894 6696l-3 12M2932 6696l0 6M562 6666l-10 11M600 6666l-5 8M639 6666l-6 12M677 6666l0 11M715 6666l-3 13M753 6666l-16 17M792 6666l-6 4M830 6666l-9 12M868 6666l-10 13M906 6666l1 14M944 6666l0 7M983 6666l-10 1M1021 6666l-7 12M1059 6666l-13 18M1097 6666l-5 6M1135 6666l-3 12M1174 6666l-1 8M1212 6666l0 11M1250 6666l-12 8M1288 6666l-6 9M1327 6666l-6 8M1365 6666l0 9M1403 6666l-4 6M1441 6666l-14 18M1479 6666l-6 1M1518 6666l-2 13M1556 6666l-5 7M1594 6666l-13 22M1632 6666l-5 3M1671 6666l-7 9M1709 6666l-1 6M1747 6666l-23 5M1785 6666l6 7M1823 6666l-1 7M1862 6666l-7 13M1900 6666l-4 7M1938 6666l-8 5M1976 6666l-2 12M2015 6666l-7 0M2053 6666l-10 6M2091 6666l-1 10M2129 6666l9-5M2167 6666l0 8M2206 6666l-11 7M2244 6666l-1 7M2282 6666l-1 14M2320 6666l-2 12M2359 6666l-12 9M2397 6666l1 10M2435 6666l-7 6M2473 6666l0 8M2511 6666l-2-8M2550 6666l-7 7M2588 6666l-14-3M2626 6666l-9 1M2664 6666l-1 7M2702 6666l-7 5M2741 6666l-4 10M2779 6666l-4 5M2817 6666l-3 10M2855 6666l-12 2M2894 6666l-11-1M2932 6666l-9 0M562 6636l-1 8M600 6636l0 15M639 6636l-9 8M677 6636l-9 11M715 6636l-9 11M753 6636l-8 12M792 6636l-11-1M830 6636l-8 6M868 6636l-5 5M906 6636l-18 3M944 6636l0 9M983 6636l-4 7M1021 6636l-3 13M1059 6636l-10 1M1097 6636l-1 8M1135 6636l-9 10M1174 6636l-14 2M1212 6636l-4 5M1250 6636l-5 10M1288 6636l-9 7M1327 6636l-9 9M1365 6636l-1 12M1403 6636l-7 11M1441 6636l-10 10M1479 6636l-11 11M1518 6636l-25-1M1556 6636l-7 7M1594 6636l-7 11M1632 6636l-3 15M1671 6636l-9 6M1709 6636l-5 6M1747 6636l-7 5M1785 6636l-12 7M1823 6636l-4 6M1862 6636l-1 7M1900 6636l8 5M1938 6636l7-4M1976 6636l-7 5M2015 6636l-11 9M2053 6636l0 12M2091 6636l-6 11M2129 6636l-9 9M2167 6636l-2 11M2206 6636l-5 4M2244 6636l1 13M2282 6636l0 9M2320 6636l-6 10M2359 6636l-5 6M2397 6636l-4 6M2435 6636l-5 6M2473 6636l-3 13M2511 6636l-6 6M2550 6636l-4 7M2588 6636l-8 5M2626 6636l-8 7M2664 6636l-3 6M2702 6636l-3 11M2741 6636l-6 5M2779 6636l-8 13M2817 6636l-6 8M2855 6636l-10 20M2894 6636l-6 4M2932 6636l-6 12M562 6606l-12 8M600 6606l-1 7M639 6606l-6 9M677 6606l-2 12M715 6606l1-8M753 6606l-7 12M792 6606l-2 9M830 6606l-1 14M868 6606l-7 8M906 6606l-9 11M944 6606l-4 9M983 6606l-1 17M1021 6606l-4 7M1059 6606l0 13M1097 6606l-1 7M1135 6606l-14 4M1174 6606l-2-25M1212 6606l-6 4M1250 6606l-2 14M1288 6606l-7-1M1327 6606l-1 7M1365 6606l-2 6M1403 6606l-2 8M1441 6606l-2 10M1479 6606l-5 4M1518 6606l0 10M1556 6606l-10 9M1594 6606l-7 10M1632 6606l8-11M1671 6606l-8 2M1709 6606l-4 6M1747 6606l-1 8M1785 6606l0 12M1823 6606l-2 13M1862 6606l1 13M1900 6606l-1-10M1938 6606l-9 7M1976 6606l-2 8M2015 6606l0 12M2053 6606l-1 17M2091 6606l-1 14M2129 6606l-3 13M2167 6606l-4 7M2206 6606l-1 6M2244 6606l-9 11M2282 6606l-5-6M2320 6606l-5 7M2359 6606l-2 13M2397 6606l-9 8M2435 6606l-7 10M2473 6606l-12-6M2511 6606l-11 9M2550 6606l-5 4M2588 6606l-1 6M2626 6606l-11 10M2664 6606l-13-1M2702 6606l-2 11M2741 6606l-2 12M2779 6606l-14 14M2817 6606l-7 1M2855 6606l-5 7M2894 6606l-15-2M2932 6606l-7 8M562 6576l-8 9M600 6576l-7 8M639 6576l-6 11M677 6576l12 4M715 6576l-6 8M753 6576l-12 1M792 6576l5 4M830 6576l-6 9M868 6576l-2 9M906 6576l-1 11M944 6576l-6 9M983 6576l-2 9M1021 6576l0 7M1059 6576l-8-1M1097 6576l-8 9M1135 6576l-7 13M1174 6576l-8 6M1212 6576l-6 11M1250 6576l-5 3M1288 6576l0 10M1327 6576l-2 7M1365 6576l-1 11M1403 6576l-8 2M1441 6576l-13 2M1479 6576l8-2M1518 6576l-1 12M1556 6576l-9 10M1594 6576l-4 7M1632 6576l-6 5M1671 6576l-10 8M1709 6576l-9 10M1747 6576l-6 6M1785 6576l2-10M1823 6576l-9 9M1862 6576l-11 9M1900 6576l-7 9M1938 6576l-13 8M1976 6576l-1 14M2015 6576l-5 8M2053 6576l-9 10M2091 6576l-3 12M2129 6576l-7 11M2167 6576l-8 10M2206 6576l-1 6M2244 6576l9 3M2282 6576l-6 14M2320 6576l-1 8M2359 6576l-8-9M2397 6576l-12 8M2435 6576l-1 11M2473 6576l-3 6M2511 6576l-6 9M2550 6576l-6 9M2588 6576l-5 5M2626 6576l10 2M2664 6576l-12 8M2702 6576l-4 6M2741 6576l-11-1M2779 6576l-3 14M2817 6576l-12 12M2855 6576l-11-1M2894 6576l-6 9M2932 6576l1 15M562 6546l0 11M600 6546l5-3M639 6546l-5 5M677 6546l-10 1M715 6546l-3 5M753 6546l-9 7M792 6546l-9 9M830 6546l-4 14M868 6546l-7 7M906 6546l-5 4M944 6546l-3-6M983 6546l1 10M1021 6546l-5 6M1059 6546l-9-10M1097 6546l-1 7M1135 6546l-4 20M1174 6546l0 9M1212 6546l-5 8M1250 6546l-4 6M1288 6546l0 7M1327 6546l-14-1M1365 6546l-4 24M1403 6546l-14 1M1441 6546l-12 8M1479 6546l-9 6M1518 6546l-9 7M1556 6546l-1 13M1594 6546l-15 1M1632 6546l6-2M1671 6546l-8 6M1709 6546l0 13M1747 6546l0 14M1785 6546l-7 10M1823 6546l-9 8M1862 6546l-10 4M1900 6546l0 9M1938 6546l-12-2M1976 6546l-5 7M2015 6546l-8 5M2053 6546l0 13M2091 6546l-1 14M2129 6546l-7 10M2167 6546l-12 7M2206 6546l-8-1M2244 6546l-9 11M2282 6546l-3 10M2320 6546l-8-1M2359 6546l-6 5M2397 6546l0 8M2435 6546l-15 14M2473 6546l-6 4M2511 6546l-2 11M2550 6546l-6 10M2588 6546l1 11M2626 6546l0 8M2664 6546l-8 10M2702 6546l-4 6M2741 6546l-1 15M2779 6546l-12 21M2817 6546l-3 12M2855 6546l-1 9M2894 6546l-3 11M2932 6546l0 9" stroke-width="8" opacity="0.6"/>
<path d="M1671 7689l7 8m-6-2l6 2-2-6M1709 7689l25 2m-8 3l8-3-8-5M1747 7689l-21 0m6-3l-6 3 7 3M1785 7689l-16 6m4-4l-4 4 6 0M1823 7689l21-4m-6 4l6-4-7-2M1594 7659l-21-2m7-3l-7 3 6 4M1632 7659l18 13m-8-1l8 1-4-7M1671 7659l6-2M1709 7659l18 1m-6 2l6-2-6-3M1747 7659l-16-2m6-2l-6 2 5 3M1785 7659l-21 6m6-5l-6 5 8 1M1823 7659l34 2m-11 5l11-5-10-6M1862 7659l27 6m-9 2l9-2-7-6M1900 7659l-5 7m1-6l-1 6 5-3M1556 7629l28 5m-10 3l10-3-8-6M1594 7629l-8-2m6-2l-6 2 5 4M1632 7629l-4-7m5 3l-5-3 0 6M1671 7629l22 2m-7 3l7-3-7-4M1709 7629l-30 16m7-10l-7 10 12-1M1747 7629l-15-5m6-1l-6 1 4 4M1785 7629l8 2m-6 1l6-1-4-4M1823 7629l8-8m-2 6l2-6-6 2M1862 7629l-11 0m5-2l-5 2 5 3M1900 7629l-3 5M1938 7629l6-1M1518 7599l6 12m-5-4l5 4 0-6M1556 7599l20 18m-9-2l9 2-4-9M1594 7599l20 20m-9-3l9 3-3-9M1632 7599l8 6m-6-1l6 1-3-5M1671 7599l12 0m-5 3l5-3-5-3M1709 7599l-6-5M1747 7599l5 4M1785 7599l6-2M1823 7599l25-4m-7 5l7-5-8-2M1862 7599l30-12m-8 8l8-8-11-1M1900 7599l12-5m-4 5l4-5-6 0M1938 7599l-12 32m-1-12l1 12 9-8M1976 7599l-1 7M1518 7569l-1 8m-2-6l2 6 3-5M1556 7569l-4-15m4 5l-4-5-1 6M1594 7569l14 25m-8-6l8 6 0-10M1632 7569l-11-5m6 0l-6 0 4 5M1862 7569l5-5M1900 7569l0 7M1938 7569l-2 15m-2-6l2 6 3-5M1976 7569l-9 6m3-5l-3 5 6-1M1479 7539l6-24m2 9l-2-9-6 7M1518 7539l-7-8m6 2l-6-2 2 6M1556 7539l3-33m4 11l-4-11-6 10M1594 7539l-3-11m4 5l-4-5-1 6M1900 7539l4-5M1938 7539l-6 7m1-6l-1 6 5-3M1976 7539l-11 7m3-5l-3 5 6-1M2015 7539l5-23m2 8l-2-8-5 6M1479 7509l-6 31m-3-11l3 11 7-9M1518 7509l22 21m-10-3l10 3-4-10M1556 7509l-3 10m-1-6l1 6 4-4M1594 7509l7 20m-5-5l5 5 1-7M1900 7509l2-9m1 6l-1-6-4 5M1938 7509l-16 26m1-10l-1 10 9-6M1976 7509l5-11m0 6l0-6-5 4M2015 7509l-11 26m-1-10l1 10 7-6M1479 7478l3 26m-5-8l5 8 3-9M1518 7478l0 13m-2-5l2 5 3-5M1556 7478l-1-31m5 10l-5-10-5 10M1594 7478l-3 13m-1-6l1 6 4-5M1900 7478l2-19m2 6l-2-6-4 6M1938 7478l2 17m-3-5l3 5 2-6M1976 7478l2 32m-6-10l6 10 4-11M2015 7478l10 21m-6-5l6 5 0-8M1479 7448l5-18m1 6l-1-6-4 5M1518 7448l9 29m-7-8l7 8 2-11M1556 7448l5-9m0 6l0-6-5 3M1594 7448l-17 25m2-10l-2 10 9-5M1900 7448l-3-32m6 10l-6-10-4 11M1938 7448l-1-11m3 5l-3-5-2 6M1976 7448l-9-10m6 2l-6-2 2 6M2015 7448l-9 18m0-7l0 7 6-4M1479 7418l-3-19m4 5l-4-5-2 6M1518 7418l3-9m1 6l-1-6-4 4M1556 7418l-3 16m-1-6l1 6 4-5M1594 7418l-16 18m2-8l-2 8 8-3M1900 7418l-28-14m11 0l-11 0 7 9M1938 7418l9 7m-6-1l6 1-3-5M1976 7418l6 4M2015 7418l-2-6M1518 7388l-2-9m3 5l-3-5-2 6M1556 7388l-8 4m3-5l-3 5 6 0M1594 7388l21-7m-6 5l6-5-8-1M1632 7388l9-13m-1 6l1-6-5 3M1862 7388l-15-23m8 5l-8-5 1 10M1900 7388l-4-31m6 9l-6-9-4 10M1938 7388l-1 7M1976 7388l-11-32m8 8l-8-8-1 12M1518 7358l10-31m2 11l-2-11-8 8M1556 7358l-7 7m2-6l-2 6 6-2M1594 7358l-9 14m1-6l-1 6 5-3M1632 7358l-22 16m4-9l-4 9 9-2M1671 7358l22-20m-4 10l4-10-10 3M1709 7358l-5 5M1747 7358l20-12m-4 7l4-7-8 1M1785 7358l-11 3m4-4l-4 4 6 1M1823 7358l5 6M1862 7358l29 14m-11 0l11 0-7-9M1900 7358l-3-6M1938 7358l5 4M1976 7358l7 9m-5-3l5 3-1-6M1556 7328l-10 2m5-3l-5 3 6 2M1594 7328l-9 1m5-3l-5 3 6 2M1632 7328l-7 10m1-6l-1 6 5-3M1671 7328l16-15m-3 7l3-7-7 2M1709 7328l-29-4m10-3l-10 3 9 6M1747 7328l-15 1m5-3l-5 3 6 2M1785 7328l-31-9m11-2l-11 2 8 7M1823 7328l-7-9m5 3l-5-3 1 6M1862 7328l-14-8m6 0l-6 0 3 5M1900 7328l-7-4m6 0l-6 0 3 5M1938 7328l3 33m-6-10l6 10 4-11M1594 7298l-6 3M1632 7298l-32 10m8-8l-8 8 11 2M1671 7298l-31-1m10-4l-10 4 10 5M1709 7298l-11 12m2-6l-2 6 6-2M1747 7298l25 21m-11-3l11 3-5-10M1785 7298l6-2M1823 7298l-20-3m7-2l-7 2 6 4M1862 7298l-6-8m5 3l-5-3 1 6M1900 7298l28 10m-10 1l10-1-7-8M1671 7268l33-2m-10 6l10-6-11-4M1709 7268l10-2m-5 3l5-3-6-2M1747 7268l11-5m-4 5l4-5-6 0M1785 7268l18-2m-5 3l5-3-6-2M1823 7268l12-3m-5 4l5-4-6-1" stroke-width="6" opacity="0.7"/>
<path d="M4130 8411l37 14m-14 1l14-1-9-10M4207 8411l-5 36m-4-12l4 12 7-10M4283 8411l-4 30m-4-10l4 10 6-9M4360 8411l-20 17m4-8l-4 8 9-2M4436 8411l-3 39m-5-13l5 13 7-12M4513 8411l-11 13m2-6l-2 6 6-2M4589 8411l-25 2m8-4l-8 4 8 3M4666 8411l-13 17m1-7l-1 7 7-4M4742 8411l-13-25m8 6l-8-6 0 10M4818 8411l-6 37m-4-13l4 13 8-11M4895 8411l-1 34m-5-11l5 11 6-11M4971 8411l-31 24m6-12l-6 12 13-3M5048 8411l-2 27m-3-9l3 9 5-8M5124 8411l-28 5m8-6l-8 6 9 3M5201 8411l-27 27m4-12l-4 12 12-4M5277 8411l-18 28m1-12l-1 12 10-6M5354 8411l-27 18m6-10l-6 10 11-1M5430 8411l-32 20m7-11l-7 11 13-1M5507 8411l-4 28m-3-9l3 9 5-8M5583 8411l-16 17m2-8l-2 8 8-3M5660 8411l-25 18m5-10l-5 10 11-2M5736 8411l-53 43m10-22l-10 22 23-5M5813 8411l-17 27m1-11l-1 11 9-6M5889 8411l-4 18m-2-6l2 6 4-5M5965 8411l-21 3m6-4l-6 4 7 2M6042 8411l-9 14m1-6l-1 6 5-3M6118 8411l18 3m-6 2l6-2-5-4M6195 8411l-13 10m3-5l-3 5 6-1M6271 8411l-2 37m-5-12l5 12 6-11M6348 8411l-18 36m0-14l0 14 11-9M6424 8411l1 31m-5-9l5 9 4-10M6501 8411l-13 10m3-5l-3 5 6-1M4130 8351l-8 37m-3-13l3 13 8-10M4207 8351l-20 18m4-9l-4 9 9-3M4283 8351l-15 10m3-6l-3 6 6-1M4360 8351l-20 22m3-10l-3 10 10-4M4436 8351l-28 27m5-13l-5 13 13-4M4513 8351l1 30m-5-9l5 9 4-9M4589 8351l-8 15m0-6l0 6 5-4M4666 8351l26-11m-6 8l6-8-10 0M4742 8351l-12 18m1-7l-1 7 7-4M4818 8351l-31-1m10-4l-10 4 10 5M4895 8351l4 47m-8-14l8 14 6-15M4971 8351l-20 16m4-8l-4 8 9-2M5048 8351l-10 15m1-6l-1 6 6-3M5124 8351l-17 23m2-10l-2 10 9-5M5201 8351l21-5m-6 5l6-5-7-2M5277 8351l-5 47m-5-16l5 16 9-14M5354 8351l1 26m-4-8l4 8 4-8M5430 8351l-24 26m4-12l-4 12 12-4M5507 8351l-26 16m6-9l-6 9 11-1M5583 8351l1 16m-3-5l3 5 2-6M5660 8351l3 36m-6-11l6 11 5-12M5736 8351l-14 22m1-9l-1 9 8-5M5813 8351l-11 14m1-6l-1 6 6-3M5889 8351l0 18m-3-6l3 6 3-6M5965 8351l-20 16m4-8l-4 8 9-2M6042 8351l-9 17m0-7l0 7 5-4M6118 8351l-20-53m14 14l-14-14-2 20M6195 8351l-5 31m-3-11l3 11 6-9M6271 8351l-20 15m4-8l-4 8 8-2M6348 8351l-24 15m5-8l-5 8 10-1M6424 8351l-38 7m11-8l-11 8 13 3M6501 8351l-18 21m2-9l-2 9 9-4M4130 8291l-7 37m-3-13l3 13 8-11M4207 8291l15 20m-8-4l8 4-2-8M4283 8291l-15 10m3-5l-3 5 6-1M4360 8291l-18 26m2-11l-2 11 10-5M4436 8291l-2 32m-4-10l4 10 6-10M4513 8291l-5 18m-1-6l1 6 4-5M4589 8291l-3 18m-2-6l2 6 4-5M4666 8291l-29 24m5-12l-5 12 13-3M4742 8291l-4 40m-5-13l5 13 7-12M4818 8291l-19 19m3-9l-3 9 9-3M4895 8291l-2 20m-3-7l3 7 4-6M4971 8291l-9-32m8 9l-8-9-2 11M5048 8291l-30 25m6-12l-6 12 13-3M5124 8291l-33 8m9-8l-9 8 12 3M5201 8291l-6 25m-2-9l2 9 6-7M5277 8291l-12 10m2-5l-2 5 6-1M5354 8291l-30 11m8-8l-8 8 11 1M5430 8291l-8 33m-3-11l3 11 7-9M5507 8291l-18-1m6-2l-6 2 6 3M5583 8291l1 34m-5-11l5 11 5-11M5660 8291l-1 19m-3-6l3 6 3-6M5736 8291l-16 25m1-10l-1 10 9-5M5813 8291l-12 13m2-6l-2 6 6-2M5889 8291l-3 32m-4-10l4 10 6-10M5965 8291l-29 32m4-14l-4 14 14-6M6042 8291l0 18m-3-6l3 6 3-6M6118 8291l-26 23m5-11l-5 11 12-3M6195 8291l-19 32m1-13l-1 13 11-7M6271 8291l-12 25m0-10l0 10 7-6M6348 8291l-27 28m4-13l-4 13 13-5M6424 8291l-26 5m7-6l-7 6 9 2M6501 8291l-6 27m-2-9l2 9 6-8M4130 8230l-26 24m5-12l-5 12 12-4M4207 8230l-26 18m5-10l-5 10 11-2M4283 8230l-22 23m3-10l-3 10 10-4M4360 8230l-1 35m-5-11l5 11 6-11M4436 8230l-15 22m1-9l-1 9 8-5M4513 8230l-18 3m5-4l-5 4 6 2M4589 8230l-16 18m2-8l-2 8 8-3M4666 8230l-22 15m5-8l-5 8 9-1M4742 8230l-6 26m-2-9l2 9 6-7M4818 8230l-10 16m1-6l-1 6 5-3M4895 8230l-20 15m4-8l-4 8 9-2M4971 8230l-2 35m-5-11l5 11 6-11M5048 8230l-24-3m8-3l-8 3 7 5M5124 8230l-2-33m5 10l-5-10-4 10M5201 8230l1-37m5 12l-5-12-6 11M5277 8230l-3 23m-2-8l2 8 5-7M5354 8230l-22 13m5-8l-5 8 9-1M5430 8230l-27 7m7-6l-7 6 9 2M5507 8230l-12 15m1-7l-1 7 6-3M5583 8230l-38-2m12-5l-12 5 12 6M5660 8230l-24 17m5-9l-5 9 10-2M5736 8230l1 23m-4-7l4 7 3-7M5813 8230l-19 33m1-13l-1 13 11-8M5889 8230l-12 18m1-8l-1 8 7-4M5965 8230l-16 15m3-7l-3 7 7-2M6042 8230l2 25m-4-8l4 8 3-8M6118 8230l-29 22m6-11l-6 11 12-3M6195 8230l-28 5m8-6l-8 6 10 3M6271 8230l-27 15m6-9l-6 9 11-1M6348 8230l-1 27m-4-9l4 9 4-9M6424 8230l-3 30m-4-10l4 10 6-9M6501 8230l-39 4m12-7l-12 7 13 5M4130 8170l-14 25m1-10l-1 10 8-6M4207 8170l-8-17m5 4l-5-4 0 7M4283 8170l-26 19m5-10l-5 10 11-2M4360 8170l-10 16m1-6l-1 6 5-4M4436 8170l-27 17m6-9l-6 9 11-1M4513 8170l-17 4m5-4l-5 4 6 1M4589 8170l-20 22m3-10l-3 10 10-4M4666 8170l9-19m0 7l0-7-6 5M4742 8170l-31 9m8-8l-8 8 11 2M4818 8170l-9 17m0-7l0 7 5-4M4895 8170l-11 14m1-6l-1 6 5-3M4971 8170l-7-36m8 10l-8-10-3 12M5048 8170l-18 33m1-13l-1 13 11-8M5124 8170l-19 24m2-11l-2 11 10-5M5201 8170l-17 20m2-9l-2 9 8-4M5277 8170l-3 35m-5-12l5 12 6-11M5354 8170l4 34m-7-10l7 10 4-11M5430 8170l3 33m-6-10l6 10 4-11M5507 8170l-15 15m2-7l-2 7 7-2M5583 8170l-5 31m-3-10l3 10 6-9M5660 8170l-3 17m-1-6l1 6 4-5M5736 8170l-16 26m1-11l-1 11 9-6M5813 8170l1 31m-5-10l5 10 5-10M5889 8170l-39 4m12-7l-12 7 13 5M5965 8170l-21 0m7-3l-7 3 7 3M6042 8170l-2 38m-5-12l5 12 6-12M6118 8170l-25 22m4-11l-4 11 11-3M6195 8170l-28 18m6-10l-6 10 11-1M6271 8170l-1 24m-3-8l3 8 4-7M6348 8170l-30 23m6-12l-6 12 13-3M6424 8170l-23 26m3-12l-3 12 11-5M6501 8170l-14 23m1-10l-1 10 8-5M4130 8110l-15 15m2-7l-2 7 7-2M4207 8110l-4 20m-2-7l2 7 4-6M4283 8110l-7 30m-2-10l2 10 7-8M4360 8110l-19 14m4-7l-4 7 8-1M4436 8110l-16 4m5-4l-5 4 6 1M4513 8110l-18 15m3-8l-3 8 8-2M4589 8110l-39 28m8-15l-8 15 16-3M4666 8110l-15 26m1-10l-1 10 9-6M4742 8110l-18 18m3-8l-3 8 8-3M4818 8110l-25 19m5-10l-5 10 11-2M4895 8110l-17 10m4-6l-4 6 7-1M4971 8110l-5 20m-2-7l2 7 5-6M5048 8110l0 33m-5-10l5 10 5-10M5124 8110l1 17m-3-5l3 5 2-6M5201 8110l-22 13m5-7l-5 7 9-1M5277 8110l-15 23m1-10l-1 10 8-5M5354 8110l-27 9m7-7l-7 7 10 1M5430 8110l-25 21m5-10l-5 10 11-3M5507 8110l-19 21m3-9l-3 9 9-4M5583 8110l-5 34m-3-12l3 12 7-10M5660 8110l-14 16m2-7l-2 7 7-3M5736 8110l-13 14m2-6l-2 6 6-2M5813 8110l25 19m-11-2l11 2-5-10M5889 8110l-1 18m-2-6l2 6 3-6M5965 8110l-2 23m-3-8l3 8 4-7M6042 8110l-21 13m4-7l-4 7 9-1M6118 8110l-1 19m-3-6l3 6 3-6M6195 8110l-31-4m10-4l-10 4 9 6M6271 8110l-24 31m3-13l-3 13 12-6M6348 8110l-4 16m-1-6l1 6 4-5M6424 8110l-25 26m4-12l-4 12 12-4M6501 8110l-21 16m4-8l-4 8 9-2M4130 8050l-4 17m-1-6l1 6 4-5M4207 8050l-48 32m10-17l-10 17 20-3M4283 8050l-5 21m-2-7l2 7 5-6M4360 8050l-27 26m5-12l-5 12 13-4M4436 8050l-9 20m0-8l0 8 6-5M4513 8050l-37 34m7-16l-7 16 17-5M4589 8050l-2 28m-4-9l4 9 5-9M4666 8050l-13 14m2-6l-2 6 6-3M4742 8050l-4 39m-5-13l5 13 7-12M4818 8050l8-25m1 9l-1-9-6 7M4895 8050l1 20m-3-6l3 6 3-6M4971 8050l-4 16m-1-6l1 6 4-5M5048 8050l-19 23m3-10l-3 10 10-4M5124 8050l-14 22m1-9l-1 9 8-5M5201 8050l-70 2m22-11l-22 11 22 10M5277 8050l-23-4m8-2l-8 2 7 5M5354 8050l0 30m-5-9l5 9 5-9M5430 8050l-25 3m7-5l-7 5 8 3M5507 8050l-2 29m-4-10l4 10 5-9M5583 8050l-23 25m3-11l-3 11 11-4M5660 8050l-8 33m-2-12l2 12 8-9M5736 8050l-2 30m-4-10l4 10 5-9M5813 8050l-28 27m5-13l-5 13 13-4M5889 8050l-26 20m5-10l-5 10 11-2M5965 8050l-3 19m-2-7l2 7 4-6M6042 8050l10-26m1 10l-1-10-7 7M6118 8050l-2 38m-5-12l5 12 6-12M6195 8050l-35 0m11-5l-11 5 11 5M6271 8050l-17 19m2-9l-2 9 8-4M6348 8050l-28 27m5-13l-5 13 13-4M6424 8050l-20 4m6-4l-6 4 7 2M6501 8050l-26 16m6-9l-6 9 11-1M4130 7990l-8 16m0-6l0 6 5-4M4207 7990l-20 27m2-11l-2 11 10-5M4283 7990l27-27m-4 12l4-12-12 4M4360 7990l-22 21m4-10l-4 10 10-3M4436 7990l-23 1m7-4l-7 4 8 3M4513 7990l-18 20m3-9l-3 9 9-3M4589 7990l-22-4m7-2l-7 2 6 4M4666 7990l-22-1m7-3l-7 3 7 4M4742 7990l-25 17m5-9l-5 9 10-2M4818 7990l-18 22m2-10l-2 10 9-4M4895 7990l-13 21m1-9l-1 9 7-5M4971 7990l-38 1m12-6l-12 6 12 5M5048 7990l-26 22m5-11l-5 11 12-3M5124 7990l0 18m-3-6l3 6 3-6M5201 7990l-24 9m6-6l-6 6 9 1M5277 7990l-2 23m-3-8l3 8 4-7M5354 7990l-31 23m6-12l-6 12 13-3M5430 7990l25 10m-9 1l9-1-6-7M5507 7990l-22 17m4-9l-4 9 9-2M5583 7990l-15 32m0-12l0 12 10-8M5660 7990l-10 18m0-7l0 7 6-4M5736 7990l-12 24m0-9l0 9 7-6M5813 7990l-19 29m2-12l-2 12 10-6M5889 7990l-31 0m10-5l-10 5 10 5M5965 7990l19 4m-7 2l7-2-6-4M6042 7990l-2 18m-2-6l2 6 3-6M6118 7990l-30-26m13 4l-13-4 5 13M6195 7990l1 39m-6-12l6 12 6-12M6271 7990l-12 11m2-6l-2 6 6-2M6348 7990l1 37m-6-11l6 11 5-12M6424 7990l-3 39m-5-13l5 13 7-12M6501 7990l-4 17m-1-6l1 6 4-5M4130 7930l-35 6m10-7l-10 7 12 4M4207 7930l-14 14m2-7l-2 7 7-2M4283 7930l-24 15m5-9l-5 9 10-1M4360 7930l-21 28m2-12l-2 12 11-6M4436 7930l-13 16m2-7l-2 7 7-3M4513 7930l-30 19m7-11l-7 11 13-1M4589 7930l-21 13m5-7l-5 7 8-1M4666 7930l-1 17m-2-6l2 6 3-5M4742 7930l-19 28m2-12l-2 12 10-6M4818 7930l-31 22m6-12l-6 12 13-2M4895 7930l-3 20m-2-7l2 7 4-6M4971 7930l-20 21m3-10l-3 10 9-4M5048 7930l-13 24m0-9l0 9 8-5M5124 7930l-17 17m3-8l-3 8 8-3M5201 7930l-1 22m-3-7l3 7 4-7M5277 7930l18-8m-4 5l4-5-7 0M5354 7930l-10 18m0-7l0 7 6-4M5430 7930l-17 20m2-9l-2 9 8-4M5507 7930l-15 33m0-13l0 13 10-8M5583 7930l-13 22m1-9l-1 9 7-5M5660 7930l-12 19m1-8l-1 8 7-4M5736 7930l-23 27m3-12l-3 12 11-5M5813 7930l-9 35m-2-12l2 12 8-10M5889 7930l-25 25m4-12l-4 12 12-4M5965 7930l-25 48m1-19l-1 19 15-11M6042 7930l-38 4m11-7l-11 7 13 4M6118 7930l-3 36m-5-12l5 12 6-11M6195 7930l-16 12m3-6l-3 6 7-1M6271 7930l-34 20m8-12l-8 12 14-1M6348 7930l-27 7m7-6l-7 6 10 2M6424 7930l-24 26m4-12l-4 12 12-4M6501 7930l-46 35m9-18l-9 18 20-4M4130 7870l-29 2m9-5l-9 5 10 4M4207 7870l-8 39m-4-14l4 14 8-11M4283 7870l-8 38m-3-13l3 13 8-11M4360 7870l-22 33m2-14l-2 14 12-7M4436 7870l-47 30m10-17l-10 17 19-2M4513 7870l-21 28m2-12l-2 12 11-6M4589 7870l-3 39m-5-13l5 13 7-12M4666 7870l-15 9m3-5l-3 5 6-1M4742 7870l-31 10m8-8l-8 8 11 1M4818 7870l-16 20m2-9l-2 9 8-4M4895 7870l0 19m-3-6l3 6 3-6M4971 7870l-1 20m-3-7l3 7 3-6M5048 7870l3 39m-7-12l7 12 5-13M5124 7870l-7 39m-4-13l4 13 8-11M5201 7870l-29-25m13 3l-13-3 5 12M5277 7870l-10 16m1-6l-1 6 5-3M5354 7870l-14 64m-5-22l5 22 14-18M5430 7870l-7 15m0-6l0 6 5-4M5507 7870l-37 11m10-9l-10 9 13 2M5583 7870l-2 32m-4-10l4 10 5-10M5660 7870l-8-36m8 10l-8-10-3 13M5736 7870l-9 14m1-6l-1 6 5-3M5813 7870l-3 21m-2-7l2 7 4-6M5889 7870l-32 20m7-11l-7 11 13-1M5965 7870l-24 21m4-10l-4 10 11-3M6042 7870l-17 13m3-7l-3 7 7-1M6118 7870l-10 16m1-6l-1 6 5-4M6195 7870l-18 14m4-7l-4 7 8-1M6271 7870l-25 19m5-10l-5 10 11-2M6348 7870l-23 32m2-14l-2 14 12-7M6424 7870l-3 27m-3-9l3 9 5-8M6501 7870l-10 38m-3-13l3 13 9-10M4130 7809l-22 23m3-10l-3 10 10-4M4207 7809l1 22m-4-7l4 7 3-7M4283 7809l-15 26m1-11l-1 11 9-6M4360 7809l-2 25m-3-8l3 8 4-8M4436 7809l-12 21m1-8l-1 8 7-5M4513 7809l-12 25m0-10l0 10 7-6M4589 7809l-10 14m1-6l-1 6 5-3M4666 7809l1 38m-6-12l6 12 6-12M4742 7809l-8 15m0-6l0 6 5-3M4818 7809l-7 29m-2-10l2 10 7-8M4895 7809l-28 19m6-10l-6 10 12-2M4971 7809l-27 23m5-11l-5 11 12-3M5048 7809l-23 18m4-9l-4 9 10-2M5124 7809l-27 22m5-11l-5 11 12-3M5201 7809l-14 29m0-11l0 11 9-7M5277 7809l-31 6m9-7l-9 7 11 3M5354 7809l-30-5m10-3l-10 3 9 6M5430 7809l-20 13m4-7l-4 7 8-1M5507 7809l-33 9m9-8l-9 8 12 2M5583 7809l-26-3m9-3l-9 3 8 5M5660 7809l-5 22m-2-8l2 8 5-6M5736 7809l-25 17m5-9l-5 9 10-2M5813 7809l-1 28m-4-9l4 9 4-9M5889 7809l-21 17m4-9l-4 9 9-2M5965 7809l-33-2m11-4l-11 4 10 6M6042 7809l-30 10m8-8l-8 8 11 1M6118 7809l-14 25m1-10l-1 10 8-6M6195 7809l-34-6m11-3l-11 3 10 7M6271 7809l-36 10m10-8l-10 8 13 2M6348 7809l0 37m-6-12l6 12 6-12M6424 7809l-20 16m4-8l-4 8 9-2M6501 7809l1 19m-3-6l3 6 3-6M4130 7749l-1 36m-5-11l5 11 6-11M4207 7749l-12 16m1-7l-1 7 6-3M4283 7749l-5 26m-2-9l2 9 6-7M4360 7749l-12 19m1-8l-1 8 7-4M4436 7749l8 35m-8-10l8 10 3-12M4513 7749l-24 15m5-8l-5 8 10-1M4589 7749l-12 12m2-6l-2 6 6-2M4666 7749l-27 8m7-7l-7 7 10 2M4742 7749l-19 31m1-13l-1 13 11-7M4818 7749l1 19m-3-6l3 6 3-6M4895 7749l-3 24m-3-8l3 8 5-7M4971 7749l-27 16m6-9l-6 9 11-1M5048 7749l-17 26m2-11l-2 11 9-6M5124 7749l3 39m-7-12l7 12 5-13M5201 7749l0 21m-3-7l3 7 3-7M5277 7749l-25 24m4-11l-4 11 11-4M5354 7749l-18 24m2-10l-2 10 9-5M5430 7749l-18 13m4-7l-4 7 8-1M5507 7749l-3 33m-4-11l4 11 6-10M5583 7749l-20 14m4-7l-4 7 8-1M5660 7749l-28 18m6-10l-6 10 12-1M5736 7749l-30 6m9-7l-9 7 10 3M5813 7749l-17 35m0-14l0 14 11-9M5889 7749l-27 17m6-9l-6 9 11-1M5965 7749l-32 20m7-11l-7 11 13-2M6042 7749l0 19m-3-6l3 6 3-6M6118 7749l-24 26m4-12l-4 12 12-5M6195 7749l-24 25m4-11l-4 11 11-4M6271 7749l-2 30m-4-10l4 10 5-9M6348 7749l-25-4m8-3l-8 3 7 5M6424 7749l-4 25m-3-9l3 9 5-7M6501 7749l-21 15m4-8l-4 8 9-2M4130 7689l-36 13m9-9l-9 9 13 1M4207 7689l-6 28m-2-10l2 10 6-8M4283 7689l-29 21m6-11l-6 11 12-2M4360 7689l-16-3m6-2l-6 2 5 3M4436 7689l-19 29m2-12l-2 12 10-6M4513 7689l-22 28m3-12l-3 12 11-5M4589 7689l-38 14m10-10l-10 10 14 1M4666 7689l-2 20m-2-7l2 7 4-6M4742 7689l-59 2m18-10l-18 10 19 8M4818 7689l-9 16m0-6l0 6 5-4M4895 7689l22-5m-6 5l6-5-8-2M4971 7689l-12 23m0-9l0 9 7-5M5048 7689l-4 19m-2-7l2 7 4-5M5124 7689l-33-4m11-4l-11 4 10 6M5507 7689l3 38m-7-12l7 12 5-12M5583 7689l-11 17m1-7l-1 7 6-4M5660 7689l-18 11m4-6l-4 6 7-1M5736 7689l-1 28m-4-9l4 9 5-9M5813 7689l-21 30m2-13l-2 13 11-6M5889 7689l-5 27m-3-9l3 9 6-8M5965 7689l-17 35m0-14l0 14 11-8M6042 7689l-24 16m5-9l-5 9 10-1M6118 7689l-14 25m1-10l-1 10 8-6M6195 7689l-9 56m-6-19l6 19 11-16M6271 7689l-5 34m-4-12l4 12 7-10M6348 7689l-32-18m13 1l-13-1 7 11M6424 7689l-29 0m9-4l-9 4 9 4M6501 7689l0 23m-4-7l4 7 4-7M4130 7629l-3 16m-2-6l2 6 3-5M4207 7629l-48 12m13-11l-13 11 17 4M4283 7629l-18 23m2-10l-2 10 9-4M4360 7629l-34 6m10-7l-10 7 12 3M4436 7629l-4 31m-4-10l4 10 6-9M4513 7629l-28 22m6-11l-6 11 12-3M4589 7629l-1 20m-3-7l3 7 4-6M4666 7629l-10 15m1-6l-1 6 5-3M4742 7629l-20 26m2-11l-2 11 10-5M4818 7629l-33 1m10-5l-10 5 10 5M4895 7629l-1 19m-3-6l3 6 3-6M4971 7629l-1 21m-3-7l3 7 3-7M5048 7629l-2 20m-3-7l3 7 4-6M5583 7629l-13 13m2-6l-2 6 6-2M5660 7629l-19 23m2-10l-2 10 10-4M5736 7629l-4 25m-2-9l2 9 5-7M5813 7629l-5 27m-2-9l2 9 6-8M5889 7629l-2 39m-5-13l5 13 7-12M5965 7629l-4 30m-3-10l3 10 6-9M6042 7629l-26 20m5-10l-5 10 11-2M6118 7629l-33-6m11-3l-11 3 10 7M6195 7629l-36 57m3-24l-3 24 20-13M6271 7629l-21 15m4-8l-4 8 9-2M6348 7629l2 25m-4-8l4 8 3-8M6424 7629l0 20m-3-6l3 6 3-6M6501 7629l-14 12m3-6l-3 6 6-2M4130 7569l-8 15m0-6l0 6 5-4M4207 7569l-2 62m-9-20l9 20 10-19M4283 7569l-23 24m4-11l-4 11 11-4M4360 7569l-1 22m-3-7l3 7 4-7M4436 7569l-4 46m-6-15l6 15 8-14M4513 7569l-22 28m2-12l-2 12 11-6M4589 7569l1 30m-5-9l5 9 4-10M4666 7569l-17 26m1-11l-1 11 9-6M4742 7569l-4 39m-5-13l5 13 7-12M4818 7569l-1 27m-4-9l4 9 4-9M4895 7569l-19 18m3-9l-3 9 9-3M4971 7569l-37 7m11-8l-11 8 13 3M5277 7569l-3 4M5354 7569l3 4M5660 7569l-8 15m0-6l0 6 5-4M5736 7569l-22 15m5-8l-5 8 9-1M5813 7569l-26 22m5-11l-5 11 12-3M5889 7569l-29 18m6-10l-6 10 12-1M5965 7569l-6 17m-1-6l1 6 5-4M6042 7569l-14 15m2-7l-2 7 7-3M6118 7569l-1 32m-4-10l4 10 5-10M6195 7569l-20 20m3-9l-3 9 9-3M6271 7569l-16 24m1-10l-1 10 9-5M6348 7569l-20 25m3-11l-3 11 10-5M6424 7569l-25 27m4-12l-4 12 12-5M6501 7569l-1 26m-4-8l4 8 4-8M4130 7509l-11 21m0-8l0 8 7-5M4207 7509l-32 3m9-6l-9 6 10 4M4283 7509l-30-11m11-1l-11 1 8 8M4360 7509l-28-2m9-4l-9 4 9 5M4436 7509l-30 53m1-21l-1 21 18-12M4513 7509l-12 24m0-9l0 9 7-6M4589 7509l-7 28m-2-10l2 10 7-8M4666 7509l-3 34m-4-11l4 11 6-10M4742 7509l-28 21m6-11l-6 11 12-2M4818 7509l6 28m-6-8l6 8 3-10M4895 7509l2 50m-8-15l8 15 7-16M4971 7509l-5 21m-2-8l2 8 5-6M5201 7509l-3 4M5277 7509l3 1M5354 7509l-3-2M5430 7509l-4 1M5660 7509l0 27m-4-8l4 8 4-8M5736 7509l-17 17m3-8l-3 8 8-3M5813 7509l-20 12m5-7l-5 7 8-1M5889 7509l-23 24m4-11l-4 11 11-4M5965 7509l-20 0m6-3l-6 3 6 3M6042 7509l2 26m-4-8l4 8 3-8M6118 7509l-3 40m-5-13l5 13 7-12M6195 7509l-5 29m-3-10l3 10 6-8M6271 7509l-19 12m4-7l-4 7 8-1M6348 7509l-8 36m-3-13l3 13 8-10M6424 7509l-8 32m-2-11l2 11 7-9M6501 7509l-21 33m2-14l-2 14 12-7M4130 7448l-4 27m-3-9l3 9 5-8M4207 7448l-17 35m0-14l0 14 11-9M4283 7448l-25 20m5-10l-5 10 11-3M4360 7448l-32 20m7-11l-7 11 13-1M4436 7448l-28 19m6-10l-6 10 12-2M4513 7448l1 20m-3-6l3 6 3-6M4589 7448l4-37m4 12l-4-12-7 11M4666 7448l-15 27m1-11l-1 11 9-6M4742 7448l-26 55m0-21l0 21 17-13M4818 7448l-20 13m4-7l-4 7 8-1M4895 7448l-6 37m-4-12l4 12 7-11M4971 7448l-2 21m-2-7l2 7 4-6M5201 7448l4 2M5277 7448l4-4M5354 7448l-3 2M5430 7448l1 3M5660 7448l-14 23m1-9l-1 9 8-5M5736 7448l-6 32m-3-11l3 11 7-9M5813 7448l-3 52m-7-17l7 17 9-16M5889 7448l-33 3m10-6l-10 6 11 4M5965 7448l-1 17m-2-6l2 6 3-5M6042 7448l0 25m-4-8l4 8 4-8M6118 7448l-16 20m2-9l-2 9 8-4M6195 7448l1 28m-5-9l5 9 4-9M6271 7448l-8 33m-2-12l2 12 8-9M6348 7448l-25-4m8-2l-8 2 7 5M6424 7448l1 19m-3-6l3 6 3-6M6501 7448l-35 1m11-6l-11 6 11 5M4130 7388l-16 23m1-10l-1 10 8-5M4207 7388l15 36m-10-9l10 9 1-14M4283 7388l0 34m-5-11l5 11 5-11M4360 7388l-15 62m-5-22l5 22 14-17M4436 7388l-15 18m2-8l-2 8 8-4M4513 7388l-39 0m12-6l-12 6 12 6M4589 7388l-27 25m5-12l-5 12 12-4M4666 7388l-12 16m1-7l-1 7 6-3M4742 7388l-17 21m2-9l-2 9 9-4M4818 7388l-23 17m5-9l-5 9 10-2M4895 7388l-2 17m-2-6l2 6 3-5M4971 7388l-14 12m3-6l-3 6 6-2M5277 7388l4 2M5354 7388l0 5M5660 7388l-21 34m2-14l-2 14 12-7M5736 7388l-16 29m1-12l-1 12 10-7M5813 7388l-29 27m5-13l-5 13 13-4M5889 7388l-36 26m7-14l-7 14 15-3M5965 7388l12 37m-9-10l9 10 2-13M6042 7388l-13 15m2-7l-2 7 7-3M6118 7388l-19 32m1-13l-1 13 11-7M6195 7388l-12 16m2-7l-2 7 6-3M6271 7388l10-15m-1 6l1-6-5 3M6348 7388l-24 19m5-10l-5 10 10-2M6424 7388l-28 2m9-5l-9 5 9 4M6501 7388l-20 5m5-5l-5 5 7 1M4130 7328l22 21m-10-3l10 3-4-10M4207 7328l-22 27m3-12l-3 12 11-5M4283 7328l-2 40m-5-13l5 13 7-12M4360 7328l-17 33m0-13l0 13 10-8M4436 7328l-13 28m0-11l0 11 9-7M4513 7328l-6 38m-4-13l4 13 8-11M4589 7328l-22 2m7-4l-7 4 7 3M4666 7328l-7 30m-2-10l2 10 7-8M4742 7328l-28 17m6-10l-6 10 12-1M4818 7328l-19 12m4-7l-4 7 8-1M4895 7328l-17 14m3-7l-3 7 7-2M4971 7328l-21 16m4-8l-4 8 9-2M5048 7328l-16 20m2-9l-2 9 8-4M5583 7328l-12 48m-4-17l4 17 11-13M5660 7328l-21 7m6-6l-6 6 8 1M5736 7328l-10 21m0-8l0 8 6-5M5813 7328l-5 24m-2-8l2 8 5-7M5889 7328l-5 19m-1-7l1 7 4-5M5965 7328l-19 27m2-11l-2 11 10-5M6042 7328l1 36m-6-11l6 11 5-11M6118 7328l-2 17m-2-6l2 6 3-5M6195 7328l-21 23m3-10l-3 10 10-4M6271 7328l-30 18m7-10l-7 10 12-1M6348 7328l-2 20m-2-7l2 7 4-6M6424 7328l-21-2m7-3l-7 3 6 4M6501 7328l-4 32m-4-11l4 11 6-9M4130 7268l-34-8m12-3l-12 3 9 8M4207 7268l-19 16m3-8l-3 8 8-2M4283 7268l1 35m-5-11l5 11 5-11M4360 7268l3 37m-7-11l7 11 5-12M4436 7268l-17 11m4-6l-4 6 7-1M4513 7268l-19 28m2-12l-2 12 10-6M4589 7268l-20 34m1-14l-1 14 12-8M4666 7268l-3 35m-4-11l4 11 6-10M4742 7268l-44 32m9-17l-9 17 19-3M4818 7268l-5 40m-4-13l4 13 8-12M4895 7268l-47 47m8-22l-8 22 22-8M4971 7268l-32 1m10-5l-10 5 10 5M5048 7268l-6 29m-3-10l3 10 6-8M5124 7268l-25-1m8-4l-8 4 8 4M5507 7268l-2 38m-5-12l5 12 6-12M5583 7268l-13 9m3-5l-3 5 6-1M5660 7268l-29 22m6-11l-6 11 13-2M5736 7268l-3 33m-4-11l4 11 6-10M5813 7268l-24 14m5-8l-5 8 10-1M5889 7268l-19 23m3-10l-3 10 10-4M5965 7268l-37-5m12-4l-12 4 11 7M6042 7268l-8 14m0-6l0 6 5-4M6118 7268l0 19m-3-6l3 6 3-6M6195 7268l-23 5m7-5l-7 5 8 2M6271 7268l-25 24m4-11l-4 11 12-4M6348 7268l-18 28m1-11l-1 11 10-6M6424 7268l-20 30m2-13l-2 13 11-6M6501 7268l-23 31m2-13l-2 13 12-6M4130 7208l-24-13m9 0l-9 0 6 8M4207 7208l-15 18m2-8l-2 8 8-3M4283 7208l-37 9m10-8l-10 8 13 3M4360 7208l-15 17m2-8l-2 8 8-3M4436 7208l21 19m-10-3l10 3-4-9M4513 7208l-18 19m3-9l-3 9 8-3M4589 7208l0 24m-4-8l4 8 4-8M4666 7208l-4 22m-2-8l2 8 5-7M4742 7208l-13 24m0-9l0 9 8-6M4818 7208l-23 7m6-6l-6 6 8 1M4895 7208l-4 24m-2-8l2 8 5-7M4971 7208l-17 15m3-7l-3 7 7-2M5048 7208l-8 34m-3-12l3 12 8-9M5124 7208l1 27m-5-8l5 8 4-9M5201 7208l2 30m-5-9l5 9 4-10M5277 7208l-12 15m1-7l-1 7 6-3M5354 7208l-2 27m-4-9l4 9 5-8M5430 7208l-1 18m-2-6l2 6 3-5M5507 7208l-28 19m6-10l-6 10 12-2M5583 7208l1 36m-6-11l6 11 5-12M5660 7208l2 21m-4-6l4 6 3-7M5736 7208l-1 35m-5-11l5 11 6-11M5813 7208l21-14m-4 8l4-8-9 1M5889 7208l-30 19m6-11l-6 11 12-1M5965 7208l-1 16m-2-6l2 6 3-5M6042 7208l-16 10m3-6l-3 6 7-1M6118 7208l1 28m-5-9l5 9 4-9M6195 7208l-17 19m2-9l-2 9 8-3M6271 7208l-14 11m3-6l-3 6 6-1M6348 7208l-23 21m4-10l-4 10 10-3M6424 7208l-18 11m4-6l-4 6 7-1M6501 7208l-15 18m2-8l-2 8 7-3M4130 7148l-12 21m0-8l0 8 7-5M4207 7148l-19-2m6-2l-6 2 6 3M4283 7148l-22 19m4-10l-4 10 10-3M4360 7148l-1 24m-3-8l3 8 4-8M4436 7148l-18 20m3-9l-3 9 9-4M4513 7148l-14 14m2-7l-2 7 7-2M4589 7148l1 16m-3-5l3 5 2-6M4666 7148l3 38m-7-12l7 12 5-13M4742 7148l-27 3m8-5l-8 5 9 3M4818 7148l-9 33m-2-12l2 12 8-9M4895 7148l-60 15m17-14l-17 14 21 4M4971 7148l-8 35m-3-12l3 12 8-10M5048 7148l-15 11m3-6l-3 6 7-1M5124 7148l35 3m-11 4l11-4-10-6M5201 7148l-11 14m1-6l-1 6 6-3M5277 7148l-14 16m2-7l-2 7 7-3M5354 7148l-15 28m0-11l0 11 9-7M5430 7148l-5 18m-1-7l1 7 4-5M5507 7148l-12 12m2-6l-2 6 6-2M5583 7148l1 30m-5-9l5 9 4-10M5660 7148l-26 15m6-9l-6 9 10-1M5736 7148l-4 21m-2-7l2 7 5-6M5813 7148l-26 24m5-12l-5 12 12-4M5889 7148l-33 19m7-11l-7 11 13-1M5965 7148l-13 25m0-10l0 10 8-6M6042 7148l-9 16m0-6l0 6 5-4M6118 7148l12-26m0 10l0-10-8 6M6195 7148l-28 21m6-11l-6 11 12-2M6271 7148l-36 0m11-5l-11 5 11 5M6348 7148l-16 1m5-3l-5 3 6 2M6424 7148l-15 15m2-7l-2 7 7-3M6501 7148l-8 14m1-6l-1 6 5-3M4130 7087l-3 18m-2-6l2 6 4-5M4207 7087l-4 33m-4-11l4 11 6-10M4283 7087l-9 35m-3-12l3 12 8-10M4360 7087l-19 18m3-8l-3 8 9-3M4436 7087l-15 18m2-8l-2 8 7-3M4513 7087l-13 14m2-6l-2 6 6-2M4589 7087l-8 15m0-6l0 6 5-3M4666 7087l-18 29m1-12l-1 12 10-6M4742 7087l-3 36m-4-12l4 12 6-11M4818 7087l-7 35m-3-12l3 12 7-10M4895 7087l4 18m-4-5l4 5 1-6M4971 7087l-20 25m2-11l-2 11 10-5M5048 7087l-18 19m3-9l-3 9 9-3M5124 7087l-12 13m2-6l-2 6 6-2M5201 7087l-32 62m1-24l-1 24 20-15M5277 7087l-8 16m0-6l0 6 5-4M5354 7087l-29 25m5-12l-5 12 13-3M5430 7087l-9 18m0-7l0 7 6-4M5507 7087l-12 14m2-6l-2 6 6-3M5583 7087l-12 17m1-7l-1 7 6-4M5660 7087l-17 35m0-14l0 14 11-8M5736 7087l-32 19m7-11l-7 11 13-1M5813 7087l-13 18m1-8l-1 8 7-4M5889 7087l-18 15m3-7l-3 7 8-2M5965 7087l-15 10m3-5l-3 5 6-1M6042 7087l-6 25m-2-9l2 9 6-7M6118 7087l-6 33m-3-11l3 11 7-10M6195 7087l-3 21m-2-7l2 7 4-6M6271 7087l-19 24m2-10l-2 10 10-5M6348 7087l-21 13m5-7l-5 7 9-1M6424 7087l-16 22m2-9l-2 9 8-5M6501 7087l-6 27m-2-10l2 10 6-8M4130 7027l-38 9m10-9l-10 9 13 3M4207 7027l-4 16m-1-6l1 6 4-5M4283 7027l-7 37m-3-13l3 13 8-11M4360 7027l-11 20m1-8l-1 8 7-5M4436 7027l0 18m-3-6l3 6 3-6M4513 7027l-28 28m5-13l-5 13 13-4M4589 7027l-18 20m3-9l-3 9 9-4M4666 7027l-36 37m6-17l-6 17 17-6M4742 7027l-13 15m2-7l-2 7 7-3M4818 7027l18 13m-8-1l8 1-4-7M4895 7027l-28 19m6-10l-6 10 12-2M4971 7027l-1 28m-4-9l4 9 5-9M5048 7027l-2 39m-5-13l5 13 6-12M5124 7027l-4 16m-1-6l1 6 4-5M5201 7027l-20 24m2-11l-2 11 10-5M5277 7027l-9 16m1-6l-1 6 5-4M5354 7027l-17-14m7 2l-7-2 3 7M5430 7027l-9 34m-2-12l2 12 8-9M5507 7027l-11 27m-1-10l1 10 7-7M5583 7027l-16 20m2-9l-2 9 8-4M5660 7027l-5 24m-2-8l2 8 5-7M5736 7027l-2 17m-2-6l2 6 3-5M5813 7027l-15 16m2-7l-2 7 7-3M5889 7027l-34 11m9-9l-9 9 12 2M5965 7027l-18 20m2-9l-2 9 9-4M6042 7027l16-9m-4 5l4-5-6 0M6118 7027l-39 0m12-6l-12 6 12 6M6195 7027l-6 33m-3-11l3 11 7-9M6271 7027l-11 24m0-9l0 9 7-6M6348 7027l-25 18m5-9l-5 9 11-2M6424 7027l-1 34m-5-11l5 11 5-11M6501 7027l-4 22m-2-8l2 8 5-6M4130 6967l-37 4m11-7l-11 7 12 4M4207 6967l-11 20m0-8l0 8 6-5M4283 6967l-11 19m1-8l-1 8 6-4M4360 6967l-1 24m-3-8l3 8 4-7M4436 6967l-3 27m-3-9l3 9 5-8M4513 6967l-18 23m2-10l-2 10 9-4M4589 6967l-1 26m-4-8l4 8 4-8M4666 6967l-12 71m-7-24l7 24 15-20M4742 6967l1 32m-5-10l5 10 5-10M4818 6967l-30 19m7-11l-7 11 12-1M4895 6967l-14 15m2-7l-2 7 7-3M4971 6967l1 25m-4-8l4 8 3-8M5048 6967l-20 15m4-8l-4 8 8-2M5124 6967l1 30m-5-9l5 9 4-10M5201 6967l-1 30m-4-9l4 9 5-9M5277 6967l-12 14m2-6l-2 6 6-2M5354 6967l-3 28m-3-9l3 9 5-8M5430 6967l-3 20m-2-7l2 7 4-6M5507 6967l-15 13m3-6l-3 6 7-2M5583 6967l-24 3m7-4l-7 4 8 3M5660 6967l-21 17m4-9l-4 9 9-2M5736 6967l2 33m-6-10l6 10 5-11M5813 6967l-37-1m12-5l-12 5 11 6M5889 6967l-17 16m3-8l-3 8 8-3M5965 6967l-29 24m5-12l-5 12 13-3M6042 6967l-16 16m3-7l-3 7 7-3M6118 6967l-13 10m3-5l-3 5 6-1M6195 6967l-18 18m3-8l-3 8 8-3M6271 6967l-14 20m1-8l-1 8 7-4M6348 6967l-14 26m0-10l0 10 8-6M6424 6967l-28-1m9-4l-9 4 9 4M6501 6967l-2 22m-3-7l3 7 4-7M4130 6907l21-7m-6 5l6-5-8-1M4207 6907l-16 19m2-9l-2 9 8-4M4283 6907l-17 27m1-11l-1 11 9-6M4360 6907l-20 20m3-10l-3 10 10-3M4436 6907l-29 24m5-12l-5 12 13-3M4513 6907l2 31m-6-9l6 9 4-10M4589 6907l-7 25m-2-9l2 9 6-7M4666 6907l-2 23m-3-7l3 7 4-7M4742 6907l-2 36m-5-12l5 12 6-11M4818 6907l-5 32m-3-11l3 11 6-9M4895 6907l-27 20m5-10l-5 10 12-2M4971 6907l-21 15m4-8l-4 8 9-2M5048 6907l-14 28m0-11l0 11 9-7M5124 6907l-41 30m8-16l-8 16 18-3M5201 6907l29 22m-13-2l13 2-6-11M5277 6907l-25 29m3-13l-3 13 12-5M5354 6907l-16 6m4-4l-4 4 6 1M5430 6907l-13 11m2-5l-2 5 6-1M5507 6907l-12 22m0-9l0 9 7-5M5583 6907l-10 18m0-7l0 7 6-4M5660 6907l-20 16m4-8l-4 8 9-2M5736 6907l-6 34m-3-12l3 12 7-10M5813 6907l2 25m-4-7l4 7 3-8M5889 6907l-19 27m2-11l-2 11 10-6M5965 6907l-28 19m6-10l-6 10 12-2M6042 6907l-21 30m2-13l-2 13 11-6M6118 6907l-1 18m-2-6l2 6 3-5M6195 6907l-17 11m4-6l-4 6 7-1M6271 6907l-9 16m0-7l0 7 5-4M6348 6907l0 23m-3-7l3 7 4-7M6424 6907l-13 12m2-6l-2 6 6-2M6501 6907l1 27m-4-9l4 9 4-9M4130 6847l-25 26m4-12l-4 12 12-4M4207 6847l-33 19m7-11l-7 11 13-1M4283 6847l-19 1m6-3l-6 3 6 2M4360 6847l-34 6m10-7l-10 7 12 3M4436 6847l-5 19m-2-7l2 7 4-5M4513 6847l-19 26m2-11l-2 11 10-5M4589 6847l-10 15m1-6l-1 6 5-3M4666 6847l-32 20m7-11l-7 11 13-1M4742 6847l-23 22m4-11l-4 11 11-4M4818 6847l-5 33m-4-11l4 11 7-10M4895 6847l-28-1m9-4l-9 4 9 5M4971 6847l-5 21m-2-7l2 7 5-6M5048 6847l-5 26m-2-9l2 9 6-7M5124 6847l-18 15m4-7l-4 7 8-2M5201 6847l-28 19m6-10l-6 10 12-2M5277 6847l-8 16m0-6l0 6 5-4M5354 6847l-11 12m2-6l-2 6 6-2M5430 6847l-32 11m8-8l-8 8 12 1M5507 6847l-10 15m1-6l-1 6 5-3M5583 6847l-18 3m5-4l-5 4 6 2M5660 6847l-19 32m1-13l-1 13 11-7M5736 6847l-18 16m3-8l-3 8 8-2M5813 6847l-15 29m0-11l0 11 9-7M5889 6847l1 34m-6-10l6 10 5-11M5965 6847l2 29m-5-9l5 9 4-9M6042 6847l-39 0m12-6l-12 6 12 6M6118 6847l0 31m-5-10l5 10 5-10M6195 6847l-15 17m2-8l-2 8 7-3M6271 6847l-21 26m3-11l-3 11 10-5M6348 6847l-26 29m4-13l-4 13 12-5M6424 6847l-32 6m9-7l-9 7 11 3M6501 6847l-5 28m-3-9l3 9 6-8M4130 6787l19 6m-7 1l7-1-5-5M4207 6787l-1 19m-2-6l2 6 3-6M4283 6787l-9 18m0-7l0 7 5-4M4360 6787l-24 26m4-12l-4 12 12-4M4436 6787l2 23m-4-7l4 7 3-7M4513 6787l-26 29m4-13l-4 13 13-5M4589 6787l-34 24m7-13l-7 13 14-2M4666 6787l-18 35m0-14l0 14 11-8M4742 6787l-37 3m11-6l-11 6 12 5M4818 6787l-1 36m-5-11l5 11 6-11M4895 6787l-23 37m2-15l-2 15 13-8M4971 6787l-7 34m-3-12l3 12 8-10M5048 6787l0 33m-5-10l5 10 5-10M5124 6787l-34-1m11-5l-11 5 10 5M5201 6787l2 33m-6-10l6 10 4-11M5277 6787l-44 56m5-24l-5 24 22-11M5354 6787l0 34m-5-11l5 11 5-11M5430 6787l-1 26m-4-8l4 8 4-8M5507 6787l-23 23m4-11l-4 11 11-4M5583 6787l-29 19m6-11l-6 11 12-2M5660 6787l-17 20m2-9l-2 9 8-4M5736 6787l-17 16m3-8l-3 8 8-2M5813 6787l-13 15m2-7l-2 7 6-3M5889 6787l-32 21m7-11l-7 11 13-2M5965 6787l-29 4m9-6l-9 6 10 3M6042 6787l-2 31m-4-10l4 10 5-9M6118 6787l-29 27m5-13l-5 13 13-4M6195 6787l-22 7m6-5l-6 5 8 1M6271 6787l-3 29m-4-9l4 9 5-9M6348 6787l-18 1m6-3l-6 3 6 2M6424 6787l-7 33m-3-12l3 12 7-9M6501 6787l-17 14m3-7l-3 7 8-2M4130 6727l-18 16m3-8l-3 8 8-2M4207 6727l-21 23m3-10l-3 10 10-4M4283 6727l-2 21m-2-7l2 7 4-6M4360 6727l-26 17m6-9l-6 9 11-1M4436 6727l-24 1m7-4l-7 4 8 3M4513 6727l-9 34m-2-12l2 12 8-9M4589 6727l-1 17m-2-6l2 6 3-5M4666 6727l-8-39m8 11l-8-11-4 13M4742 6727l-11 12m2-6l-2 6 6-2M4818 6727l-31 22m6-12l-6 12 13-2M4895 6727l-16 18m2-8l-2 8 8-3M4971 6727l1 39m-6-12l6 12 6-12M5048 6727l0 28m-4-9l4 9 4-9M5124 6727l-37-3m12-5l-12 5 11 7M5201 6727l-1 22m-3-7l3 7 4-7M5277 6727l0 33m-5-10l5 10 5-10M5354 6727l-5 25m-2-9l2 9 5-7M5430 6727l-12 19m1-8l-1 8 7-4M5507 6727l-24 31m3-14l-3 14 12-6M5583 6727l-3 19m-2-6l2 6 4-5M5660 6727l-6 22m-2-8l2 8 5-6M5736 6727l-33-1m11-5l-11 5 10 5M5813 6727l-19 11m4-6l-4 6 8-1M5889 6727l-7 58m-7-19l7 19 11-17M5965 6727l-14 10m3-5l-3 5 6-1M6042 6727l-18 17m3-8l-3 8 8-3M6118 6727l-6 35m-3-12l3 12 7-10M6195 6727l-24 11m6-7l-6 7 9 0M6271 6727l-44 28m10-16l-10 16 18-2M6348 6727l-11 55m-5-19l5 19 12-16M6424 6727l-41 37m7-18l-7 18 19-5M6501 6727l-15 22m1-9l-1 9 8-5M4130 6666l-2 34m-5-11l5 11 6-10M4207 6666l-5 31m-3-10l3 10 6-9M4283 6666l-26 29m4-13l-4 13 13-5M4360 6666l-10 16m1-7l-1 7 6-4M4436 6666l-18 16m3-8l-3 8 8-2M4513 6666l-13 17m1-7l-1 7 7-4M4589 6666l-5 18m-1-6l1 6 4-5M4666 6666l-4 21m-2-7l2 7 5-6M4742 6666l-11 14m1-6l-1 6 6-3M4818 6666l-26 24m5-11l-5 11 12-3M4895 6666l-12 15m1-6l-1 6 6-3M4971 6666l-18 25m2-11l-2 11 10-5M5048 6666l-30-3m10-4l-10 4 9 5M5124 6666l-24 22m4-10l-4 10 11-3M5201 6666l-27 22m5-11l-5 11 12-3M5277 6666l-19-3m6-2l-6 2 6 4M5354 6666l-30 10m8-8l-8 8 11 1M5430 6666l-12 20m1-8l-1 8 7-4M5507 6666l-24 29m3-13l-3 13 12-6M5583 6666l-15 20m2-9l-2 9 8-4M5660 6666l-7 51m-6-17l6 17 10-15M5736 6666l18-21m-3 9l3-9-9 4M5813 6666l-14 29m0-11l0 11 9-7M5889 6666l-26 29m4-13l-4 13 12-5M5965 6666l1 16m-3-5l3 5 2-6M6042 6666l-29 45m2-19l-2 19 16-10M6118 6666l-12 16m2-7l-2 7 6-3M6195 6666l-14 10m3-5l-3 5 6-1M6271 6666l-4 20m-2-7l2 7 4-6M6348 6666l-26 22m5-11l-5 11 11-3M6424 6666l-8 35m-3-12l3 12 8-10M6501 6666l-24 23m4-11l-4 11 11-4M4130 6606l-8 37m-3-13l3 13 8-11M4207 6606l-30-3m10-4l-10 4 9 5M4283 6606l-4 26m-3-9l3 9 5-8M4360 6606l0 19m-3-6l3 6 3-6M4436 6606l2 29m-5-9l5 9 4-10M4513 6606l-10 17m0-7l0 7 6-4M4589 6606l1 37m-6-11l6 11 5-12M4666 6606l-34 20m8-12l-8 12 14-1M4742 6606l-8 14m1-6l-1 6 5-3M4818 6606l-21-1m7-3l-7 3 6 3M4895 6606l-45 35m9-18l-9 18 19-4M4971 6606l-19 15m4-8l-4 8 8-2M5048 6606l-10 17m1-7l-1 7 6-4M5124 6606l-25 15m5-8l-5 8 10-1M5201 6606l-6 22m-1-8l1 8 5-6M5277 6606l-13 12m2-6l-2 6 6-2M5354 6606l-22 19m4-9l-4 9 10-3M5430 6606l-23 22m4-11l-4 11 11-4M5507 6606l-22 23m3-10l-3 10 10-4M5583 6606l-26 22m5-11l-5 11 11-3M5660 6606l-15 22m1-9l-1 9 8-5M5736 6606l1 31m-5-10l5 10 4-10M5813 6606l-13 17m2-7l-2 7 7-3M5889 6606l-12 24m0-9l0 9 7-6M5965 6606l0 30m-5-10l5 10 5-10M6042 6606l-23 22m4-11l-4 11 11-3M6118 6606l1 23m-4-7l4 7 3-7M6195 6606l-16 19m2-8l-2 8 8-4M6271 6606l-7 35m-3-12l3 12 8-10M6348 6606l-16 23m2-10l-2 10 8-5M6424 6606l-2 19m-2-6l2 6 3-6M6501 6606l-9-14m5 3l-5-3 1 6M4130 6546l0 23m-4-7l4 7 3-7M4207 6546l-12 17m1-7l-1 7 6-3M4283 6546l1 22m-4-7l4 7 3-7M4360 6546l2 38m-6-12l6 12 5-12M4436 6546l-16 11m3-6l-3 6 7-1M4513 6546l-12 13m2-6l-2 6 6-2M4589 6546l-27 3m8-5l-8 5 9 3M4666 6546l-2 33m-4-11l4 11 6-10M4742 6546l-4 34m-4-11l4 11 6-10M4818 6546l-4 33m-4-11l4 11 6-10M4895 6546l0 29m-4-9l4 9 4-9M4971 6546l-29-62m19 15l-19-15 0 24M5048 6546l-22 15m5-8l-5 8 9-1M5124 6546l1 34m-6-10l6 10 5-11M5201 6546l-28 22m5-11l-5 11 12-3M5277 6546l-10 20m0-8l0 8 6-5M5354 6546l-6 28m-2-10l2 10 6-8M5430 6546l-22 1m7-4l-7 4 7 3M5507 6546l-11 15m1-6l-1 6 6-3M5583 6546l-22 31m2-13l-2 13 11-6M5660 6546l-3 34m-4-11l4 11 6-10M5736 6546l-3 21m-2-7l2 7 4-6M5813 6546l-14 16m2-7l-2 7 7-3M5889 6546l-27 22m5-11l-5 11 12-3M5965 6546l30 16m-12 0l12 0-7-10M6042 6546l-19 28m2-12l-2 12 10-6M6118 6546l-33 0m10-5l-10 5 10 5M6195 6546l-20 18m4-9l-4 9 9-3M6271 6546l-15 14m3-7l-3 7 7-2M6348 6546l-32 21m7-12l-7 12 13-2M6424 6546l-31 22m6-12l-6 12 13-2M6501 6546l-19 19m3-9l-3 9 9-3" stroke-width="5.5" opacity="0.7"/>
<path d="M5201 7689l35-5m-10 7l10-7-12-4M5277 7689l37-4m-11 7l11-7-12-4M5354 7689l-69-2m22-10l-22 10 21 11M5430 7689l-36 4m11-7l-11 7 12 4M5124 7629l8 62m-12-18l12 18 7-21M5201 7629l25 31m-13-6l13 6-3-14M5277 7629l34 11m-12 2l12-2-9-9M5354 7629l-31-2m10-4l-10 4 9 5M5430 7629l36-31m-6 15l6-15-16 4M5507 7629l58-36m-13 20l13-20-24 2M5048 7569l19 17m-9-2l9 2-3-8M5124 7569l-3 30m-4-10l4 10 5-9M5201 7569l-34-7m12-3l-12 3 10 7M5430 7569l-36 9m10-8l-10 8 13 2M5507 7569l7 50m-10-15l10 15 5-17M5583 7569l-42 49m6-22l-6 22 21-9M5048 7509l-1 48m-7-15l7 15 8-15M5124 7509l-37-43m18 8l-18-8 5 19M5507 7509l15-58m4 21l-4-21-14 16M5583 7509l23 44m-14-10l14 10-1-17M5048 7448l-10 46m-4-16l4 16 10-13M5124 7448l-36 49m4-21l-4 21 19-10M5507 7448l-5-49m9 15l-9-15-6 16M5583 7448l15-52m3 19l-3-19-13 14M5048 7388l8-24m1 9l-1-9-6 6M5124 7388l11-45m3 16l-3-16-10 12M5201 7388l20-38m0 15l0-15-12 9M5430 7388l-44-4m15-5l-15 5 13 8M5507 7388l27 19m-12-2l12 2-6-10M5583 7388l5 47m-9-14l9 14 6-16M5124 7328l10-54m5 19l-5-19-11 15M5201 7328l-52 44m10-22l-10 22 23-6M5277 7328l-62-11m21-6l-21 6 18 13M5354 7328l-64 18m17-15l-17 15 23 4M5430 7328l-46-16m17-2l-17 2 12 12M5507 7328l-36-5m12-4l-12 4 11 7M5201 7268l-46 35m9-18l-9 18 20-4M5277 7268l-30 18m7-10l-7 10 12-1M5354 7268l-34-11m12-2l-12 2 9 9M5430 7268l31 49m-17-11l17 11-2-20" stroke-width="5.5" opacity="0.8"/>
</g>
<text x="51.30" y="288.60" font-size="19.50" font-family="Liberation Serif" font-weight="bold" fill="#000" textLength="24.30" lengthAdjust="spacingAndGlyphs">(a)</text>
<text x="83.80" y="288.60" font-size="18.50" font-family="Liberation Serif" font-style="italic" fill="#000" stroke="#fff" stroke-width="0.12" textLength="188.80" lengthAdjust="spacingAndGlyphs">Cancer cell population</text>
<text x="397.20" y="288.60" font-size="19.50" font-family="Liberation Serif" font-weight="bold" fill="#000" textLength="25.70" lengthAdjust="spacingAndGlyphs">(b)</text>
<text x="433.30" y="288.60" font-size="18.50" font-family="Liberation Serif" font-style="italic" fill="#000" stroke="#fff" stroke-width="0.12" textLength="204.00" lengthAdjust="spacingAndGlyphs">Cancer cell population 2</text>
<text x="42.70" y="603.70" font-size="19.50" font-family="Liberation Serif" font-weight="bold" fill="#000" textLength="23.00" lengthAdjust="spacingAndGlyphs">(c)</text>
<text x="75.50" y="603.70" font-size="18.50" font-family="Liberation Serif" font-style="italic" fill="#000" stroke="#fff" stroke-width="0.12" textLength="203.70" lengthAdjust="spacingAndGlyphs">Fibre magnitude density</text>
<text x="381.20" y="603.70" font-size="19.50" font-family="Liberation Serif" font-weight="bold" fill="#000" textLength="25.50" lengthAdjust="spacingAndGlyphs">(d)</text>
<text x="414.60" y="603.70" font-size="18.50" font-family="Liberation Serif" font-style="italic" fill="#000" stroke="#fff" stroke-width="0.12" textLength="240.20" lengthAdjust="spacingAndGlyphs">Non-fibres ECM distribution</text>
<text x="0.30" y="911.60" font-size="19.50" font-family="Liberation Serif" font-weight="bold" fill="#000" textLength="22.10" lengthAdjust="spacingAndGlyphs">(e)</text>
<text x="28.80" y="911.60" font-size="18.50" font-family="Liberation Serif" font-style="italic" fill="#000" stroke="#fff" stroke-width="0.12" textLength="296.90" lengthAdjust="spacingAndGlyphs">Fibre vector field - coarsened 2 fold</text>
<text x="353.20" y="911.60" font-size="19.50" font-family="Liberation Serif" font-weight="bold" fill="#000" textLength="20.50" lengthAdjust="spacingAndGlyphs">(f)</text>
<text x="384.20" y="911.60" font-size="18.50" font-family="Liberation Serif" font-style="italic" fill="#000" stroke="#fff" stroke-width="0.12" textLength="297.00" lengthAdjust="spacingAndGlyphs">Fibre vector field - coarsened 4 fold</text>
</svg>
</body></html>
